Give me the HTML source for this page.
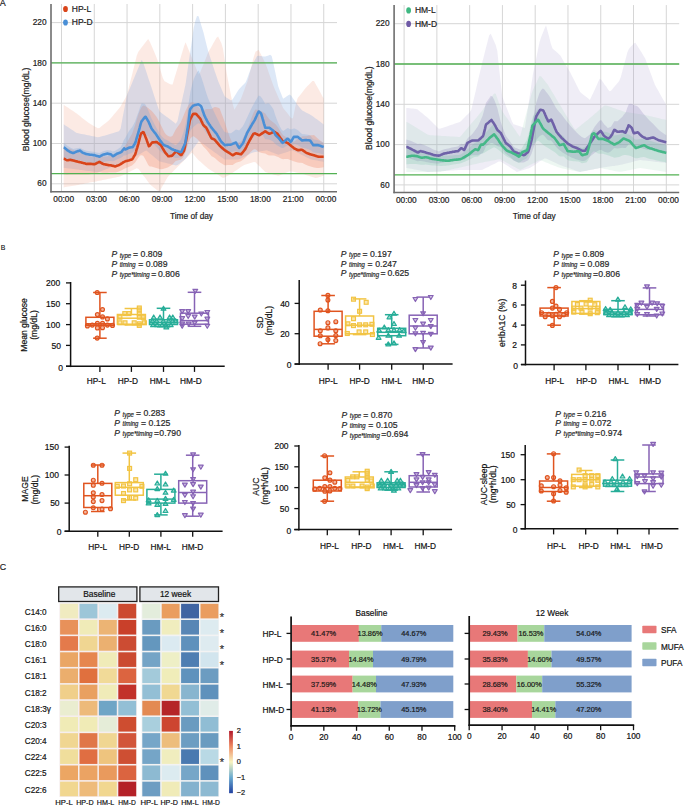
<!DOCTYPE html>
<html><head><meta charset="utf-8"><style>
html,body{margin:0;padding:0;background:#fff;width:685px;height:805px;overflow:hidden}
svg{display:block}
text{font-family:"Liberation Sans", sans-serif; stroke:currentColor; stroke-width:0.18px; paint-order:stroke}
</style></head><body>
<svg width="685" height="805" viewBox="0 0 685 805">
<g>
<line x1="61.50" y1="3.98" x2="61.50" y2="191.80" stroke="#d6d6d6" stroke-width="1" />
<line x1="94.28" y1="3.98" x2="94.28" y2="191.80" stroke="#d6d6d6" stroke-width="1" />
<line x1="127.06" y1="3.98" x2="127.06" y2="191.80" stroke="#d6d6d6" stroke-width="1" />
<line x1="159.84" y1="3.98" x2="159.84" y2="191.80" stroke="#d6d6d6" stroke-width="1" />
<line x1="192.62" y1="3.98" x2="192.62" y2="191.80" stroke="#d6d6d6" stroke-width="1" />
<line x1="225.40" y1="3.98" x2="225.40" y2="191.80" stroke="#d6d6d6" stroke-width="1" />
<line x1="258.18" y1="3.98" x2="258.18" y2="191.80" stroke="#d6d6d6" stroke-width="1" />
<line x1="290.96" y1="3.98" x2="290.96" y2="191.80" stroke="#d6d6d6" stroke-width="1" />
<line x1="323.74" y1="3.98" x2="323.74" y2="191.80" stroke="#d6d6d6" stroke-width="1" />
<line x1="51.00" y1="183.80" x2="337.00" y2="183.80" stroke="#d6d6d6" stroke-width="1" />
<line x1="51.00" y1="143.50" x2="337.00" y2="143.50" stroke="#d6d6d6" stroke-width="1" />
<line x1="51.00" y1="103.20" x2="337.00" y2="103.20" stroke="#d6d6d6" stroke-width="1" />
<line x1="51.00" y1="62.90" x2="337.00" y2="62.90" stroke="#d6d6d6" stroke-width="1" />
<line x1="51.00" y1="22.60" x2="337.00" y2="22.60" stroke="#d6d6d6" stroke-width="1" />
<path d="M63.7,104.8 L65.3,105.9 L67.0,107.0 L68.6,108.1 L70.2,109.2 L71.8,110.2 L73.5,111.3 L75.1,112.4 L76.7,113.5 L78.3,114.8 L80.0,116.1 L81.6,117.4 L83.2,118.7 L84.8,120.0 L86.5,121.3 L88.1,122.5 L89.7,123.5 L91.3,124.4 L93.0,125.4 L94.6,126.4 L96.2,127.3 L97.8,128.3 L99.5,127.9 L101.1,126.6 L102.7,125.3 L104.3,124.0 L106.0,122.7 L107.6,121.4 L109.2,120.1 L110.8,118.2 L112.5,116.2 L114.1,114.3 L115.7,112.4 L117.3,110.4 L119.0,108.5 L120.6,106.4 L122.2,103.6 L123.8,100.8 L125.5,98.1 L127.1,94.5 L128.7,88.0 L130.3,81.5 L132.0,75.1 L133.6,68.6 L135.2,62.1 L136.8,55.6 L138.5,51.5 L140.1,49.4 L141.7,47.3 L143.3,45.2 L145.0,43.1 L146.6,41.0 L148.2,38.9 L149.8,41.7 L151.5,45.5 L153.1,49.3 L154.7,53.1 L156.3,57.0 L158.0,61.6 L159.6,67.1 L161.2,72.5 L162.8,78.0 L164.5,81.3 L166.1,82.1 L167.7,82.9 L169.3,83.7 L171.0,84.5 L172.6,84.6 L174.2,79.1 L175.8,73.7 L177.5,68.2 L179.1,62.8 L180.7,57.4 L182.3,51.9 L184.0,46.5 L185.6,42.2 L187.2,46.2 L188.8,50.2 L190.5,54.3 L192.1,58.3 L193.7,62.3 L195.3,66.3 L197.0,70.4 L198.6,74.4 L200.2,72.4 L201.8,68.3 L203.5,64.3 L205.1,60.2 L206.7,56.2 L208.3,52.1 L210.0,49.2 L211.6,46.4 L213.2,43.5 L214.8,40.7 L216.5,37.8 L218.1,36.5 L219.7,39.7 L221.3,42.9 L223.0,48.8 L224.6,59.5 L226.2,70.3 L227.9,79.7 L229.5,87.8 L231.1,95.9 L232.7,104.0 L234.4,109.8 L236.0,107.1 L237.6,104.4 L239.2,101.7 L240.9,99.0 L242.5,94.8 L244.1,90.5 L245.7,86.1 L247.4,81.7 L249.0,76.1 L250.6,69.6 L252.2,63.1 L253.9,56.6 L255.5,51.7 L257.1,50.7 L258.7,50.0 L260.4,53.2 L262.0,56.5 L263.6,59.7 L265.2,63.0 L266.9,67.3 L268.5,71.9 L270.1,76.5 L271.7,81.1 L273.4,85.7 L275.0,89.7 L276.6,93.3 L278.2,97.0 L279.9,100.7 L281.5,104.3 L283.1,108.0 L284.7,110.1 L286.4,112.1 L288.0,114.1 L289.6,116.2 L291.2,118.2 L292.9,118.2 L294.5,110.7 L296.1,103.3 L297.7,98.0 L299.4,96.0 L301.0,93.9 L302.6,91.9 L304.2,89.8 L305.9,87.8 L307.5,86.0 L309.1,84.4 L310.7,82.8 L312.4,81.1 L314.0,80.9 L315.6,83.9 L317.2,86.8 L318.9,89.8 L320.5,92.8 L322.1,95.7 L323.7,98.7 L323.7,175.8 L322.1,176.3 L320.5,176.8 L318.9,177.3 L317.2,177.8 L315.6,178.1 L314.0,177.6 L312.4,177.0 L310.7,176.5 L309.1,176.0 L307.5,175.4 L305.9,174.9 L304.2,174.3 L302.6,173.8 L301.0,173.3 L299.4,173.0 L297.7,172.7 L296.1,172.4 L294.5,172.1 L292.9,171.8 L291.2,171.4 L289.6,171.4 L288.0,172.0 L286.4,172.6 L284.7,173.3 L283.1,173.9 L281.5,174.6 L279.9,175.2 L278.2,175.8 L276.6,175.3 L275.0,174.9 L273.4,174.4 L271.7,174.0 L270.1,173.5 L268.5,173.1 L266.9,172.6 L265.2,171.9 L263.6,170.3 L262.0,168.7 L260.4,167.1 L258.7,165.5 L257.1,163.9 L255.5,162.3 L253.9,162.1 L252.2,162.6 L250.6,163.1 L249.0,163.6 L247.4,164.1 L245.7,164.6 L244.1,165.1 L242.5,165.9 L240.9,167.1 L239.2,168.2 L237.6,169.4 L236.0,170.5 L234.4,171.6 L232.7,172.8 L231.1,173.8 L229.5,174.8 L227.9,175.7 L226.2,176.6 L224.6,177.6 L223.0,177.9 L221.3,176.9 L219.7,175.8 L218.1,174.8 L216.5,173.8 L214.8,172.8 L213.2,171.8 L211.6,170.8 L210.0,169.8 L208.3,168.8 L206.7,167.3 L205.1,165.9 L203.5,164.5 L201.8,163.1 L200.2,161.6 L198.6,160.2 L197.0,158.5 L195.3,156.5 L193.7,154.6 L192.1,152.6 L190.5,154.0 L188.8,155.7 L187.2,157.3 L185.6,158.9 L184.0,160.5 L182.3,162.2 L180.7,163.8 L179.1,165.4 L177.5,167.0 L175.8,168.7 L174.2,170.3 L172.6,171.9 L171.0,173.5 L169.3,175.2 L167.7,177.0 L166.1,179.8 L164.5,182.7 L162.8,185.5 L161.2,188.4 L159.6,191.2 L158.0,190.7 L156.3,189.5 L154.7,188.2 L153.1,187.0 L151.5,185.8 L149.8,184.1 L148.2,181.9 L146.6,179.7 L145.0,177.6 L143.3,175.4 L141.7,173.3 L140.1,171.1 L138.5,168.9 L136.8,168.2 L135.2,169.0 L133.6,169.8 L132.0,170.6 L130.3,171.4 L128.7,172.2 L127.1,173.1 L125.5,173.9 L123.8,174.7 L122.2,175.5 L120.6,176.3 L119.0,176.8 L117.3,177.1 L115.7,177.4 L114.1,177.7 L112.5,178.1 L110.8,178.4 L109.2,178.7 L107.6,179.1 L106.0,179.4 L104.3,179.7 L102.7,180.0 L101.1,180.4 L99.5,180.7 L97.8,181.0 L96.2,181.4 L94.6,181.7 L93.0,182.0 L91.3,182.3 L89.7,182.6 L88.1,183.0 L86.5,183.3 L84.8,183.6 L83.2,183.9 L81.6,184.2 L80.0,184.6 L78.3,184.9 L76.7,185.2 L75.1,185.5 L73.5,185.7 L71.8,186.0 L70.2,186.3 L68.6,186.6 L67.0,186.8 L65.3,187.1 L63.7,187.4 Z" fill="#f39a80" fill-opacity="0.21"/>
<path d="M63.7,124.3 L65.3,125.4 L67.0,126.5 L68.6,127.6 L70.2,128.7 L71.8,129.7 L73.5,130.8 L75.1,131.9 L76.7,133.0 L78.3,133.3 L80.0,133.7 L81.6,134.0 L83.2,134.3 L84.8,134.6 L86.5,135.0 L88.1,135.3 L89.7,135.6 L91.3,136.0 L93.0,136.3 L94.6,136.6 L96.2,136.9 L97.8,137.3 L99.5,137.1 L101.1,136.6 L102.7,136.1 L104.3,135.7 L106.0,135.2 L107.6,134.7 L109.2,134.2 L110.8,133.7 L112.5,133.2 L114.1,132.7 L115.7,132.2 L117.3,131.8 L119.0,131.3 L120.6,128.8 L122.2,120.1 L123.8,111.4 L125.5,102.7 L127.1,95.1 L128.7,91.1 L130.3,87.2 L132.0,83.3 L133.6,79.3 L135.2,75.4 L136.8,71.5 L138.5,67.6 L140.1,63.6 L141.7,59.7 L143.3,63.0 L145.0,67.9 L146.6,72.8 L148.2,77.7 L149.8,82.6 L151.5,87.5 L153.1,92.4 L154.7,97.4 L156.3,102.3 L158.0,107.2 L159.6,111.5 L161.2,112.7 L162.8,113.9 L164.5,115.2 L166.1,116.4 L167.7,117.6 L169.3,118.8 L171.0,120.0 L172.6,121.2 L174.2,122.4 L175.8,123.7 L177.5,120.9 L179.1,113.5 L180.7,106.2 L182.3,98.9 L184.0,91.6 L185.6,83.9 L187.2,72.7 L188.8,61.5 L190.5,50.3 L192.1,39.2 L193.7,28.0 L195.3,20.9 L197.0,16.0 L198.6,16.2 L200.2,21.7 L201.8,27.1 L203.5,32.6 L205.1,38.9 L206.7,45.4 L208.3,51.8 L210.0,56.7 L211.6,61.6 L213.2,66.5 L214.8,71.4 L216.5,76.3 L218.1,80.9 L219.7,84.7 L221.3,88.5 L223.0,92.4 L224.6,96.2 L226.2,97.4 L227.9,98.5 L229.5,99.5 L231.1,100.6 L232.7,99.3 L234.4,96.6 L236.0,93.9 L237.6,91.2 L239.2,88.9 L240.9,87.2 L242.5,85.6 L244.1,84.0 L245.7,82.3 L247.4,78.0 L249.0,73.6 L250.6,69.3 L252.2,65.0 L253.9,61.7 L255.5,58.9 L257.1,56.0 L258.7,55.7 L260.4,56.0 L262.0,56.3 L263.6,56.6 L265.2,56.4 L266.9,55.9 L268.5,55.4 L270.1,54.8 L271.7,56.0 L273.4,63.5 L275.0,71.1 L276.6,78.7 L278.2,86.3 L279.9,90.7 L281.5,94.8 L283.1,98.8 L284.7,97.7 L286.4,96.6 L288.0,95.5 L289.6,94.4 L291.2,95.8 L292.9,98.2 L294.5,100.6 L296.1,102.8 L297.7,105.0 L299.4,107.2 L301.0,109.3 L302.6,110.8 L304.2,111.6 L305.9,112.5 L307.5,113.3 L309.1,114.1 L310.7,114.9 L312.4,116.0 L314.0,117.2 L315.6,118.4 L317.2,119.6 L318.9,120.8 L320.5,122.0 L322.1,123.3 L323.7,124.5 L323.7,161.8 L322.1,161.5 L320.5,161.2 L318.9,160.9 L317.2,160.6 L315.6,160.3 L314.0,160.0 L312.4,159.7 L310.7,159.3 L309.1,158.5 L307.5,157.7 L305.9,156.9 L304.2,156.1 L302.6,155.3 L301.0,154.4 L299.4,153.6 L297.7,152.8 L296.1,152.0 L294.5,151.2 L292.9,150.4 L291.2,150.6 L289.6,151.1 L288.0,151.7 L286.4,152.2 L284.7,152.7 L283.1,153.3 L281.5,153.8 L279.9,154.3 L278.2,154.7 L276.6,154.1 L275.0,153.4 L273.4,152.8 L271.7,152.2 L270.1,151.5 L268.5,150.9 L266.9,150.2 L265.2,150.5 L263.6,150.7 L262.0,151.0 L260.4,151.3 L258.7,151.5 L257.1,151.8 L255.5,152.0 L253.9,152.3 L252.2,152.7 L250.6,153.5 L249.0,154.4 L247.4,155.2 L245.7,156.0 L244.1,156.8 L242.5,157.6 L240.9,158.4 L239.2,159.2 L237.6,159.5 L236.0,159.5 L234.4,159.5 L232.7,159.5 L231.1,159.5 L229.5,159.5 L227.9,159.5 L226.2,159.5 L224.6,159.4 L223.0,158.3 L221.3,157.1 L219.7,155.9 L218.1,154.8 L216.5,153.6 L214.8,152.4 L213.2,151.3 L211.6,150.1 L210.0,148.9 L208.3,147.8 L206.7,146.6 L205.1,145.3 L203.5,144.1 L201.8,142.9 L200.2,141.7 L198.6,141.3 L197.0,143.5 L195.3,145.7 L193.7,147.9 L192.1,150.1 L190.5,152.3 L188.8,154.5 L187.2,156.7 L185.6,158.8 L184.0,160.2 L182.3,161.4 L180.7,162.7 L179.1,163.9 L177.5,165.1 L175.8,165.5 L174.2,165.1 L172.6,164.7 L171.0,164.3 L169.3,163.8 L167.7,163.4 L166.1,163.0 L164.5,162.6 L162.8,162.2 L161.2,161.8 L159.6,161.4 L158.0,160.2 L156.3,158.8 L154.7,157.5 L153.1,156.1 L151.5,154.7 L149.8,153.4 L148.2,152.0 L146.6,150.6 L145.0,151.1 L143.3,152.0 L141.7,153.0 L140.1,153.9 L138.5,154.8 L136.8,155.7 L135.2,156.6 L133.6,157.5 L132.0,158.4 L130.3,159.3 L128.7,160.2 L127.1,161.1 L125.5,161.8 L123.8,162.4 L122.2,163.0 L120.6,163.7 L119.0,164.3 L117.3,164.9 L115.7,165.5 L114.1,166.2 L112.5,166.8 L110.8,167.4 L109.2,168.1 L107.6,168.7 L106.0,169.3 L104.3,169.9 L102.7,170.6 L101.1,171.2 L99.5,171.8 L97.8,172.1 L96.2,171.9 L94.6,171.7 L93.0,171.5 L91.3,171.3 L89.7,171.1 L88.1,170.9 L86.5,170.7 L84.8,170.5 L83.2,170.3 L81.6,170.1 L80.0,169.9 L78.3,169.6 L76.7,169.4 L75.1,169.2 L73.5,169.0 L71.8,168.8 L70.2,168.6 L68.6,168.4 L67.0,168.2 L65.3,168.0 L63.7,167.8 Z" fill="#7aa8e0" fill-opacity="0.26"/>
<path d="M63.7,146.7 L65.3,147.4 L67.0,148.2 L68.6,148.6 L70.2,148.8 L71.8,149.4 L73.5,150.0 L75.1,150.7 L76.7,151.3 L78.3,152.0 L80.0,152.6 L81.6,153.3 L83.2,154.0 L84.8,154.7 L86.5,155.4 L88.1,155.8 L89.7,156.1 L91.3,156.4 L93.0,156.8 L94.6,157.1 L96.2,156.7 L97.8,156.2 L99.5,155.9 L101.1,156.2 L102.7,156.5 L104.3,156.5 L106.0,156.4 L107.6,156.2 L109.2,155.8 L110.8,155.4 L112.5,155.1 L114.1,154.7 L115.7,154.0 L117.3,153.0 L119.0,151.9 L120.6,150.4 L122.2,148.8 L123.8,147.1 L125.5,145.2 L127.1,142.4 L128.7,139.6 L130.3,136.8 L132.0,134.1 L133.6,129.6 L135.2,124.9 L136.8,119.5 L138.5,114.1 L140.1,109.9 L141.7,107.1 L143.3,105.4 L145.0,106.0 L146.6,106.9 L148.2,108.1 L149.8,109.4 L151.5,110.8 L153.1,112.5 L154.7,114.4 L156.3,116.4 L158.0,119.3 L159.6,122.4 L161.2,125.7 L162.8,129.1 L164.5,132.4 L166.1,134.4 L167.7,135.8 L169.3,136.5 L171.0,136.8 L172.6,135.7 L174.2,132.5 L175.8,129.4 L177.5,127.0 L179.1,124.7 L180.7,122.5 L182.3,118.8 L184.0,114.5 L185.6,110.7 L187.2,107.2 L188.8,104.4 L190.5,102.4 L192.1,102.2 L193.7,102.5 L195.3,103.9 L197.0,105.4 L198.6,107.2 L200.2,109.0 L201.8,109.8 L203.5,110.4 L205.1,109.6 L206.7,109.0 L208.3,109.1 L210.0,109.1 L211.6,109.1 L213.2,107.8 L214.8,106.9 L216.5,107.3 L218.1,107.8 L219.7,108.5 L221.3,112.9 L223.0,117.3 L224.6,121.7 L226.2,126.8 L227.9,131.9 L229.5,136.4 L231.1,140.2 L232.7,143.9 L234.4,144.0 L236.0,143.7 L237.6,143.0 L239.2,142.3 L240.9,141.6 L242.5,139.0 L244.1,136.1 L245.7,132.8 L247.4,128.8 L249.0,124.9 L250.6,120.5 L252.2,116.0 L253.9,111.9 L255.5,109.6 L257.1,109.8 L258.7,109.9 L260.4,110.7 L262.0,111.6 L263.6,112.5 L265.2,113.5 L266.9,115.9 L268.5,118.3 L270.1,120.1 L271.7,121.2 L273.4,122.4 L275.0,123.7 L276.6,125.6 L278.2,127.8 L279.9,130.4 L281.5,133.1 L283.1,135.2 L284.7,136.3 L286.4,137.3 L288.0,138.3 L289.6,139.3 L291.2,140.4 L292.9,141.4 L294.5,141.4 L296.1,140.1 L297.7,138.7 L299.4,137.8 L301.0,136.9 L302.6,136.3 L304.2,136.3 L305.9,136.2 L307.5,135.9 L309.1,135.6 L310.7,135.3 L312.4,135.2 L314.0,135.1 L315.6,136.4 L317.2,138.0 L318.9,139.5 L320.5,140.7 L322.1,141.9 L323.7,143.1 L323.7,167.3 L322.1,167.5 L320.5,167.8 L318.9,168.1 L317.2,168.0 L315.6,167.8 L314.0,167.5 L312.4,167.0 L310.7,166.6 L309.1,166.0 L307.5,165.4 L305.9,164.8 L304.2,164.0 L302.6,163.1 L301.0,162.8 L299.4,162.7 L297.7,162.5 L296.1,162.0 L294.5,161.4 L292.9,160.9 L291.2,160.3 L289.6,159.7 L288.0,159.1 L286.4,159.1 L284.7,159.1 L283.1,159.2 L281.5,158.7 L279.9,157.9 L278.2,157.1 L276.6,156.4 L275.0,155.7 L273.4,155.4 L271.7,155.5 L270.1,155.5 L268.5,155.2 L266.9,154.4 L265.2,153.6 L263.6,153.2 L262.0,152.9 L260.4,152.5 L258.7,151.9 L257.1,150.6 L255.5,149.3 L253.9,149.3 L252.2,150.6 L250.6,152.1 L249.0,153.7 L247.4,155.5 L245.7,157.2 L244.1,158.7 L242.5,160.1 L240.9,161.3 L239.2,161.8 L237.6,162.2 L236.0,162.7 L234.4,163.8 L232.7,164.9 L231.1,164.9 L229.5,165.0 L227.9,165.1 L226.2,165.2 L224.6,165.2 L223.0,164.2 L221.3,163.2 L219.7,162.3 L218.1,160.9 L216.5,159.4 L214.8,158.0 L213.2,157.1 L211.6,156.2 L210.0,154.2 L208.3,152.0 L206.7,149.9 L205.1,148.2 L203.5,146.8 L201.8,144.6 L200.2,142.2 L198.6,140.5 L197.0,138.8 L195.3,137.4 L193.7,136.3 L192.1,136.8 L190.5,138.3 L188.8,142.1 L187.2,146.9 L185.6,151.8 L184.0,156.1 L182.3,158.2 L180.7,159.8 L179.1,160.1 L177.5,160.4 L175.8,160.9 L174.2,162.6 L172.6,164.4 L171.0,165.6 L169.3,166.6 L167.7,167.5 L166.1,168.1 L164.5,168.6 L162.8,168.9 L161.2,169.2 L159.6,169.0 L158.0,168.6 L156.3,168.1 L154.7,167.5 L153.1,166.9 L151.5,166.6 L149.8,166.6 L148.2,165.0 L146.6,161.8 L145.0,158.7 L143.3,155.8 L141.7,155.2 L140.1,155.6 L138.5,157.4 L136.8,159.9 L135.2,162.4 L133.6,164.1 L132.0,165.6 L130.3,166.3 L128.7,166.9 L127.1,167.6 L125.5,168.2 L123.8,169.0 L122.2,169.9 L120.6,170.7 L119.0,171.5 L117.3,171.9 L115.7,172.4 L114.1,172.5 L112.5,172.5 L110.8,172.5 L109.2,172.6 L107.6,172.7 L106.0,172.8 L104.3,172.8 L102.7,172.7 L101.1,172.5 L99.5,172.2 L97.8,172.7 L96.2,173.3 L94.6,173.8 L93.0,173.9 L91.3,174.0 L89.7,174.2 L88.1,174.4 L86.5,174.5 L84.8,174.5 L83.2,174.5 L81.6,174.5 L80.0,174.5 L78.3,174.5 L76.7,174.5 L75.1,174.5 L73.5,174.4 L71.8,174.4 L70.2,174.4 L68.6,174.6 L67.0,174.8 L65.3,174.6 L63.7,174.5 Z" fill="#f08464" fill-opacity="0.3"/>
<path d="M63.7,143.2 L65.3,144.1 L67.0,145.4 L68.6,146.6 L70.2,147.6 L71.8,148.3 L73.5,148.9 L75.1,148.6 L76.7,148.2 L78.3,148.0 L80.0,147.7 L81.6,148.8 L83.2,149.6 L84.8,150.2 L86.5,150.7 L88.1,151.0 L89.7,151.2 L91.3,151.5 L93.0,151.7 L94.6,151.9 L96.2,152.4 L97.8,152.8 L99.5,153.1 L101.1,152.3 L102.7,151.5 L104.3,151.0 L106.0,150.6 L107.6,150.3 L109.2,150.4 L110.8,150.6 L112.5,151.5 L114.1,151.3 L115.7,150.4 L117.3,149.5 L119.0,148.3 L120.6,147.2 L122.2,144.3 L123.8,140.0 L125.5,137.5 L127.1,134.5 L128.7,131.5 L130.3,129.3 L132.0,127.2 L133.6,124.5 L135.2,121.2 L136.8,116.6 L138.5,111.9 L140.1,106.9 L141.7,103.3 L143.3,103.6 L145.0,104.0 L146.6,106.7 L148.2,110.3 L149.8,114.3 L151.5,118.5 L153.1,121.6 L154.7,124.6 L156.3,127.7 L158.0,130.8 L159.6,134.0 L161.2,135.8 L162.8,137.6 L164.5,139.0 L166.1,139.8 L167.7,140.5 L169.3,141.6 L171.0,142.7 L172.6,143.6 L174.2,144.4 L175.8,145.2 L177.5,143.8 L179.1,141.9 L180.7,140.0 L182.3,135.8 L184.0,130.5 L185.6,124.3 L187.2,113.4 L188.8,102.1 L190.5,91.4 L192.1,84.8 L193.7,79.3 L195.3,75.8 L197.0,72.2 L198.6,70.5 L200.2,74.3 L201.8,78.8 L203.5,84.1 L205.1,89.3 L206.7,94.4 L208.3,98.8 L210.0,102.8 L211.6,106.7 L213.2,110.1 L214.8,113.5 L216.5,116.9 L218.1,120.3 L219.7,123.7 L221.3,126.8 L223.0,129.4 L224.6,132.0 L226.2,132.5 L227.9,132.8 L229.5,133.2 L231.1,133.3 L232.7,132.1 L234.4,130.8 L236.0,129.6 L237.6,130.1 L239.2,130.4 L240.9,128.5 L242.5,126.7 L244.1,123.9 L245.7,120.5 L247.4,117.1 L249.0,113.5 L250.6,110.0 L252.2,106.8 L253.9,103.7 L255.5,100.8 L257.1,98.0 L258.7,95.5 L260.4,96.3 L262.0,98.2 L263.6,101.1 L265.2,103.9 L266.9,103.6 L268.5,103.3 L270.1,104.4 L271.7,106.8 L273.4,109.2 L275.0,114.6 L276.6,118.9 L278.2,122.8 L279.9,126.5 L281.5,129.4 L283.1,131.0 L284.7,129.9 L286.4,128.7 L288.0,128.0 L289.6,129.0 L291.2,129.6 L292.9,128.7 L294.5,128.6 L296.1,129.3 L297.7,130.0 L299.4,131.6 L301.0,133.2 L302.6,134.2 L304.2,134.3 L305.9,134.4 L307.5,134.8 L309.1,135.1 L310.7,136.1 L312.4,138.2 L314.0,139.4 L315.6,139.8 L317.2,140.1 L318.9,140.6 L320.5,141.3 L322.1,142.1 L323.7,142.8 L323.7,154.4 L322.1,154.0 L320.5,153.5 L318.9,153.1 L317.2,152.9 L315.6,152.7 L314.0,152.6 L312.4,151.7 L310.7,150.3 L309.1,149.4 L307.5,148.9 L305.9,148.5 L304.2,148.1 L302.6,147.8 L301.0,147.0 L299.4,145.9 L297.7,144.9 L296.1,144.5 L294.5,144.0 L292.9,144.7 L291.2,146.0 L289.6,145.9 L288.0,145.2 L286.4,145.9 L284.7,146.9 L283.1,147.9 L281.5,147.7 L279.9,146.9 L278.2,146.0 L276.6,145.0 L275.0,143.7 L273.4,141.8 L271.7,140.8 L270.1,139.9 L268.5,139.4 L266.9,139.2 L265.2,139.1 L263.6,136.4 L262.0,133.7 L260.4,132.0 L258.7,131.5 L257.1,133.3 L255.5,135.2 L253.9,136.9 L252.2,138.5 L250.6,140.2 L249.0,142.0 L247.4,143.9 L245.7,146.2 L244.1,148.7 L242.5,150.7 L240.9,152.1 L239.2,153.6 L237.6,152.4 L236.0,151.0 L234.4,151.3 L232.7,151.7 L231.1,152.0 L229.5,152.1 L227.9,152.2 L226.2,152.2 L224.6,152.2 L223.0,150.8 L221.3,149.4 L219.7,147.6 L218.1,145.6 L216.5,143.6 L214.8,142.1 L213.2,140.5 L211.6,139.0 L210.0,137.2 L208.3,135.4 L206.7,133.4 L205.1,131.2 L203.5,128.5 L201.8,125.5 L200.2,123.9 L198.6,123.2 L197.0,124.0 L195.3,125.4 L193.7,126.7 L192.1,128.5 L190.5,130.5 L188.8,136.7 L187.2,143.5 L185.6,149.9 L184.0,153.1 L182.3,155.5 L180.7,157.3 L179.1,157.6 L177.5,157.9 L175.8,158.0 L174.2,157.5 L172.6,157.0 L171.0,156.4 L169.3,155.7 L167.7,155.0 L166.1,154.5 L164.5,154.0 L162.8,153.1 L161.2,151.8 L159.6,150.6 L158.0,148.7 L156.3,146.8 L154.7,145.0 L153.1,143.3 L151.5,141.6 L149.8,139.0 L148.2,136.6 L146.6,134.9 L145.0,134.1 L143.3,135.6 L141.7,137.0 L140.1,140.0 L138.5,143.5 L136.8,146.6 L135.2,149.8 L133.6,151.6 L132.0,152.8 L130.3,153.4 L128.7,154.0 L127.1,154.8 L125.5,155.6 L123.8,155.6 L122.2,157.0 L120.6,158.0 L119.0,158.6 L117.3,159.2 L115.7,160.0 L114.1,160.9 L112.5,161.2 L110.8,160.9 L109.2,161.0 L107.6,161.2 L106.0,161.6 L104.3,162.1 L102.7,162.7 L101.1,163.5 L99.5,164.2 L97.8,164.0 L96.2,163.7 L94.6,163.4 L93.0,163.2 L91.3,163.0 L89.7,162.8 L88.1,162.6 L86.5,162.4 L84.8,162.0 L83.2,161.6 L81.6,161.0 L80.0,160.2 L78.3,160.3 L76.7,160.5 L75.1,160.7 L73.5,161.0 L71.8,160.7 L70.2,160.4 L68.6,159.7 L67.0,159.1 L65.3,158.3 L63.7,157.7 Z" fill="#7ea8dc" fill-opacity="0.3"/>
<path d="M63.7,158.8 L64.4,158.9 L65.0,159.2 L65.7,159.6 L66.3,159.9 L67.0,160.2 L67.6,160.2 L68.3,160.1 L68.9,160.0 L69.6,159.9 L70.2,159.8 L70.9,160.0 L71.5,160.1 L72.2,160.3 L72.8,160.4 L73.5,160.6 L74.1,160.8 L74.8,160.9 L75.4,161.1 L76.1,161.2 L76.7,161.4 L77.4,161.5 L78.0,161.7 L78.7,161.9 L79.3,162.0 L80.0,162.2 L80.6,162.3 L81.3,162.5 L81.9,162.7 L82.6,162.8 L83.2,163.0 L83.9,163.2 L84.5,163.3 L85.2,163.5 L85.8,163.7 L86.5,163.9 L87.1,163.9 L87.8,163.9 L88.4,163.9 L89.1,163.9 L89.7,163.9 L90.4,163.9 L91.0,163.9 L91.7,164.0 L92.3,164.0 L93.0,164.1 L93.6,164.1 L94.3,164.2 L94.9,164.1 L95.6,163.8 L96.2,163.4 L96.9,163.1 L97.5,162.7 L98.2,162.4 L98.8,162.1 L99.5,161.9 L100.1,162.3 L100.8,162.6 L101.4,163.0 L102.1,163.4 L102.7,163.8 L103.4,164.0 L104.0,164.2 L104.7,164.3 L105.3,164.5 L106.0,164.6 L106.6,164.8 L107.3,164.9 L107.9,165.0 L108.6,165.1 L109.2,165.2 L109.9,165.2 L110.5,165.3 L111.2,165.4 L111.8,165.6 L112.5,165.7 L113.1,165.9 L113.8,166.0 L114.4,166.2 L115.1,166.4 L115.7,166.2 L116.4,166.0 L117.0,165.7 L117.7,165.5 L118.3,165.3 L119.0,165.0 L119.6,164.7 L120.3,164.3 L120.9,163.9 L121.6,163.5 L122.2,163.1 L122.9,162.6 L123.5,162.2 L124.2,161.9 L124.8,161.5 L125.5,161.3 L126.1,161.1 L126.8,160.9 L127.4,160.7 L128.1,160.6 L128.7,160.4 L129.4,160.2 L130.0,160.0 L130.7,159.8 L131.3,159.6 L132.0,159.5 L132.6,158.7 L133.3,157.6 L133.9,156.5 L134.6,155.4 L135.2,154.3 L135.9,152.1 L136.5,149.9 L137.2,147.8 L137.8,145.6 L138.5,143.3 L139.1,140.7 L139.8,138.0 L140.4,135.4 L141.1,133.6 L141.7,133.1 L142.4,132.6 L143.0,132.1 L143.7,132.4 L144.3,134.0 L145.0,135.6 L145.6,137.2 L146.3,138.9 L146.9,140.7 L147.6,142.6 L148.2,144.4 L148.9,146.2 L149.5,145.9 L150.2,145.1 L150.8,144.2 L151.5,143.3 L152.1,142.5 L152.8,142.4 L153.4,142.4 L154.1,142.3 L154.7,142.2 L155.4,142.1 L156.0,142.1 L156.7,142.0 L157.3,142.5 L158.0,143.0 L158.6,143.4 L159.3,143.9 L159.9,144.4 L160.6,144.9 L161.2,145.8 L161.9,146.9 L162.5,148.1 L163.2,149.2 L163.8,150.3 L164.5,151.4 L165.1,152.5 L165.8,153.2 L166.4,154.0 L167.1,154.7 L167.7,155.5 L168.4,156.3 L169.0,156.2 L169.7,156.1 L170.3,156.0 L171.0,155.9 L171.6,155.9 L172.3,155.5 L172.9,154.8 L173.6,154.0 L174.2,153.3 L174.9,152.6 L175.5,151.9 L176.2,151.3 L176.8,151.8 L177.5,152.3 L178.1,152.8 L178.8,153.3 L179.4,153.9 L180.1,154.4 L180.7,154.9 L181.4,155.0 L182.0,154.0 L182.7,152.9 L183.3,151.8 L184.0,150.7 L184.6,148.5 L185.3,144.9 L185.9,141.4 L186.6,137.8 L187.2,134.2 L187.9,130.8 L188.5,127.3 L189.2,123.9 L189.8,120.5 L190.5,118.7 L191.1,117.5 L191.8,116.3 L192.4,115.1 L193.1,114.0 L193.7,113.9 L194.4,113.9 L195.0,113.9 L195.7,113.9 L196.3,114.1 L197.0,114.9 L197.6,115.6 L198.3,116.3 L198.9,117.1 L199.6,117.8 L200.2,118.5 L200.9,119.9 L201.5,121.3 L202.2,122.7 L202.8,124.1 L203.5,125.2 L204.1,125.8 L204.8,126.4 L205.4,126.9 L206.1,127.5 L206.7,128.6 L207.4,129.9 L208.0,131.2 L208.7,132.6 L209.3,133.9 L210.0,135.3 L210.6,136.6 L211.3,137.9 L211.9,138.6 L212.6,138.8 L213.2,139.0 L213.9,139.3 L214.5,139.5 L215.2,140.3 L215.8,141.1 L216.5,141.9 L217.1,142.6 L217.8,143.4 L218.4,144.2 L219.1,145.0 L219.7,145.7 L220.4,146.3 L221.0,146.9 L221.7,147.5 L222.3,148.1 L223.0,148.6 L223.6,149.2 L224.3,149.8 L224.9,150.3 L225.6,150.7 L226.2,151.1 L226.9,151.5 L227.5,151.9 L228.2,152.3 L228.8,152.7 L229.5,153.1 L230.1,153.5 L230.8,154.0 L231.4,154.4 L232.1,154.8 L232.7,155.2 L233.4,155.0 L234.0,154.5 L234.7,154.1 L235.3,153.7 L236.0,153.2 L236.6,153.3 L237.3,153.5 L237.9,153.6 L238.6,153.8 L239.2,153.9 L239.9,154.0 L240.5,154.2 L241.2,154.2 L241.8,153.4 L242.5,152.6 L243.1,151.8 L243.8,151.0 L244.4,150.2 L245.1,149.4 L245.7,148.1 L246.4,146.8 L247.0,145.5 L247.7,144.2 L248.3,142.9 L249.0,141.6 L249.6,140.4 L250.3,139.3 L250.9,138.1 L251.6,137.0 L252.2,135.9 L252.9,134.7 L253.5,133.8 L254.2,133.6 L254.8,133.4 L255.5,133.5 L256.1,133.9 L256.8,134.2 L257.4,134.5 L258.1,134.9 L258.7,135.2 L259.4,135.2 L260.0,134.8 L260.7,134.3 L261.3,133.9 L262.0,133.5 L262.6,133.0 L263.3,132.6 L263.9,132.2 L264.6,131.7 L265.2,131.3 L265.9,131.7 L266.5,132.1 L267.2,132.5 L267.8,132.9 L268.5,133.3 L269.1,133.7 L269.8,133.6 L270.4,133.4 L271.1,133.1 L271.7,132.8 L272.4,132.6 L273.0,132.3 L273.7,132.1 L274.3,131.8 L275.0,132.2 L275.6,132.6 L276.3,133.0 L276.9,133.4 L277.6,133.9 L278.2,134.8 L278.9,135.8 L279.5,136.7 L280.2,137.6 L280.8,138.5 L281.5,139.4 L282.1,140.3 L282.8,141.1 L283.4,141.3 L284.1,141.6 L284.7,141.8 L285.4,142.1 L286.0,142.3 L286.7,142.6 L287.3,142.9 L288.0,143.2 L288.6,143.8 L289.3,144.3 L289.9,144.9 L290.6,145.4 L291.2,146.0 L291.9,146.5 L292.5,147.0 L293.2,147.6 L293.8,148.1 L294.5,148.5 L295.1,148.8 L295.8,149.1 L296.4,149.5 L297.1,149.8 L297.7,150.1 L298.4,150.1 L299.0,150.1 L299.7,150.0 L300.3,149.9 L301.0,149.8 L301.6,149.7 L302.3,149.9 L302.9,150.4 L303.6,150.9 L304.2,151.3 L304.9,151.8 L305.5,152.3 L306.2,152.7 L306.8,153.0 L307.5,153.2 L308.1,153.5 L308.8,153.7 L309.4,154.0 L310.1,154.3 L310.7,154.4 L311.4,154.6 L312.0,154.7 L312.7,154.9 L313.3,155.1 L314.0,155.2 L314.6,155.4 L315.3,155.7 L315.9,155.9 L316.6,156.1 L317.2,156.4 L317.9,156.6 L318.5,156.8 L319.2,156.8 L319.8,156.8 L320.5,156.8 L321.1,156.8 L321.8,156.8 L322.4,156.8 L323.1,156.8 L323.7,156.8" fill="none" stroke="#d9441a" stroke-width="2.6" stroke-linejoin="round"/>
<path d="M63.7,147.5 L64.4,147.7 L65.0,148.3 L65.7,148.8 L66.3,149.3 L67.0,149.9 L67.6,150.4 L68.3,150.8 L68.9,151.2 L69.6,151.7 L70.2,152.1 L70.9,152.3 L71.5,152.5 L72.2,152.7 L72.8,152.9 L73.5,153.0 L74.1,152.7 L74.8,152.4 L75.4,152.1 L76.1,151.8 L76.7,151.5 L77.4,151.3 L78.0,151.1 L78.7,151.0 L79.3,150.8 L80.0,150.6 L80.6,151.1 L81.3,151.6 L81.9,152.1 L82.6,152.6 L83.2,152.9 L83.9,153.1 L84.5,153.4 L85.2,153.6 L85.8,153.9 L86.5,154.1 L87.1,154.3 L87.8,154.3 L88.4,154.4 L89.1,154.5 L89.7,154.6 L90.4,154.7 L91.0,154.7 L91.7,154.8 L92.3,154.9 L93.0,155.0 L93.6,155.1 L94.3,155.1 L94.9,155.3 L95.6,155.5 L96.2,155.7 L96.9,155.9 L97.5,156.1 L98.2,156.3 L98.8,156.5 L99.5,156.6 L100.1,156.3 L100.8,155.9 L101.4,155.5 L102.1,155.2 L102.7,154.8 L103.4,154.6 L104.0,154.4 L104.7,154.2 L105.3,154.1 L106.0,153.9 L106.6,153.7 L107.3,153.6 L107.9,153.8 L108.6,153.9 L109.2,154.0 L109.9,154.1 L110.5,154.2 L111.2,154.6 L111.8,155.2 L112.5,155.7 L113.1,156.2 L113.8,155.8 L114.4,155.4 L115.1,155.0 L115.7,154.5 L116.4,154.1 L117.0,153.7 L117.7,153.4 L118.3,153.2 L119.0,153.0 L119.6,152.7 L120.3,152.5 L120.9,152.2 L121.6,151.8 L122.2,150.9 L122.9,150.0 L123.5,149.2 L124.2,148.3 L124.8,149.2 L125.5,149.5 L126.1,149.1 L126.8,148.8 L127.4,148.5 L128.1,148.1 L128.7,147.8 L129.4,147.6 L130.0,147.5 L130.7,147.4 L131.3,147.3 L132.0,147.2 L132.6,147.1 L133.3,146.2 L133.9,145.1 L134.6,144.0 L135.2,143.0 L135.9,140.8 L136.5,138.7 L137.2,136.5 L137.8,134.4 L138.5,132.2 L139.1,129.8 L139.8,127.3 L140.4,124.9 L141.1,122.5 L141.7,121.1 L142.4,120.3 L143.0,119.5 L143.7,118.7 L144.3,117.9 L145.0,117.0 L145.6,116.8 L146.3,117.9 L146.9,119.0 L147.6,120.1 L148.2,121.1 L148.9,122.4 L149.5,123.9 L150.2,125.4 L150.8,126.9 L151.5,128.4 L152.1,129.3 L152.8,130.1 L153.4,131.0 L154.1,131.8 L154.7,132.6 L155.4,133.4 L156.0,134.3 L156.7,135.3 L157.3,136.3 L158.0,137.3 L158.6,138.3 L159.3,139.3 L159.9,140.3 L160.6,141.1 L161.2,141.9 L161.9,142.7 L162.5,143.5 L163.2,144.3 L163.8,145.1 L164.5,145.3 L165.1,145.6 L165.8,145.8 L166.4,146.1 L167.1,146.3 L167.7,146.5 L168.4,146.9 L169.0,147.3 L169.7,147.7 L170.3,148.1 L171.0,148.5 L171.6,149.0 L172.3,149.3 L172.9,149.5 L173.6,149.8 L174.2,150.0 L174.9,150.2 L175.5,150.5 L176.2,150.7 L176.8,150.9 L177.5,151.1 L178.1,151.3 L178.8,151.5 L179.4,151.7 L180.1,151.9 L180.7,152.1 L181.4,151.8 L182.0,150.4 L182.7,148.9 L183.3,147.4 L184.0,146.0 L184.6,144.5 L185.3,143.1 L185.9,138.9 L186.6,134.6 L187.2,130.4 L187.9,126.1 L188.5,121.6 L189.2,116.2 L189.8,110.8 L190.5,108.8 L191.1,108.0 L191.8,107.2 L192.4,106.5 L193.1,105.7 L193.7,105.5 L194.4,105.3 L195.0,105.1 L195.7,104.9 L196.3,104.8 L197.0,104.6 L197.6,104.4 L198.3,104.2 L198.9,104.7 L199.6,105.1 L200.2,105.5 L200.9,106.0 L201.5,107.2 L202.2,109.1 L202.8,111.0 L203.5,112.9 L204.1,114.9 L204.8,116.3 L205.4,117.6 L206.1,118.9 L206.7,120.2 L207.4,121.5 L208.0,122.5 L208.7,123.5 L209.3,124.5 L210.0,125.4 L210.6,126.4 L211.3,127.4 L211.9,128.2 L212.6,129.0 L213.2,129.8 L213.9,130.5 L214.5,131.3 L215.2,132.1 L215.8,132.9 L216.5,133.6 L217.1,134.7 L217.8,135.9 L218.4,137.0 L219.1,138.1 L219.7,139.3 L220.4,140.4 L221.0,141.3 L221.7,142.0 L222.3,142.7 L223.0,143.3 L223.6,144.0 L224.3,144.7 L224.9,145.1 L225.6,145.0 L226.2,145.0 L226.9,144.9 L227.5,144.9 L228.2,144.8 L228.8,144.8 L229.5,144.7 L230.1,144.7 L230.8,144.6 L231.4,144.4 L232.1,144.1 L232.7,143.8 L233.4,143.6 L234.0,143.3 L234.7,143.0 L235.3,142.8 L236.0,142.5 L236.6,143.6 L237.3,144.8 L237.9,146.0 L238.6,147.2 L239.2,147.9 L239.9,147.1 L240.5,146.3 L241.2,145.5 L241.8,144.6 L242.5,143.8 L243.1,142.9 L243.8,141.3 L244.4,139.7 L245.1,138.1 L245.7,136.5 L246.4,134.8 L247.0,133.2 L247.7,132.0 L248.3,130.8 L249.0,129.7 L249.6,128.6 L250.3,127.5 L250.9,126.3 L251.6,125.2 L252.2,124.1 L252.9,123.1 L253.5,122.0 L254.2,120.9 L254.8,119.8 L255.5,118.4 L256.1,117.0 L256.8,115.5 L257.4,114.0 L258.1,112.6 L258.7,111.5 L259.4,112.0 L260.0,112.5 L260.7,113.1 L261.3,114.2 L262.0,116.5 L262.6,118.7 L263.3,121.0 L263.9,123.3 L264.6,125.5 L265.2,127.7 L265.9,127.7 L266.5,127.7 L267.2,127.7 L267.8,127.7 L268.5,127.7 L269.1,127.7 L269.8,128.1 L270.4,128.6 L271.1,129.0 L271.7,129.5 L272.4,130.0 L273.0,130.5 L273.7,131.4 L274.3,132.7 L275.0,134.0 L275.6,135.1 L276.3,135.8 L276.9,136.4 L277.6,137.1 L278.2,137.7 L278.9,138.4 L279.5,139.0 L280.2,139.9 L280.8,140.7 L281.5,141.6 L282.1,142.4 L282.8,142.8 L283.4,142.2 L284.1,141.7 L284.7,141.1 L285.4,140.5 L286.0,139.9 L286.7,139.3 L287.3,138.7 L288.0,138.7 L288.6,139.5 L289.3,140.2 L289.9,141.0 L290.6,141.8 L291.2,141.3 L291.9,140.2 L292.5,139.1 L293.2,137.9 L293.8,136.9 L294.5,136.9 L295.1,136.9 L295.8,136.9 L296.4,136.9 L297.1,136.9 L297.7,136.9 L298.4,137.3 L299.0,137.9 L299.7,138.5 L300.3,139.0 L301.0,139.6 L301.6,140.2 L302.3,140.5 L302.9,140.4 L303.6,140.3 L304.2,140.2 L304.9,140.1 L305.5,140.1 L306.2,140.0 L306.8,140.1 L307.5,140.2 L308.1,140.2 L308.8,140.3 L309.4,140.4 L310.1,140.5 L310.7,141.3 L311.4,142.3 L312.0,143.3 L312.7,144.3 L313.3,145.1 L314.0,145.1 L314.6,145.1 L315.3,145.1 L315.9,145.1 L316.6,145.1 L317.2,145.1 L317.9,145.1 L318.5,145.2 L319.2,145.4 L319.8,145.6 L320.5,145.9 L321.1,146.1 L321.8,146.4 L322.4,146.6 L323.1,146.8 L323.7,147.0" fill="none" stroke="#4a8fd6" stroke-width="2.6" stroke-linejoin="round"/>
<line x1="51.00" y1="62.90" x2="337.00" y2="62.90" stroke="#52b152" stroke-width="1.3" />
<line x1="51.00" y1="173.72" x2="337.00" y2="173.72" stroke="#52b152" stroke-width="1.3" />
<line x1="51.00" y1="3.98" x2="51.00" y2="192.50" stroke="#6e6e6e" stroke-width="1.6" />
<line x1="50.30" y1="191.80" x2="337.00" y2="191.80" stroke="#6e6e6e" stroke-width="1.6" />
<text x="46.50" y="186.40" font-size="8.3" text-anchor="end" fill="#222" >60</text>
<text x="46.50" y="146.10" font-size="8.3" text-anchor="end" fill="#222" >100</text>
<text x="46.50" y="105.80" font-size="8.3" text-anchor="end" fill="#222" >140</text>
<text x="46.50" y="65.50" font-size="8.3" text-anchor="end" fill="#222" >180</text>
<text x="46.50" y="25.20" font-size="8.3" text-anchor="end" fill="#222" >220</text>
<text x="63.70" y="202.20" font-size="8.3" text-anchor="middle" fill="#222" >00:00</text>
<text x="96.48" y="202.20" font-size="8.3" text-anchor="middle" fill="#222" >03:00</text>
<text x="129.26" y="202.20" font-size="8.3" text-anchor="middle" fill="#222" >06:00</text>
<text x="162.04" y="202.20" font-size="8.3" text-anchor="middle" fill="#222" >09:00</text>
<text x="194.82" y="202.20" font-size="8.3" text-anchor="middle" fill="#222" >12:00</text>
<text x="227.60" y="202.20" font-size="8.3" text-anchor="middle" fill="#222" >15:00</text>
<text x="260.38" y="202.20" font-size="8.3" text-anchor="middle" fill="#222" >18:00</text>
<text x="293.16" y="202.20" font-size="8.3" text-anchor="middle" fill="#222" >21:00</text>
<text x="325.94" y="202.20" font-size="8.3" text-anchor="middle" fill="#222" >00:00</text>
<text x="191.50" y="218.60" font-size="8.3" text-anchor="middle" fill="#222" >Time of day</text>
<text x="29.00" y="109.50" font-size="8.6" text-anchor="middle" fill="#222" transform="rotate(-90 29.00 109.50)">Blood glucose(mg/dL)</text>
<ellipse cx="65.50" cy="8.98" rx="2.4" ry="3.1" fill="#d9441a"/>
<text x="71.80" y="11.98" font-size="8.5" text-anchor="start" fill="#222" >HP-L</text>
<ellipse cx="65.50" cy="22.48" rx="2.4" ry="3.1" fill="#4a8fd6"/>
<text x="71.80" y="25.48" font-size="8.5" text-anchor="start" fill="#222" >HP-D</text>
</g>
<g>
<line x1="404.10" y1="5.08" x2="404.10" y2="192.50" stroke="#d6d6d6" stroke-width="1" />
<line x1="436.88" y1="5.08" x2="436.88" y2="192.50" stroke="#d6d6d6" stroke-width="1" />
<line x1="469.65" y1="5.08" x2="469.65" y2="192.50" stroke="#d6d6d6" stroke-width="1" />
<line x1="502.43" y1="5.08" x2="502.43" y2="192.50" stroke="#d6d6d6" stroke-width="1" />
<line x1="535.20" y1="5.08" x2="535.20" y2="192.50" stroke="#d6d6d6" stroke-width="1" />
<line x1="567.98" y1="5.08" x2="567.98" y2="192.50" stroke="#d6d6d6" stroke-width="1" />
<line x1="600.75" y1="5.08" x2="600.75" y2="192.50" stroke="#d6d6d6" stroke-width="1" />
<line x1="633.52" y1="5.08" x2="633.52" y2="192.50" stroke="#d6d6d6" stroke-width="1" />
<line x1="666.30" y1="5.08" x2="666.30" y2="192.50" stroke="#d6d6d6" stroke-width="1" />
<line x1="394.10" y1="184.90" x2="679.20" y2="184.90" stroke="#d6d6d6" stroke-width="1" />
<line x1="394.10" y1="144.60" x2="679.20" y2="144.60" stroke="#d6d6d6" stroke-width="1" />
<line x1="394.10" y1="104.30" x2="679.20" y2="104.30" stroke="#d6d6d6" stroke-width="1" />
<line x1="394.10" y1="64.00" x2="679.20" y2="64.00" stroke="#d6d6d6" stroke-width="1" />
<line x1="394.10" y1="23.70" x2="679.20" y2="23.70" stroke="#d6d6d6" stroke-width="1" />
<path d="M406.3,108.0 L407.9,108.1 L409.6,108.3 L411.2,108.4 L412.8,108.6 L414.4,108.7 L416.1,108.9 L417.7,109.6 L419.3,110.9 L420.9,112.2 L422.6,113.5 L424.2,114.9 L425.8,116.2 L427.4,117.5 L429.1,119.1 L430.7,120.7 L432.3,122.3 L433.9,123.9 L435.6,125.6 L437.2,127.2 L438.8,128.8 L440.4,128.5 L442.1,128.0 L443.7,127.4 L445.3,126.9 L446.9,126.4 L448.6,125.8 L450.2,125.3 L451.8,124.7 L453.4,124.2 L455.1,123.6 L456.7,123.1 L458.3,122.6 L459.9,122.0 L461.6,120.4 L463.2,118.8 L464.8,117.2 L466.4,115.6 L468.1,113.9 L469.7,112.3 L471.3,109.7 L472.9,102.7 L474.6,95.7 L476.2,88.7 L477.8,81.6 L479.4,74.6 L481.1,67.6 L482.7,60.8 L484.3,54.4 L485.9,48.0 L487.6,41.6 L489.2,35.2 L490.8,33.8 L492.4,37.5 L494.1,41.3 L495.7,45.0 L497.3,50.9 L498.9,66.5 L500.6,82.1 L502.2,96.4 L503.8,100.6 L505.4,104.7 L507.1,108.9 L508.7,113.0 L510.3,117.1 L511.9,121.3 L513.5,124.2 L515.2,124.7 L516.8,125.3 L518.4,125.8 L520.0,126.3 L521.7,126.9 L523.3,127.4 L524.9,128.0 L526.5,117.5 L528.2,106.6 L529.8,95.6 L531.4,84.6 L533.0,73.8 L534.7,65.9 L536.3,58.0 L537.9,50.1 L539.5,42.2 L541.2,37.1 L542.8,33.0 L544.4,28.9 L546.0,25.2 L547.7,31.4 L549.3,37.6 L550.9,43.9 L552.5,48.5 L554.2,49.9 L555.8,51.3 L557.4,52.7 L559.0,54.2 L560.7,56.1 L562.3,58.9 L563.9,61.7 L565.5,64.4 L567.2,67.2 L568.8,70.0 L570.4,72.8 L572.0,76.1 L573.7,79.3 L575.3,82.6 L576.9,85.8 L578.5,89.1 L580.2,92.1 L581.8,93.4 L583.4,94.7 L585.0,96.0 L586.7,97.3 L588.3,98.6 L589.9,99.9 L591.5,96.6 L593.2,93.0 L594.8,89.4 L596.4,85.9 L598.0,82.3 L599.7,78.7 L601.3,79.8 L602.9,82.1 L604.5,84.4 L606.2,86.6 L607.8,88.9 L609.4,91.2 L611.0,90.7 L612.7,88.8 L614.3,86.8 L615.9,84.9 L617.5,82.9 L619.2,81.0 L620.8,77.0 L622.4,70.9 L624.0,64.8 L625.7,58.7 L627.3,52.6 L628.9,48.9 L630.5,47.1 L632.2,45.2 L633.8,43.4 L635.4,42.7 L637.0,45.3 L638.7,47.9 L640.3,50.5 L641.9,53.1 L643.5,55.7 L645.2,58.5 L646.8,62.9 L648.4,67.2 L650.0,71.6 L651.7,76.0 L653.3,80.4 L654.9,84.8 L656.5,87.7 L658.2,90.6 L659.8,93.5 L661.4,96.4 L663.0,99.2 L664.7,102.1 L666.3,105.0 L666.3,163.0 L664.7,162.8 L663.0,162.6 L661.4,162.4 L659.8,162.3 L658.2,162.1 L656.5,161.9 L654.9,161.7 L653.3,161.5 L651.7,161.3 L650.0,161.1 L648.4,161.0 L646.8,160.8 L645.2,160.6 L643.5,160.4 L641.9,160.2 L640.3,160.0 L638.7,160.3 L637.0,160.7 L635.4,161.1 L633.8,161.6 L632.2,162.0 L630.5,162.4 L628.9,162.8 L627.3,163.2 L625.7,163.6 L624.0,164.0 L622.4,164.4 L620.8,164.8 L619.2,165.1 L617.5,165.4 L615.9,165.6 L614.3,165.9 L612.7,166.1 L611.0,166.3 L609.4,166.6 L607.8,166.8 L606.2,167.1 L604.5,167.3 L602.9,167.6 L601.3,167.8 L599.7,168.1 L598.0,168.4 L596.4,168.7 L594.8,169.0 L593.2,169.4 L591.5,169.7 L589.9,170.0 L588.3,170.3 L586.7,170.7 L585.0,171.0 L583.4,171.3 L581.8,171.6 L580.2,172.0 L578.5,171.5 L576.9,170.9 L575.3,170.4 L573.7,169.8 L572.0,169.2 L570.4,168.6 L568.8,168.1 L567.2,167.5 L565.5,166.9 L563.9,166.4 L562.3,165.8 L560.7,165.2 L559.0,164.6 L557.4,163.8 L555.8,163.0 L554.2,162.3 L552.5,161.5 L550.9,160.8 L549.3,160.0 L547.7,159.2 L546.0,158.5 L544.4,158.4 L542.8,159.5 L541.2,160.6 L539.5,161.6 L537.9,162.7 L536.3,163.8 L534.7,164.9 L533.0,166.0 L531.4,167.1 L529.8,168.1 L528.2,168.6 L526.5,169.1 L524.9,169.6 L523.3,170.1 L521.7,170.6 L520.0,171.1 L518.4,171.6 L516.8,171.9 L515.2,170.8 L513.5,169.8 L511.9,168.7 L510.3,167.7 L508.7,166.6 L507.1,165.6 L505.4,164.5 L503.8,163.5 L502.2,162.4 L500.6,161.4 L498.9,161.5 L497.3,162.3 L495.7,163.2 L494.1,164.0 L492.4,164.8 L490.8,165.6 L489.2,166.4 L487.6,167.2 L485.9,168.0 L484.3,168.8 L482.7,169.7 L481.1,170.0 L479.4,170.0 L477.8,170.0 L476.2,170.0 L474.6,170.0 L472.9,170.0 L471.3,170.0 L469.7,170.0 L468.1,170.0 L466.4,170.0 L464.8,170.0 L463.2,170.0 L461.6,170.0 L459.9,170.0 L458.3,170.1 L456.7,170.2 L455.1,170.3 L453.4,170.4 L451.8,170.5 L450.2,170.6 L448.6,170.7 L446.9,170.8 L445.3,170.9 L443.7,171.0 L442.1,171.1 L440.4,171.2 L438.8,171.3 L437.2,171.4 L435.6,171.5 L433.9,171.6 L432.3,171.7 L430.7,171.8 L429.1,171.9 L427.4,171.9 L425.8,171.6 L424.2,171.3 L422.6,171.0 L420.9,170.7 L419.3,170.3 L417.7,170.0 L416.1,169.7 L414.4,169.4 L412.8,169.1 L411.2,168.8 L409.6,168.5 L407.9,168.2 L406.3,168.0 Z" fill="#a89cce" fill-opacity="0.18"/>
<path d="M406.3,122.0 L407.9,122.6 L409.6,123.6 L411.2,124.6 L412.8,125.6 L414.4,126.6 L416.1,127.6 L417.7,128.6 L419.3,129.6 L420.9,130.6 L422.6,131.6 L424.2,132.6 L425.8,133.6 L427.4,134.6 L429.1,135.1 L430.7,135.2 L432.3,135.3 L433.9,135.4 L435.6,135.5 L437.2,135.6 L438.8,135.7 L440.4,135.8 L442.1,135.9 L443.7,136.0 L445.3,136.1 L446.9,136.2 L448.6,136.3 L450.2,136.4 L451.8,136.5 L453.4,136.6 L455.1,136.7 L456.7,136.8 L458.3,136.9 L459.9,137.0 L461.6,135.2 L463.2,133.2 L464.8,131.3 L466.4,129.4 L468.1,127.5 L469.7,125.6 L471.3,123.6 L472.9,121.7 L474.6,119.8 L476.2,117.9 L477.8,116.0 L479.4,114.0 L481.1,112.1 L482.7,110.0 L484.3,107.6 L485.9,105.3 L487.6,102.9 L489.2,100.5 L490.8,98.1 L492.4,95.8 L494.1,93.4 L495.7,93.8 L497.3,98.2 L498.9,102.7 L500.6,107.1 L502.2,111.3 L503.8,113.6 L505.4,115.9 L507.1,118.3 L508.7,120.6 L510.3,123.0 L511.9,125.3 L513.5,127.7 L515.2,130.0 L516.8,132.4 L518.4,134.7 L520.0,136.8 L521.7,130.7 L523.3,124.6 L524.9,118.5 L526.5,112.4 L528.2,106.3 L529.8,100.3 L531.4,94.2 L533.0,89.8 L534.7,86.3 L536.3,82.9 L537.9,79.4 L539.5,76.0 L541.2,76.5 L542.8,78.5 L544.4,80.5 L546.0,82.6 L547.7,84.6 L549.3,87.2 L550.9,89.9 L552.5,92.6 L554.2,95.3 L555.8,98.0 L557.4,100.7 L559.0,103.4 L560.7,106.1 L562.3,108.8 L563.9,111.5 L565.5,114.2 L567.2,117.0 L568.8,119.7 L570.4,122.4 L572.0,125.1 L573.7,127.8 L575.3,129.8 L576.9,128.5 L578.5,127.2 L580.2,125.9 L581.8,124.6 L583.4,123.3 L585.0,122.0 L586.7,120.7 L588.3,119.4 L589.9,118.1 L591.5,116.7 L593.2,115.2 L594.8,113.8 L596.4,112.4 L598.0,111.0 L599.7,109.6 L601.3,108.2 L602.9,106.8 L604.5,105.4 L606.2,105.4 L607.8,106.0 L609.4,106.5 L611.0,107.1 L612.7,107.7 L614.3,108.3 L615.9,108.8 L617.5,109.4 L619.2,110.0 L620.8,110.5 L622.4,111.1 L624.0,111.7 L625.7,112.1 L627.3,112.3 L628.9,112.6 L630.5,112.8 L632.2,113.1 L633.8,113.3 L635.4,113.6 L637.0,113.8 L638.7,114.1 L640.3,114.3 L641.9,114.5 L643.5,114.8 L645.2,115.0 L646.8,115.4 L648.4,115.8 L650.0,116.2 L651.7,116.6 L653.3,116.9 L654.9,117.3 L656.5,117.7 L658.2,118.1 L659.8,118.5 L661.4,118.9 L663.0,119.2 L664.7,119.6 L666.3,120.0 L666.3,172.0 L664.7,171.8 L663.0,171.5 L661.4,171.3 L659.8,171.0 L658.2,170.8 L656.5,170.5 L654.9,170.3 L653.3,170.0 L651.7,169.8 L650.0,169.5 L648.4,169.3 L646.8,169.0 L645.2,168.8 L643.5,168.5 L641.9,168.3 L640.3,168.0 L638.7,168.3 L637.0,168.6 L635.4,168.9 L633.8,169.2 L632.2,169.6 L630.5,169.9 L628.9,170.2 L627.3,170.5 L625.7,170.9 L624.0,171.2 L622.4,171.5 L620.8,171.8 L619.2,171.8 L617.5,171.5 L615.9,171.2 L614.3,170.9 L612.7,170.5 L611.0,170.2 L609.4,169.9 L607.8,169.6 L606.2,169.2 L604.5,168.9 L602.9,168.6 L601.3,168.3 L599.7,168.1 L598.0,168.4 L596.4,168.7 L594.8,169.0 L593.2,169.4 L591.5,169.7 L589.9,170.0 L588.3,170.3 L586.7,170.7 L585.0,171.0 L583.4,171.3 L581.8,171.6 L580.2,172.0 L578.5,171.7 L576.9,171.4 L575.3,171.1 L573.7,170.7 L572.0,170.4 L570.4,170.1 L568.8,169.8 L567.2,169.4 L565.5,169.1 L563.9,168.8 L562.3,168.5 L560.7,168.1 L559.0,167.6 L557.4,167.0 L555.8,166.3 L554.2,165.7 L552.5,165.0 L550.9,164.4 L549.3,163.7 L547.7,163.1 L546.0,162.4 L544.4,161.8 L542.8,161.1 L541.2,160.5 L539.5,160.2 L537.9,161.0 L536.3,161.9 L534.7,162.7 L533.0,163.5 L531.4,164.3 L529.8,165.1 L528.2,165.9 L526.5,166.7 L524.9,167.5 L523.3,168.4 L521.7,169.2 L520.0,170.0 L518.4,169.1 L516.8,168.2 L515.2,167.3 L513.5,166.5 L511.9,165.6 L510.3,164.7 L508.7,163.8 L507.1,162.9 L505.4,162.0 L503.8,161.1 L502.2,160.2 L500.6,159.3 L498.9,159.2 L497.3,159.5 L495.7,159.9 L494.1,160.2 L492.4,160.5 L490.8,160.8 L489.2,161.2 L487.6,161.5 L485.9,161.8 L484.3,162.1 L482.7,162.5 L481.1,162.8 L479.4,163.1 L477.8,163.5 L476.2,163.9 L474.6,164.2 L472.9,164.6 L471.3,165.0 L469.7,165.3 L468.1,165.7 L466.4,166.1 L464.8,166.4 L463.2,166.8 L461.6,167.2 L459.9,167.5 L458.3,167.9 L456.7,168.2 L455.1,168.6 L453.4,169.0 L451.8,169.3 L450.2,169.7 L448.6,170.1 L446.9,170.4 L445.3,170.8 L443.7,171.2 L442.1,171.5 L440.4,171.9 L438.8,172.0 L437.2,172.0 L435.6,172.0 L433.9,172.0 L432.3,172.0 L430.7,172.0 L429.1,172.0 L427.4,172.0 L425.8,172.0 L424.2,172.0 L422.6,172.0 L420.9,172.0 L419.3,172.0 L417.7,172.0 L416.1,172.0 L414.4,172.0 L412.8,172.0 L411.2,172.0 L409.6,172.0 L407.9,172.0 L406.3,172.0 Z" fill="#8fd0b0" fill-opacity="0.16"/>
<path d="M406.3,139.6 L407.9,139.9 L409.6,140.5 L411.2,141.1 L412.8,141.8 L414.4,142.5 L416.1,143.2 L417.7,144.0 L419.3,143.8 L420.9,143.8 L422.6,144.5 L424.2,145.1 L425.8,145.8 L427.4,146.6 L429.1,147.3 L430.7,148.1 L432.3,148.9 L433.9,149.7 L435.6,150.3 L437.2,150.8 L438.8,151.4 L440.4,150.8 L442.1,150.1 L443.7,149.5 L445.3,149.1 L446.9,148.7 L448.6,148.4 L450.2,148.0 L451.8,147.6 L453.4,147.3 L455.1,147.0 L456.7,146.7 L458.3,146.3 L459.9,144.8 L461.6,143.7 L463.2,144.2 L464.8,143.5 L466.4,140.2 L468.1,137.7 L469.7,136.4 L471.3,135.0 L472.9,133.2 L474.6,131.0 L476.2,128.7 L477.8,126.4 L479.4,123.0 L481.1,119.2 L482.7,115.4 L484.3,109.8 L485.9,103.1 L487.6,100.6 L489.2,98.2 L490.8,95.7 L492.4,96.4 L494.1,99.4 L495.7,103.4 L497.3,108.0 L498.9,114.5 L500.6,121.6 L502.2,126.2 L503.8,130.6 L505.4,135.0 L507.1,137.6 L508.7,139.6 L510.3,141.7 L511.9,144.1 L513.5,146.6 L515.2,147.7 L516.8,148.3 L518.4,148.9 L520.0,149.4 L521.7,150.0 L523.3,150.5 L524.9,149.3 L526.5,145.9 L528.2,142.5 L529.8,135.3 L531.4,127.9 L533.0,119.2 L534.7,110.6 L536.3,102.4 L537.9,97.7 L539.5,93.0 L541.2,90.1 L542.8,88.4 L544.4,89.6 L546.0,91.7 L547.7,93.8 L549.3,96.1 L550.9,98.6 L552.5,101.4 L554.2,104.4 L555.8,107.4 L557.4,109.8 L559.0,111.7 L560.7,113.6 L562.3,115.6 L563.9,117.7 L565.5,119.8 L567.2,121.9 L568.8,123.8 L570.4,125.7 L572.0,127.6 L573.7,129.4 L575.3,131.1 L576.9,132.8 L578.5,134.2 L580.2,135.7 L581.8,137.1 L583.4,137.8 L585.0,138.2 L586.7,137.0 L588.3,135.8 L589.9,134.5 L591.5,132.0 L593.2,129.2 L594.8,126.6 L596.4,124.6 L598.0,122.5 L599.7,120.5 L601.3,120.3 L602.9,122.6 L604.5,124.8 L606.2,126.3 L607.8,127.9 L609.4,127.6 L611.0,126.7 L612.7,124.1 L614.3,121.3 L615.9,121.3 L617.5,121.3 L619.2,119.7 L620.8,118.2 L622.4,116.7 L624.0,114.6 L625.7,112.4 L627.3,107.8 L628.9,103.9 L630.5,103.7 L632.2,104.0 L633.8,105.1 L635.4,105.6 L637.0,106.1 L638.7,107.4 L640.3,109.5 L641.9,111.7 L643.5,113.7 L645.2,115.7 L646.8,117.6 L648.4,119.3 L650.0,120.9 L651.7,122.5 L653.3,124.1 L654.9,125.8 L656.5,127.5 L658.2,129.2 L659.8,130.7 L661.4,131.9 L663.0,133.0 L664.7,134.2 L666.3,135.3 L666.3,152.6 L664.7,152.3 L663.0,152.0 L661.4,151.7 L659.8,151.4 L658.2,151.0 L656.5,150.5 L654.9,150.0 L653.3,149.5 L651.7,149.6 L650.0,149.7 L648.4,149.8 L646.8,149.8 L645.2,149.3 L643.5,148.8 L641.9,148.3 L640.3,147.6 L638.7,146.8 L637.0,146.6 L635.4,147.0 L633.8,147.4 L632.2,145.5 L630.5,144.5 L628.9,144.0 L627.3,145.9 L625.7,148.1 L624.0,148.0 L622.4,147.8 L620.8,148.1 L619.2,148.3 L617.5,148.6 L615.9,148.2 L614.3,147.9 L612.7,149.6 L611.0,151.2 L609.4,152.2 L607.8,152.7 L606.2,152.2 L604.5,151.8 L602.9,150.9 L601.3,149.8 L599.7,149.9 L598.0,150.8 L596.4,151.8 L594.8,152.7 L593.2,154.0 L591.5,155.3 L589.9,156.7 L588.3,158.1 L586.7,159.5 L585.0,160.8 L583.4,161.0 L581.8,161.0 L580.2,160.5 L578.5,160.0 L576.9,159.5 L575.3,158.9 L573.7,158.3 L572.0,157.7 L570.4,156.9 L568.8,156.1 L567.2,155.3 L565.5,154.2 L563.9,153.2 L562.3,152.2 L560.7,151.0 L559.0,149.7 L557.4,148.3 L555.8,146.6 L554.2,144.2 L552.5,141.9 L550.9,140.3 L549.3,140.5 L547.7,139.9 L546.0,138.0 L544.4,136.1 L542.8,134.8 L541.2,135.3 L539.5,136.2 L537.9,138.1 L536.3,140.0 L534.7,144.4 L533.0,149.2 L531.4,154.0 L529.8,157.2 L528.2,160.2 L526.5,161.1 L524.9,162.1 L523.3,162.5 L521.7,162.5 L520.0,162.5 L518.4,162.4 L516.8,161.9 L515.2,161.3 L513.5,160.4 L511.9,158.8 L510.3,157.2 L508.7,155.9 L507.1,154.8 L505.4,153.4 L503.8,151.2 L502.2,149.1 L500.6,147.1 L498.9,146.6 L497.3,146.0 L495.7,144.9 L494.1,143.9 L492.4,143.1 L490.8,143.1 L489.2,144.2 L487.6,145.2 L485.9,146.3 L484.3,150.2 L482.7,152.9 L481.1,153.8 L479.4,154.6 L477.8,155.2 L476.2,155.2 L474.6,155.2 L472.9,155.2 L471.3,155.5 L469.7,155.9 L468.1,156.3 L466.4,157.6 L464.8,159.5 L463.2,159.7 L461.6,159.1 L459.9,159.7 L458.3,160.6 L456.7,160.7 L455.1,160.9 L453.4,161.1 L451.8,161.3 L450.2,161.5 L448.6,161.7 L446.9,161.9 L445.3,162.1 L443.7,162.4 L442.1,162.7 L440.4,163.1 L438.8,163.5 L437.2,163.5 L435.6,163.4 L433.9,163.3 L432.3,163.1 L430.7,162.9 L429.1,162.6 L427.4,162.3 L425.8,162.0 L424.2,161.6 L422.6,161.3 L420.9,160.9 L419.3,161.0 L417.7,161.3 L416.1,160.7 L414.4,160.1 L412.8,159.5 L411.2,158.9 L409.6,158.3 L407.9,157.8 L406.3,157.5 Z" fill="#8070b0" fill-opacity="0.22"/>
<path d="M406.3,148.3 L407.9,148.4 L409.6,148.6 L411.2,148.7 L412.8,149.0 L414.4,149.4 L416.1,149.8 L417.7,150.3 L419.3,151.0 L420.9,151.8 L422.6,152.1 L424.2,152.3 L425.8,152.5 L427.4,152.8 L429.1,153.3 L430.7,153.8 L432.3,154.1 L433.9,154.3 L435.6,154.4 L437.2,154.7 L438.8,154.9 L440.4,155.1 L442.1,155.3 L443.7,155.4 L445.3,155.5 L446.9,155.7 L448.6,155.7 L450.2,155.5 L451.8,155.4 L453.4,155.2 L455.1,155.1 L456.7,155.0 L458.3,154.9 L459.9,154.8 L461.6,153.9 L463.2,152.7 L464.8,151.5 L466.4,150.3 L468.1,149.0 L469.7,147.5 L471.3,146.0 L472.9,144.5 L474.6,143.0 L476.2,142.2 L477.8,141.9 L479.4,139.6 L481.1,137.0 L482.7,136.2 L484.3,134.7 L485.9,132.7 L487.6,130.7 L489.2,128.7 L490.8,127.0 L492.4,125.3 L494.1,123.6 L495.7,125.8 L497.3,128.1 L498.9,131.2 L500.6,134.4 L502.2,137.2 L503.8,139.3 L505.4,141.3 L507.1,143.2 L508.7,144.4 L510.3,145.6 L511.9,146.8 L513.5,148.1 L515.2,149.4 L516.8,150.7 L518.4,152.1 L520.0,151.1 L521.7,148.4 L523.3,145.8 L524.9,143.2 L526.5,140.7 L528.2,135.8 L529.8,128.7 L531.4,121.6 L533.0,116.4 L534.7,114.0 L536.3,111.6 L537.9,109.2 L539.5,110.4 L541.2,112.0 L542.8,113.7 L544.4,115.4 L546.0,117.1 L547.7,118.9 L549.3,120.6 L550.9,122.5 L552.5,124.4 L554.2,126.3 L555.8,128.6 L557.4,131.1 L559.0,133.6 L560.7,134.9 L562.3,135.6 L563.9,136.7 L565.5,139.5 L567.2,142.4 L568.8,143.9 L570.4,144.9 L572.0,145.9 L573.7,146.8 L575.3,146.7 L576.9,146.5 L578.5,146.3 L580.2,147.0 L581.8,148.0 L583.4,147.6 L585.0,146.8 L586.7,146.1 L588.3,142.5 L589.9,137.7 L591.5,132.8 L593.2,130.2 L594.8,130.1 L596.4,131.3 L598.0,132.5 L599.7,132.4 L601.3,131.9 L602.9,131.4 L604.5,131.7 L606.2,132.1 L607.8,132.5 L609.4,133.2 L611.0,134.0 L612.7,134.8 L614.3,135.6 L615.9,135.3 L617.5,135.0 L619.2,134.7 L620.8,134.0 L622.4,133.2 L624.0,132.8 L625.7,133.4 L627.3,134.0 L628.9,134.5 L630.5,135.5 L632.2,136.8 L633.8,138.2 L635.4,139.5 L637.0,139.6 L638.7,139.3 L640.3,139.0 L641.9,138.7 L643.5,138.4 L645.2,138.8 L646.8,139.6 L648.4,140.3 L650.0,140.8 L651.7,141.2 L653.3,141.7 L654.9,142.2 L656.5,142.7 L658.2,143.2 L659.8,143.6 L661.4,144.0 L663.0,144.4 L664.7,144.8 L666.3,145.2 L666.3,162.4 L664.7,162.1 L663.0,161.8 L661.4,161.5 L659.8,161.2 L658.2,160.8 L656.5,160.4 L654.9,160.0 L653.3,159.6 L651.7,159.2 L650.0,158.9 L648.4,158.5 L646.8,157.9 L645.2,157.3 L643.5,156.9 L641.9,157.3 L640.3,157.6 L638.7,157.9 L637.0,158.2 L635.4,158.3 L633.8,157.5 L632.2,156.7 L630.5,155.9 L628.9,155.4 L627.3,155.3 L625.7,155.1 L624.0,154.9 L622.4,155.4 L620.8,156.3 L619.2,157.0 L617.5,157.3 L615.9,157.5 L614.3,157.7 L612.7,157.1 L611.0,156.4 L609.4,155.8 L607.8,155.2 L606.2,154.7 L604.5,154.2 L602.9,153.8 L601.3,153.7 L599.7,153.7 L598.0,153.4 L596.4,152.5 L594.8,151.5 L593.2,151.5 L591.5,153.2 L589.9,156.6 L588.3,159.9 L586.7,162.3 L585.0,162.7 L583.4,163.1 L581.8,163.3 L580.2,162.2 L578.5,161.5 L576.9,161.4 L575.3,161.3 L573.7,161.2 L572.0,161.0 L570.4,160.8 L568.8,160.5 L567.2,159.8 L565.5,158.2 L563.9,156.6 L562.3,156.4 L560.7,156.4 L559.0,156.0 L557.4,154.5 L555.8,153.0 L554.2,151.7 L552.5,150.7 L550.9,149.7 L549.3,148.8 L547.7,147.8 L546.0,146.8 L544.4,145.7 L542.8,144.6 L541.2,143.1 L539.5,141.6 L537.9,140.4 L536.3,141.7 L534.7,142.9 L533.0,144.2 L531.4,147.3 L529.8,151.6 L528.2,156.0 L526.5,158.6 L524.9,159.3 L523.3,160.1 L521.7,161.0 L520.0,162.4 L518.4,162.7 L516.8,161.8 L515.2,160.9 L513.5,160.0 L511.9,159.1 L510.3,158.3 L508.7,157.6 L507.1,156.8 L505.4,155.6 L503.8,154.2 L502.2,152.9 L500.6,151.6 L498.9,150.3 L497.3,149.0 L495.7,148.1 L494.1,147.3 L492.4,148.1 L490.8,148.9 L489.2,149.7 L487.6,150.7 L485.9,151.8 L484.3,152.8 L482.7,153.5 L481.1,153.7 L479.4,155.4 L477.8,156.8 L476.2,156.7 L474.6,157.0 L472.9,157.8 L471.3,158.7 L469.7,159.5 L468.1,160.3 L466.4,161.0 L464.8,161.7 L463.2,162.3 L461.6,162.9 L459.9,163.4 L458.3,163.7 L456.7,163.9 L455.1,164.2 L453.4,164.4 L451.8,164.8 L450.2,165.1 L448.6,165.4 L446.9,165.6 L445.3,165.7 L443.7,165.8 L442.1,165.9 L440.4,165.9 L438.8,165.8 L437.2,165.7 L435.6,165.6 L433.9,165.5 L432.3,165.4 L430.7,165.3 L429.1,165.0 L427.4,164.7 L425.8,164.6 L424.2,164.7 L422.6,164.8 L420.9,164.8 L419.3,164.5 L417.7,164.2 L416.1,164.0 L414.4,164.0 L412.8,163.9 L411.2,164.0 L409.6,164.1 L407.9,164.3 L406.3,164.3 Z" fill="#5fbf95" fill-opacity="0.2"/>
<path d="M406.3,147.0 L406.9,147.0 L407.6,147.2 L408.2,147.6 L408.9,147.9 L409.6,148.2 L410.2,148.5 L410.9,148.8 L411.5,149.2 L412.2,149.5 L412.8,149.9 L413.4,150.2 L414.1,150.5 L414.8,150.9 L415.4,151.3 L416.1,151.6 L416.7,152.0 L417.4,152.3 L418.0,152.5 L418.7,152.1 L419.3,151.7 L419.9,151.4 L420.6,151.1 L421.2,151.3 L421.9,151.5 L422.6,151.6 L423.2,151.8 L423.9,151.9 L424.5,152.1 L425.2,152.3 L425.8,152.5 L426.4,152.7 L427.1,152.9 L427.8,153.1 L428.4,153.2 L429.1,153.4 L429.7,153.6 L430.4,153.8 L431.0,154.0 L431.7,154.2 L432.3,154.4 L432.9,154.7 L433.6,154.9 L434.2,155.1 L434.9,155.2 L435.6,155.3 L436.2,155.4 L436.9,155.5 L437.5,155.5 L438.2,155.6 L438.8,155.7 L439.4,155.4 L440.1,155.2 L440.8,154.9 L441.4,154.6 L442.1,154.4 L442.7,154.1 L443.4,153.8 L444.0,153.6 L444.7,153.5 L445.3,153.3 L445.9,153.2 L446.6,153.1 L447.2,152.9 L447.9,152.8 L448.6,152.7 L449.2,152.6 L449.9,152.4 L450.5,152.3 L451.2,152.2 L451.8,152.1 L452.4,151.9 L453.1,151.8 L453.8,151.7 L454.4,151.6 L455.1,151.5 L455.7,151.4 L456.4,151.3 L457.0,151.2 L457.7,151.2 L458.3,151.0 L458.9,150.3 L459.6,149.7 L460.2,149.0 L460.9,148.3 L461.6,148.2 L462.2,148.7 L462.9,149.1 L463.5,149.6 L464.2,150.0 L464.8,148.9 L465.4,147.4 L466.1,145.9 L466.8,144.4 L467.4,142.9 L468.1,142.6 L468.7,142.2 L469.4,141.9 L470.0,141.6 L470.6,141.2 L471.3,140.9 L472.0,140.6 L472.6,140.5 L473.2,140.5 L473.9,140.5 L474.6,140.5 L475.2,140.5 L475.9,140.5 L476.5,140.5 L477.1,140.5 L477.8,140.5 L478.5,140.3 L479.1,139.7 L479.8,139.1 L480.4,138.5 L481.1,137.9 L481.7,137.3 L482.4,136.8 L483.0,136.2 L483.6,134.4 L484.3,131.6 L485.0,128.7 L485.6,125.9 L486.2,124.3 L486.9,123.8 L487.6,123.2 L488.2,122.7 L488.9,122.2 L489.5,121.6 L490.1,121.1 L490.8,120.6 L491.5,120.0 L492.1,120.9 L492.8,121.9 L493.4,122.8 L494.1,123.8 L494.7,124.8 L495.4,126.0 L496.0,127.3 L496.6,128.5 L497.3,129.7 L498.0,130.6 L498.6,131.1 L499.2,131.6 L499.9,132.2 L500.6,132.7 L501.2,133.8 L501.9,135.1 L502.5,136.4 L503.1,137.7 L503.8,139.0 L504.5,140.3 L505.1,141.6 L505.8,142.9 L506.4,143.5 L507.1,143.9 L507.7,144.4 L508.4,144.9 L509.0,145.4 L509.6,145.9 L510.3,146.6 L511.0,147.5 L511.6,148.4 L512.2,149.3 L512.9,150.2 L513.5,151.1 L514.2,151.8 L514.9,152.0 L515.5,152.2 L516.1,152.5 L516.8,152.7 L517.5,153.0 L518.1,153.2 L518.8,153.4 L519.4,153.6 L520.0,153.9 L520.7,154.1 L521.4,154.3 L522.0,154.5 L522.6,154.8 L523.3,155.0 L524.0,155.2 L524.6,154.9 L525.2,154.4 L525.9,153.8 L526.5,153.2 L527.2,152.7 L527.9,152.1 L528.5,151.0 L529.1,148.8 L529.8,146.5 L530.5,144.3 L531.1,142.0 L531.8,139.2 L532.4,135.8 L533.0,132.4 L533.7,129.0 L534.4,125.6 L535.0,122.2 L535.6,118.8 L536.3,116.2 L537.0,115.1 L537.6,114.0 L538.2,113.0 L538.9,111.9 L539.5,110.9 L540.2,109.8 L540.9,109.9 L541.5,110.0 L542.1,110.1 L542.8,110.2 L543.5,110.9 L544.1,112.3 L544.8,113.7 L545.4,115.2 L546.0,116.6 L546.7,118.1 L547.4,119.5 L548.0,120.9 L548.6,121.4 L549.3,120.9 L550.0,120.5 L550.6,120.0 L551.2,119.6 L551.9,120.7 L552.5,122.3 L553.2,123.8 L553.9,125.4 L554.5,127.0 L555.1,128.5 L555.8,130.1 L556.5,131.7 L557.1,132.5 L557.8,133.3 L558.4,134.1 L559.0,134.8 L559.7,135.6 L560.4,136.4 L561.0,137.2 L561.6,137.9 L562.3,138.5 L563.0,139.1 L563.6,139.7 L564.2,140.3 L564.9,140.9 L565.5,141.5 L566.2,142.1 L566.9,142.7 L567.5,143.3 L568.1,143.8 L568.8,144.2 L569.5,144.5 L570.1,144.9 L570.8,145.3 L571.4,145.7 L572.0,146.1 L572.7,146.5 L573.4,146.8 L574.0,147.0 L574.6,147.3 L575.3,147.5 L576.0,147.7 L576.6,148.0 L577.2,148.3 L577.9,148.6 L578.5,148.9 L579.2,149.2 L579.9,149.6 L580.5,149.9 L581.1,150.2 L581.8,150.5 L582.5,150.7 L583.1,150.7 L583.8,150.7 L584.4,150.7 L585.0,150.7 L585.7,149.8 L586.4,148.8 L587.0,147.8 L587.6,146.9 L588.3,145.9 L589.0,144.9 L589.6,143.9 L590.2,142.9 L590.9,142.0 L591.5,141.0 L592.2,140.0 L592.9,139.1 L593.5,138.1 L594.1,137.1 L594.8,136.4 L595.5,135.8 L596.1,135.2 L596.8,134.5 L597.4,133.9 L598.0,133.3 L598.7,132.6 L599.4,132.0 L600.0,131.4 L600.6,130.9 L601.3,131.8 L602.0,132.8 L602.6,133.7 L603.2,134.7 L603.9,135.6 L604.5,136.2 L605.2,136.7 L605.9,137.2 L606.5,137.7 L607.1,138.1 L607.8,138.6 L608.5,138.7 L609.1,138.0 L609.8,137.4 L610.4,136.8 L611.0,136.1 L611.7,135.1 L612.4,133.8 L613.0,132.5 L613.6,131.2 L614.3,129.9 L615.0,130.1 L615.6,130.5 L616.2,131.0 L616.9,131.4 L617.5,131.8 L618.2,131.7 L618.9,131.7 L619.5,131.6 L620.1,131.5 L620.8,131.5 L621.5,131.4 L622.1,131.3 L622.8,131.4 L623.4,131.7 L624.0,132.0 L624.7,132.4 L625.4,132.7 L626.0,131.8 L626.6,130.2 L627.3,128.6 L628.0,127.0 L628.6,125.3 L629.2,125.6 L629.9,126.1 L630.5,126.7 L631.2,127.3 L631.9,128.1 L632.5,129.8 L633.1,131.6 L633.8,133.3 L634.5,133.1 L635.1,133.0 L635.8,132.8 L636.4,132.7 L637.0,132.5 L637.7,132.3 L638.4,132.8 L639.0,133.4 L639.6,134.1 L640.3,134.8 L641.0,135.4 L641.6,136.1 L642.2,136.6 L642.9,136.9 L643.5,137.2 L644.2,137.5 L644.9,137.8 L645.5,138.2 L646.1,138.5 L646.8,138.8 L647.5,138.8 L648.1,138.6 L648.8,138.5 L649.4,138.3 L650.0,138.2 L650.7,138.0 L651.4,137.8 L652.0,137.7 L652.6,137.5 L653.3,137.5 L654.0,137.8 L654.6,138.1 L655.2,138.4 L655.9,138.8 L656.5,139.1 L657.2,139.4 L657.9,139.8 L658.5,140.1 L659.1,140.4 L659.8,140.6 L660.5,140.8 L661.1,140.9 L661.8,141.1 L662.4,141.3 L663.0,141.4 L663.7,141.6 L664.4,141.7 L665.0,141.9 L665.7,142.1 L666.3,142.2" fill="none" stroke="#6f62a8" stroke-width="2.6" stroke-linejoin="round"/>
<path d="M406.3,156.7 L406.9,156.7 L407.6,156.6 L408.2,156.5 L408.9,156.3 L409.6,156.2 L410.2,156.1 L410.9,156.0 L411.5,155.8 L412.2,155.7 L412.8,155.8 L413.4,155.8 L414.1,155.9 L414.8,155.9 L415.4,156.0 L416.1,156.1 L416.7,156.1 L417.4,156.2 L418.0,156.5 L418.7,156.7 L419.3,156.9 L419.9,157.2 L420.6,157.4 L421.2,157.6 L421.9,157.7 L422.6,157.6 L423.2,157.5 L423.9,157.5 L424.5,157.4 L425.2,157.3 L425.8,157.3 L426.4,157.2 L427.1,157.4 L427.8,157.6 L428.4,157.8 L429.1,158.0 L429.7,158.2 L430.4,158.4 L431.0,158.6 L431.7,158.8 L432.3,158.9 L432.9,159.0 L433.6,159.0 L434.2,159.1 L434.9,159.2 L435.6,159.3 L436.2,159.4 L436.9,159.5 L437.5,159.6 L438.2,159.7 L438.8,159.8 L439.4,159.9 L440.1,160.0 L440.8,160.1 L441.4,160.2 L442.1,160.3 L442.7,160.4 L443.4,160.4 L444.0,160.5 L444.7,160.5 L445.3,160.6 L445.9,160.6 L446.6,160.7 L447.2,160.7 L447.9,160.8 L448.6,160.7 L449.2,160.6 L449.9,160.5 L450.5,160.4 L451.2,160.3 L451.8,160.2 L452.4,160.1 L453.1,160.0 L453.8,159.9 L454.4,159.8 L455.1,159.7 L455.7,159.7 L456.4,159.6 L457.0,159.6 L457.7,159.5 L458.3,159.5 L458.9,159.4 L459.6,159.3 L460.2,159.3 L460.9,158.9 L461.6,158.6 L462.2,158.3 L462.9,157.9 L463.5,157.6 L464.2,157.3 L464.8,156.9 L465.4,156.5 L466.1,156.1 L466.8,155.7 L467.4,155.3 L468.1,154.9 L468.7,154.5 L469.4,153.9 L470.0,153.4 L470.6,152.9 L471.3,152.4 L472.0,151.8 L472.6,151.3 L473.2,150.8 L473.9,150.3 L474.6,149.7 L475.2,149.2 L475.9,149.4 L476.5,149.6 L477.1,149.8 L477.8,150.1 L478.5,149.7 L479.1,148.3 L479.8,146.9 L480.4,145.5 L481.1,144.6 L481.7,144.6 L482.4,144.6 L483.0,144.6 L483.6,144.2 L484.3,143.5 L485.0,142.8 L485.6,142.1 L486.2,141.4 L486.9,140.7 L487.6,140.0 L488.2,139.3 L488.9,138.6 L489.5,137.9 L490.1,137.4 L490.8,136.9 L491.5,136.4 L492.1,135.9 L492.8,135.4 L493.4,134.8 L494.1,134.3 L494.7,135.1 L495.4,135.9 L496.0,136.8 L496.6,137.7 L497.3,138.5 L498.0,139.4 L498.6,140.4 L499.2,141.4 L499.9,142.4 L500.6,143.4 L501.2,144.3 L501.9,145.3 L502.5,146.0 L503.1,146.7 L503.8,147.4 L504.5,148.1 L505.1,148.8 L505.8,149.5 L506.4,150.3 L507.1,150.8 L507.7,151.0 L508.4,151.3 L509.0,151.5 L509.6,151.7 L510.3,152.0 L511.0,152.2 L511.6,152.6 L512.2,152.9 L512.9,153.2 L513.5,153.6 L514.2,153.9 L514.9,154.2 L515.5,154.5 L516.1,154.9 L516.8,155.3 L517.5,155.7 L518.1,156.2 L518.8,156.6 L519.4,156.4 L520.0,155.4 L520.7,154.4 L521.4,153.5 L522.0,152.5 L522.6,152.0 L523.3,151.8 L524.0,151.5 L524.6,151.3 L525.2,151.0 L525.9,150.7 L526.5,150.5 L527.2,150.2 L527.9,147.6 L528.5,144.4 L529.1,141.3 L529.8,138.2 L530.5,135.1 L531.1,131.9 L531.8,128.8 L532.4,125.7 L533.0,125.0 L533.7,124.3 L534.4,123.6 L535.0,122.9 L535.6,122.2 L536.3,121.5 L537.0,120.8 L537.6,120.0 L538.2,119.8 L538.9,120.9 L539.5,122.1 L540.2,123.3 L540.9,124.5 L541.5,125.6 L542.1,126.8 L542.8,128.0 L543.5,128.9 L544.1,129.5 L544.8,130.0 L545.4,130.5 L546.0,131.1 L546.7,131.6 L547.4,132.2 L548.0,132.7 L548.6,133.3 L549.3,133.8 L550.0,134.3 L550.6,134.8 L551.2,135.3 L551.9,135.9 L552.5,136.4 L553.2,136.9 L553.9,137.4 L554.5,137.9 L555.1,138.8 L555.8,139.7 L556.5,140.7 L557.1,141.6 L557.8,142.5 L558.4,143.4 L559.0,144.3 L559.7,145.1 L560.4,144.9 L561.0,144.7 L561.6,144.6 L562.3,144.4 L563.0,144.2 L563.6,144.0 L564.2,145.0 L564.9,146.2 L565.5,147.3 L566.2,148.5 L566.9,149.7 L567.5,150.8 L568.1,151.2 L568.8,151.3 L569.5,151.3 L570.1,151.4 L570.8,151.4 L571.4,151.5 L572.0,151.6 L572.7,151.6 L573.4,151.7 L574.0,151.7 L574.6,151.6 L575.3,151.6 L576.0,151.5 L576.6,151.4 L577.2,151.4 L577.9,151.3 L578.5,151.2 L579.2,151.5 L579.9,152.3 L580.5,153.2 L581.1,154.0 L581.8,154.9 L582.5,155.2 L583.1,155.0 L583.8,154.8 L584.4,154.6 L585.0,154.4 L585.7,154.2 L586.4,154.1 L587.0,153.9 L587.6,152.0 L588.3,149.5 L589.0,146.9 L589.6,144.4 L590.2,141.8 L590.9,139.3 L591.5,136.7 L592.2,134.2 L592.9,133.7 L593.5,133.5 L594.1,133.3 L594.8,134.0 L595.5,134.9 L596.1,135.8 L596.8,136.6 L597.4,137.5 L598.0,138.4 L598.7,138.9 L599.4,138.9 L600.0,138.9 L600.6,138.9 L601.3,138.9 L602.0,138.9 L602.6,138.9 L603.2,139.0 L603.9,139.2 L604.5,139.5 L605.2,139.8 L605.9,140.0 L606.5,140.3 L607.1,140.6 L607.8,140.8 L608.5,141.1 L609.1,141.5 L609.8,141.9 L610.4,142.3 L611.0,142.7 L611.7,143.0 L612.4,143.4 L613.0,143.8 L613.6,144.2 L614.3,144.5 L615.0,144.3 L615.6,144.0 L616.2,143.7 L616.9,143.3 L617.5,143.0 L618.2,142.7 L618.9,142.3 L619.5,142.0 L620.1,141.4 L620.8,140.8 L621.5,140.2 L622.1,139.7 L622.8,139.1 L623.4,138.5 L624.0,138.6 L624.7,138.9 L625.4,139.2 L626.0,139.4 L626.6,139.7 L627.3,140.0 L628.0,140.3 L628.6,140.5 L629.2,140.8 L629.9,141.2 L630.5,142.0 L631.2,142.7 L631.9,143.5 L632.5,144.3 L633.1,145.0 L633.8,145.8 L634.5,146.5 L635.1,147.3 L635.8,148.0 L636.4,147.9 L637.0,147.6 L637.7,147.4 L638.4,147.2 L639.0,146.9 L639.6,146.7 L640.3,146.5 L641.0,146.2 L641.6,146.0 L642.2,145.7 L642.9,145.5 L643.5,145.3 L644.2,145.2 L644.9,145.6 L645.5,146.0 L646.1,146.4 L646.8,146.8 L647.5,147.2 L648.1,147.6 L648.8,147.8 L649.4,148.0 L650.0,148.2 L650.7,148.4 L651.4,148.6 L652.0,148.8 L652.6,149.0 L653.3,149.2 L654.0,149.4 L654.6,149.7 L655.2,149.9 L655.9,150.1 L656.5,150.3 L657.2,150.5 L657.9,150.7 L658.5,150.9 L659.1,151.2 L659.8,151.3 L660.5,151.5 L661.1,151.6 L661.8,151.8 L662.4,152.0 L663.0,152.1 L663.7,152.3 L664.4,152.4 L665.0,152.6 L665.7,152.8 L666.3,152.9" fill="none" stroke="#45b888" stroke-width="2.6" stroke-linejoin="round"/>
<line x1="394.10" y1="64.00" x2="679.20" y2="64.00" stroke="#52b152" stroke-width="1.3" />
<line x1="394.10" y1="174.82" x2="679.20" y2="174.82" stroke="#52b152" stroke-width="1.3" />
<line x1="394.10" y1="5.08" x2="394.10" y2="193.20" stroke="#6e6e6e" stroke-width="1.6" />
<line x1="393.40" y1="192.50" x2="679.20" y2="192.50" stroke="#6e6e6e" stroke-width="1.6" />
<text x="389.60" y="187.50" font-size="8.3" text-anchor="end" fill="#222" >60</text>
<text x="389.60" y="147.20" font-size="8.3" text-anchor="end" fill="#222" >100</text>
<text x="389.60" y="106.90" font-size="8.3" text-anchor="end" fill="#222" >140</text>
<text x="389.60" y="66.60" font-size="8.3" text-anchor="end" fill="#222" >180</text>
<text x="389.60" y="26.30" font-size="8.3" text-anchor="end" fill="#222" >220</text>
<text x="406.30" y="202.90" font-size="8.3" text-anchor="middle" fill="#222" >00:00</text>
<text x="439.07" y="202.90" font-size="8.3" text-anchor="middle" fill="#222" >03:00</text>
<text x="471.85" y="202.90" font-size="8.3" text-anchor="middle" fill="#222" >06:00</text>
<text x="504.62" y="202.90" font-size="8.3" text-anchor="middle" fill="#222" >09:00</text>
<text x="537.40" y="202.90" font-size="8.3" text-anchor="middle" fill="#222" >12:00</text>
<text x="570.18" y="202.90" font-size="8.3" text-anchor="middle" fill="#222" >15:00</text>
<text x="602.95" y="202.90" font-size="8.3" text-anchor="middle" fill="#222" >18:00</text>
<text x="635.73" y="202.90" font-size="8.3" text-anchor="middle" fill="#222" >21:00</text>
<text x="668.50" y="202.90" font-size="8.3" text-anchor="middle" fill="#222" >00:00</text>
<text x="534.15" y="219.30" font-size="8.3" text-anchor="middle" fill="#222" >Time of day</text>
<text x="372.10" y="108.10" font-size="8.6" text-anchor="middle" fill="#222" transform="rotate(-90 372.10 108.10)">Blood glucose(mg/dL)</text>
<ellipse cx="408.60" cy="10.38" rx="2.4" ry="3.1" fill="#3fb882"/>
<text x="414.90" y="13.38" font-size="8.5" text-anchor="start" fill="#222" >HM-L</text>
<ellipse cx="408.60" cy="23.88" rx="2.4" ry="3.1" fill="#6f5aa6"/>
<text x="414.90" y="26.88" font-size="8.5" text-anchor="start" fill="#222" >HM-D</text>
</g>
<text x="-0.30" y="5.90" font-size="9.0" text-anchor="start" fill="#222" >A</text>
<text x="0.70" y="249.90" font-size="7.9" text-anchor="start" fill="#222" textLength="4.6" lengthAdjust="spacingAndGlyphs">B</text>
<text x="-0.20" y="570.20" font-size="8.9" text-anchor="start" fill="#222" >C</text>
<line x1="70.60" y1="282.00" x2="70.60" y2="367.10" stroke="#111" stroke-width="1.5" />
<line x1="66.00" y1="366.30" x2="224.70" y2="366.30" stroke="#111" stroke-width="1.5" />
<line x1="66.00" y1="366.30" x2="70.60" y2="366.30" stroke="#111" stroke-width="1.3" />
<text x="63.00" y="370.50" font-size="8.5" text-anchor="end" fill="#111" >0</text>
<line x1="66.00" y1="345.40" x2="70.60" y2="345.40" stroke="#111" stroke-width="1.3" />
<text x="61.00" y="348.70" font-size="8.5" text-anchor="end" fill="#111" >50</text>
<line x1="66.00" y1="324.60" x2="70.60" y2="324.60" stroke="#111" stroke-width="1.3" />
<text x="60.30" y="327.90" font-size="8.5" text-anchor="end" fill="#111" >100</text>
<line x1="66.00" y1="303.70" x2="70.60" y2="303.70" stroke="#111" stroke-width="1.3" />
<text x="60.30" y="307.00" font-size="8.5" text-anchor="end" fill="#111" >150</text>
<line x1="66.00" y1="282.90" x2="70.60" y2="282.90" stroke="#111" stroke-width="1.3" />
<text x="60.30" y="286.20" font-size="8.5" text-anchor="end" fill="#111" >200</text>
<line x1="99.90" y1="366.30" x2="99.90" y2="371.90" stroke="#111" stroke-width="1.3" />
<text x="96.30" y="383.50" font-size="8.3" text-anchor="middle" fill="#111" >HP-L</text>
<line x1="131.40" y1="366.30" x2="131.40" y2="371.90" stroke="#111" stroke-width="1.3" />
<text x="127.80" y="383.50" font-size="8.3" text-anchor="middle" fill="#111" >HP-D</text>
<line x1="163.50" y1="366.30" x2="163.50" y2="371.90" stroke="#111" stroke-width="1.3" />
<text x="159.90" y="383.50" font-size="8.3" text-anchor="middle" fill="#111" >HM-L</text>
<line x1="194.50" y1="366.30" x2="194.50" y2="371.90" stroke="#111" stroke-width="1.3" />
<text x="190.90" y="383.50" font-size="8.3" text-anchor="middle" fill="#111" >HM-D</text>
<text x="27.30" y="325.00" font-size="8.6" text-anchor="middle" fill="#111" transform="rotate(-90 27.30 325.00)">Mean glucose</text>
<text x="36.60" y="325.00" font-size="8.6" text-anchor="middle" fill="#111" transform="rotate(-90 36.60 325.00)">(mg/dL)</text>
<text x="111.40" y="257.30" font-size="8.5" fill="#2a2a2a" font-style="italic">P</text>
<text x="119.70" y="257.60" font-size="6.3" fill="#2a2a2a" font-style="italic" textLength="11.4" lengthAdjust="spacingAndGlyphs">type</text>
<text x="133.10" y="257.30" font-size="8.6" fill="#2a2a2a">=</text>
<text x="140.60" y="257.30" font-size="8.7" fill="#2a2a2a">0.809</text>
<text x="111.40" y="266.90" font-size="8.5" fill="#2a2a2a" font-style="italic">P</text>
<text x="119.70" y="267.20" font-size="6.3" fill="#2a2a2a" font-style="italic" textLength="15.8" lengthAdjust="spacingAndGlyphs">timing</text>
<text x="138.20" y="266.90" font-size="8.6" fill="#2a2a2a">=</text>
<text x="145.80" y="266.90" font-size="8.7" fill="#2a2a2a">0.089</text>
<text x="111.40" y="276.50" font-size="8.5" fill="#2a2a2a" font-style="italic">P</text>
<text x="119.70" y="276.80" font-size="6.3" fill="#2a2a2a" font-style="italic" textLength="30.0" lengthAdjust="spacingAndGlyphs">type*timing</text>
<text x="151.20" y="276.50" font-size="8.6" fill="#2a2a2a">=</text>
<text x="158.00" y="276.50" font-size="8.7" fill="#2a2a2a">0.806</text>
<circle cx="97.20" cy="292.50" r="1.95" fill="#e0541f" fill-opacity="0.42" stroke="#e0541f" stroke-width="1.2"/>
<circle cx="102.50" cy="309.50" r="1.95" fill="#e0541f" fill-opacity="0.42" stroke="#e0541f" stroke-width="1.2"/>
<circle cx="97.40" cy="314.60" r="1.95" fill="#e0541f" fill-opacity="0.42" stroke="#e0541f" stroke-width="1.2"/>
<circle cx="102.50" cy="316.90" r="1.95" fill="#e0541f" fill-opacity="0.42" stroke="#e0541f" stroke-width="1.2"/>
<circle cx="107.40" cy="318.90" r="1.95" fill="#e0541f" fill-opacity="0.42" stroke="#e0541f" stroke-width="1.2"/>
<circle cx="87.40" cy="325.90" r="1.95" fill="#e0541f" fill-opacity="0.42" stroke="#e0541f" stroke-width="1.2"/>
<circle cx="92.30" cy="325.10" r="1.95" fill="#e0541f" fill-opacity="0.42" stroke="#e0541f" stroke-width="1.2"/>
<circle cx="97.40" cy="323.30" r="1.95" fill="#e0541f" fill-opacity="0.42" stroke="#e0541f" stroke-width="1.2"/>
<circle cx="102.50" cy="323.30" r="1.95" fill="#e0541f" fill-opacity="0.42" stroke="#e0541f" stroke-width="1.2"/>
<circle cx="97.40" cy="327.90" r="1.95" fill="#e0541f" fill-opacity="0.42" stroke="#e0541f" stroke-width="1.2"/>
<circle cx="102.50" cy="327.70" r="1.95" fill="#e0541f" fill-opacity="0.42" stroke="#e0541f" stroke-width="1.2"/>
<circle cx="107.40" cy="325.10" r="1.95" fill="#e0541f" fill-opacity="0.42" stroke="#e0541f" stroke-width="1.2"/>
<circle cx="112.50" cy="325.40" r="1.95" fill="#e0541f" fill-opacity="0.42" stroke="#e0541f" stroke-width="1.2"/>
<circle cx="97.20" cy="338.10" r="1.95" fill="#e0541f" fill-opacity="0.42" stroke="#e0541f" stroke-width="1.2"/>
<rect x="85.90" y="317.30" width="28.00" height="8.10" fill="none" stroke="#e0541f" stroke-width="1.5"/>
<line x1="85.90" y1="323.80" x2="113.90" y2="323.80" stroke="#e0541f" stroke-width="1.5" />
<line x1="99.90" y1="292.50" x2="99.90" y2="317.30" stroke="#e0541f" stroke-width="1.5" />
<line x1="99.90" y1="325.40" x2="99.90" y2="338.20" stroke="#e0541f" stroke-width="1.5" />
<line x1="93.10" y1="292.50" x2="106.70" y2="292.50" stroke="#e0541f" stroke-width="1.5" />
<line x1="93.10" y1="338.20" x2="106.70" y2="338.20" stroke="#e0541f" stroke-width="1.5" />
<rect x="137.35" y="306.05" width="3.9" height="3.9" fill="#f2c443" fill-opacity="0.42" stroke="#f2c443" stroke-width="1.2"/>
<rect x="137.35" y="308.05" width="3.9" height="3.9" fill="#f2c443" fill-opacity="0.42" stroke="#f2c443" stroke-width="1.2"/>
<rect x="122.85" y="311.65" width="3.9" height="3.9" fill="#f2c443" fill-opacity="0.42" stroke="#f2c443" stroke-width="1.2"/>
<rect x="127.05" y="311.65" width="3.9" height="3.9" fill="#f2c443" fill-opacity="0.42" stroke="#f2c443" stroke-width="1.2"/>
<rect x="137.35" y="311.85" width="3.9" height="3.9" fill="#f2c443" fill-opacity="0.42" stroke="#f2c443" stroke-width="1.2"/>
<rect x="117.95" y="315.25" width="3.9" height="3.9" fill="#f2c443" fill-opacity="0.42" stroke="#f2c443" stroke-width="1.2"/>
<rect x="137.35" y="315.25" width="3.9" height="3.9" fill="#f2c443" fill-opacity="0.42" stroke="#f2c443" stroke-width="1.2"/>
<rect x="141.45" y="315.75" width="3.9" height="3.9" fill="#f2c443" fill-opacity="0.42" stroke="#f2c443" stroke-width="1.2"/>
<rect x="117.95" y="320.85" width="3.9" height="3.9" fill="#f2c443" fill-opacity="0.42" stroke="#f2c443" stroke-width="1.2"/>
<rect x="123.05" y="320.85" width="3.9" height="3.9" fill="#f2c443" fill-opacity="0.42" stroke="#f2c443" stroke-width="1.2"/>
<rect x="132.25" y="320.85" width="3.9" height="3.9" fill="#f2c443" fill-opacity="0.42" stroke="#f2c443" stroke-width="1.2"/>
<rect x="137.35" y="321.85" width="3.9" height="3.9" fill="#f2c443" fill-opacity="0.42" stroke="#f2c443" stroke-width="1.2"/>
<rect x="142.45" y="320.85" width="3.9" height="3.9" fill="#f2c443" fill-opacity="0.42" stroke="#f2c443" stroke-width="1.2"/>
<rect x="137.35" y="323.45" width="3.9" height="3.9" fill="#f2c443" fill-opacity="0.42" stroke="#f2c443" stroke-width="1.2"/>
<rect x="117.40" y="314.50" width="28.00" height="9.70" fill="none" stroke="#f2c443" stroke-width="1.5"/>
<line x1="117.40" y1="318.20" x2="145.40" y2="318.20" stroke="#f2c443" stroke-width="1.5" />
<line x1="131.40" y1="308.50" x2="131.40" y2="314.50" stroke="#f2c443" stroke-width="1.5" />
<line x1="131.40" y1="324.20" x2="131.40" y2="325.00" stroke="#f2c443" stroke-width="1.5" />
<line x1="124.60" y1="308.50" x2="138.20" y2="308.50" stroke="#f2c443" stroke-width="1.5" />
<line x1="124.60" y1="325.00" x2="138.20" y2="325.00" stroke="#f2c443" stroke-width="1.5" />
<path d="M161.10,310.20 L165.90,310.20 L163.50,306.20 Z" fill="#27ad98" fill-opacity="0.42" stroke="#27ad98" stroke-width="1.2" stroke-linejoin="round"/>
<path d="M151.30,319.00 L156.10,319.00 L153.70,315.00 Z" fill="#27ad98" fill-opacity="0.42" stroke="#27ad98" stroke-width="1.2" stroke-linejoin="round"/>
<path d="M157.60,319.00 L162.40,319.00 L160.00,315.00 Z" fill="#27ad98" fill-opacity="0.42" stroke="#27ad98" stroke-width="1.2" stroke-linejoin="round"/>
<path d="M167.20,319.00 L172.00,319.00 L169.60,315.00 Z" fill="#27ad98" fill-opacity="0.42" stroke="#27ad98" stroke-width="1.2" stroke-linejoin="round"/>
<path d="M170.40,319.00 L175.20,319.00 L172.80,315.00 Z" fill="#27ad98" fill-opacity="0.42" stroke="#27ad98" stroke-width="1.2" stroke-linejoin="round"/>
<path d="M150.20,322.80 L155.00,322.80 L152.60,318.80 Z" fill="#27ad98" fill-opacity="0.42" stroke="#27ad98" stroke-width="1.2" stroke-linejoin="round"/>
<path d="M154.20,322.80 L159.00,322.80 L156.60,318.80 Z" fill="#27ad98" fill-opacity="0.42" stroke="#27ad98" stroke-width="1.2" stroke-linejoin="round"/>
<path d="M160.90,322.80 L165.70,322.80 L163.30,318.80 Z" fill="#27ad98" fill-opacity="0.42" stroke="#27ad98" stroke-width="1.2" stroke-linejoin="round"/>
<path d="M166.30,322.80 L171.10,322.80 L168.70,318.80 Z" fill="#27ad98" fill-opacity="0.42" stroke="#27ad98" stroke-width="1.2" stroke-linejoin="round"/>
<path d="M170.10,322.80 L174.90,322.80 L172.50,318.80 Z" fill="#27ad98" fill-opacity="0.42" stroke="#27ad98" stroke-width="1.2" stroke-linejoin="round"/>
<path d="M173.30,322.80 L178.10,322.80 L175.70,318.80 Z" fill="#27ad98" fill-opacity="0.42" stroke="#27ad98" stroke-width="1.2" stroke-linejoin="round"/>
<path d="M150.60,326.70 L155.40,326.70 L153.00,322.70 Z" fill="#27ad98" fill-opacity="0.42" stroke="#27ad98" stroke-width="1.2" stroke-linejoin="round"/>
<path d="M154.90,326.70 L159.70,326.70 L157.30,322.70 Z" fill="#27ad98" fill-opacity="0.42" stroke="#27ad98" stroke-width="1.2" stroke-linejoin="round"/>
<path d="M159.80,326.70 L164.60,326.70 L162.20,322.70 Z" fill="#27ad98" fill-opacity="0.42" stroke="#27ad98" stroke-width="1.2" stroke-linejoin="round"/>
<path d="M163.50,326.70 L168.30,326.70 L165.90,322.70 Z" fill="#27ad98" fill-opacity="0.42" stroke="#27ad98" stroke-width="1.2" stroke-linejoin="round"/>
<path d="M168.40,326.70 L173.20,326.70 L170.80,322.70 Z" fill="#27ad98" fill-opacity="0.42" stroke="#27ad98" stroke-width="1.2" stroke-linejoin="round"/>
<path d="M163.90,328.90 L168.70,328.90 L166.30,324.90 Z" fill="#27ad98" fill-opacity="0.42" stroke="#27ad98" stroke-width="1.2" stroke-linejoin="round"/>
<rect x="149.50" y="319.80" width="28.00" height="4.70" fill="none" stroke="#27ad98" stroke-width="1.5"/>
<line x1="149.50" y1="322.30" x2="177.50" y2="322.30" stroke="#27ad98" stroke-width="1.5" />
<line x1="163.50" y1="308.30" x2="163.50" y2="319.80" stroke="#27ad98" stroke-width="1.5" />
<line x1="163.50" y1="324.50" x2="163.50" y2="326.80" stroke="#27ad98" stroke-width="1.5" />
<line x1="156.70" y1="308.30" x2="170.30" y2="308.30" stroke="#27ad98" stroke-width="1.5" />
<line x1="156.70" y1="326.80" x2="170.30" y2="326.80" stroke="#27ad98" stroke-width="1.5" />
<path d="M192.90,289.30 L197.70,289.30 L195.30,293.30 Z" fill="#8763b5" fill-opacity="0.42" stroke="#8763b5" stroke-width="1.2" stroke-linejoin="round"/>
<path d="M179.80,309.60 L184.60,309.60 L182.20,313.60 Z" fill="#8763b5" fill-opacity="0.42" stroke="#8763b5" stroke-width="1.2" stroke-linejoin="round"/>
<path d="M185.80,309.60 L190.60,309.60 L188.20,313.60 Z" fill="#8763b5" fill-opacity="0.42" stroke="#8763b5" stroke-width="1.2" stroke-linejoin="round"/>
<path d="M198.90,312.00 L203.70,312.00 L201.30,316.00 Z" fill="#8763b5" fill-opacity="0.42" stroke="#8763b5" stroke-width="1.2" stroke-linejoin="round"/>
<path d="M204.90,310.50 L209.70,310.50 L207.30,314.50 Z" fill="#8763b5" fill-opacity="0.42" stroke="#8763b5" stroke-width="1.2" stroke-linejoin="round"/>
<path d="M185.80,314.50 L190.60,314.50 L188.20,318.50 Z" fill="#8763b5" fill-opacity="0.42" stroke="#8763b5" stroke-width="1.2" stroke-linejoin="round"/>
<path d="M179.80,316.70 L184.60,316.70 L182.20,320.70 Z" fill="#8763b5" fill-opacity="0.42" stroke="#8763b5" stroke-width="1.2" stroke-linejoin="round"/>
<path d="M192.30,315.10 L197.10,315.10 L194.70,319.10 Z" fill="#8763b5" fill-opacity="0.42" stroke="#8763b5" stroke-width="1.2" stroke-linejoin="round"/>
<path d="M204.90,317.20 L209.70,317.20 L207.30,321.20 Z" fill="#8763b5" fill-opacity="0.42" stroke="#8763b5" stroke-width="1.2" stroke-linejoin="round"/>
<path d="M179.80,322.20 L184.60,322.20 L182.20,326.20 Z" fill="#8763b5" fill-opacity="0.42" stroke="#8763b5" stroke-width="1.2" stroke-linejoin="round"/>
<path d="M186.30,322.20 L191.10,322.20 L188.70,326.20 Z" fill="#8763b5" fill-opacity="0.42" stroke="#8763b5" stroke-width="1.2" stroke-linejoin="round"/>
<path d="M192.30,321.10 L197.10,321.10 L194.70,325.10 Z" fill="#8763b5" fill-opacity="0.42" stroke="#8763b5" stroke-width="1.2" stroke-linejoin="round"/>
<path d="M204.90,324.30 L209.70,324.30 L207.30,328.30 Z" fill="#8763b5" fill-opacity="0.42" stroke="#8763b5" stroke-width="1.2" stroke-linejoin="round"/>
<path d="M179.80,324.30 L184.60,324.30 L182.20,328.30 Z" fill="#8763b5" fill-opacity="0.42" stroke="#8763b5" stroke-width="1.2" stroke-linejoin="round"/>
<rect x="180.50" y="313.20" width="28.00" height="11.00" fill="none" stroke="#8763b5" stroke-width="1.5"/>
<line x1="180.50" y1="320.60" x2="208.50" y2="320.60" stroke="#8763b5" stroke-width="1.5" />
<line x1="194.50" y1="292.30" x2="194.50" y2="313.20" stroke="#8763b5" stroke-width="1.5" />
<line x1="194.50" y1="324.20" x2="194.50" y2="326.30" stroke="#8763b5" stroke-width="1.5" />
<line x1="187.70" y1="292.30" x2="201.30" y2="292.30" stroke="#8763b5" stroke-width="1.5" />
<line x1="187.70" y1="326.30" x2="201.30" y2="326.30" stroke="#8763b5" stroke-width="1.5" />
<line x1="299.20" y1="280.00" x2="299.20" y2="364.90" stroke="#111" stroke-width="1.5" />
<line x1="294.60" y1="364.10" x2="452.60" y2="364.10" stroke="#111" stroke-width="1.5" />
<line x1="294.60" y1="364.10" x2="299.20" y2="364.10" stroke="#111" stroke-width="1.3" />
<text x="291.60" y="368.30" font-size="8.5" text-anchor="end" fill="#111" >0</text>
<line x1="294.60" y1="333.70" x2="299.20" y2="333.70" stroke="#111" stroke-width="1.3" />
<text x="289.60" y="337.00" font-size="8.5" text-anchor="end" fill="#111" >20</text>
<line x1="294.60" y1="303.40" x2="299.20" y2="303.40" stroke="#111" stroke-width="1.3" />
<text x="289.60" y="306.70" font-size="8.5" text-anchor="end" fill="#111" >40</text>
<line x1="328.10" y1="364.10" x2="328.10" y2="369.70" stroke="#111" stroke-width="1.3" />
<text x="328.10" y="383.80" font-size="8.3" text-anchor="middle" fill="#111" >HP-L</text>
<line x1="359.60" y1="364.10" x2="359.60" y2="369.70" stroke="#111" stroke-width="1.3" />
<text x="359.60" y="383.80" font-size="8.3" text-anchor="middle" fill="#111" >HP-D</text>
<line x1="391.70" y1="364.10" x2="391.70" y2="369.70" stroke="#111" stroke-width="1.3" />
<text x="391.70" y="383.80" font-size="8.3" text-anchor="middle" fill="#111" >HM-L</text>
<line x1="423.20" y1="364.10" x2="423.20" y2="369.70" stroke="#111" stroke-width="1.3" />
<text x="423.20" y="383.80" font-size="8.3" text-anchor="middle" fill="#111" >HM-D</text>
<text x="263.00" y="322.40" font-size="8.6" text-anchor="middle" fill="#111" transform="rotate(-90 263.00 322.40)">SD</text>
<text x="272.30" y="320.70" font-size="8.6" text-anchor="middle" fill="#111" transform="rotate(-90 272.30 320.70)">(mg/dL)</text>
<text x="340.80" y="257.10" font-size="8.5" fill="#2a2a2a" font-style="italic">P</text>
<text x="349.10" y="257.40" font-size="6.3" fill="#2a2a2a" font-style="italic" textLength="11.4" lengthAdjust="spacingAndGlyphs">type</text>
<text x="362.50" y="257.10" font-size="8.6" fill="#2a2a2a">=</text>
<text x="370.00" y="257.10" font-size="8.7" fill="#2a2a2a">0.197</text>
<text x="340.80" y="266.70" font-size="8.5" fill="#2a2a2a" font-style="italic">P</text>
<text x="349.10" y="267.00" font-size="6.3" fill="#2a2a2a" font-style="italic" textLength="15.8" lengthAdjust="spacingAndGlyphs">timing</text>
<text x="367.60" y="266.70" font-size="8.6" fill="#2a2a2a">=</text>
<text x="375.20" y="266.70" font-size="8.7" fill="#2a2a2a">0.247</text>
<text x="340.80" y="276.30" font-size="8.5" fill="#2a2a2a" font-style="italic">P</text>
<text x="349.10" y="276.60" font-size="6.3" fill="#2a2a2a" font-style="italic" textLength="30.0" lengthAdjust="spacingAndGlyphs">type*timing</text>
<text x="380.60" y="276.30" font-size="8.6" fill="#2a2a2a">=</text>
<text x="387.40" y="276.30" font-size="8.7" fill="#2a2a2a">0.625</text>
<circle cx="327.90" cy="295.40" r="1.95" fill="#e0541f" fill-opacity="0.42" stroke="#e0541f" stroke-width="1.2"/>
<circle cx="327.90" cy="300.10" r="1.95" fill="#e0541f" fill-opacity="0.42" stroke="#e0541f" stroke-width="1.2"/>
<circle cx="320.30" cy="310.00" r="1.95" fill="#e0541f" fill-opacity="0.42" stroke="#e0541f" stroke-width="1.2"/>
<circle cx="327.90" cy="310.70" r="1.95" fill="#e0541f" fill-opacity="0.42" stroke="#e0541f" stroke-width="1.2"/>
<circle cx="327.90" cy="322.70" r="1.95" fill="#e0541f" fill-opacity="0.42" stroke="#e0541f" stroke-width="1.2"/>
<circle cx="335.80" cy="321.70" r="1.95" fill="#e0541f" fill-opacity="0.42" stroke="#e0541f" stroke-width="1.2"/>
<circle cx="327.90" cy="327.90" r="1.95" fill="#e0541f" fill-opacity="0.42" stroke="#e0541f" stroke-width="1.2"/>
<circle cx="320.30" cy="330.70" r="1.95" fill="#e0541f" fill-opacity="0.42" stroke="#e0541f" stroke-width="1.2"/>
<circle cx="335.80" cy="330.70" r="1.95" fill="#e0541f" fill-opacity="0.42" stroke="#e0541f" stroke-width="1.2"/>
<circle cx="320.30" cy="335.80" r="1.95" fill="#e0541f" fill-opacity="0.42" stroke="#e0541f" stroke-width="1.2"/>
<circle cx="335.80" cy="335.50" r="1.95" fill="#e0541f" fill-opacity="0.42" stroke="#e0541f" stroke-width="1.2"/>
<circle cx="327.90" cy="339.60" r="1.95" fill="#e0541f" fill-opacity="0.42" stroke="#e0541f" stroke-width="1.2"/>
<circle cx="335.80" cy="340.60" r="1.95" fill="#e0541f" fill-opacity="0.42" stroke="#e0541f" stroke-width="1.2"/>
<circle cx="320.10" cy="343.70" r="1.95" fill="#e0541f" fill-opacity="0.42" stroke="#e0541f" stroke-width="1.2"/>
<rect x="314.10" y="311.30" width="28.00" height="24.90" fill="none" stroke="#e0541f" stroke-width="1.5"/>
<line x1="314.10" y1="329.40" x2="342.10" y2="329.40" stroke="#e0541f" stroke-width="1.5" />
<line x1="328.10" y1="295.50" x2="328.10" y2="311.30" stroke="#e0541f" stroke-width="1.5" />
<line x1="328.10" y1="336.20" x2="328.10" y2="343.80" stroke="#e0541f" stroke-width="1.5" />
<line x1="321.30" y1="295.50" x2="334.90" y2="295.50" stroke="#e0541f" stroke-width="1.5" />
<line x1="321.30" y1="343.80" x2="334.90" y2="343.80" stroke="#e0541f" stroke-width="1.5" />
<rect x="351.55" y="297.25" width="3.9" height="3.9" fill="#f2c443" fill-opacity="0.42" stroke="#f2c443" stroke-width="1.2"/>
<rect x="364.25" y="300.35" width="3.9" height="3.9" fill="#f2c443" fill-opacity="0.42" stroke="#f2c443" stroke-width="1.2"/>
<rect x="357.65" y="309.35" width="3.9" height="3.9" fill="#f2c443" fill-opacity="0.42" stroke="#f2c443" stroke-width="1.2"/>
<rect x="351.55" y="316.75" width="3.9" height="3.9" fill="#f2c443" fill-opacity="0.42" stroke="#f2c443" stroke-width="1.2"/>
<rect x="345.95" y="321.85" width="3.9" height="3.9" fill="#f2c443" fill-opacity="0.42" stroke="#f2c443" stroke-width="1.2"/>
<rect x="351.55" y="323.65" width="3.9" height="3.9" fill="#f2c443" fill-opacity="0.42" stroke="#f2c443" stroke-width="1.2"/>
<rect x="357.65" y="322.85" width="3.9" height="3.9" fill="#f2c443" fill-opacity="0.42" stroke="#f2c443" stroke-width="1.2"/>
<rect x="363.75" y="322.85" width="3.9" height="3.9" fill="#f2c443" fill-opacity="0.42" stroke="#f2c443" stroke-width="1.2"/>
<rect x="369.95" y="322.35" width="3.9" height="3.9" fill="#f2c443" fill-opacity="0.42" stroke="#f2c443" stroke-width="1.2"/>
<rect x="345.35" y="331.55" width="3.9" height="3.9" fill="#f2c443" fill-opacity="0.42" stroke="#f2c443" stroke-width="1.2"/>
<rect x="357.15" y="329.95" width="3.9" height="3.9" fill="#f2c443" fill-opacity="0.42" stroke="#f2c443" stroke-width="1.2"/>
<rect x="363.75" y="329.95" width="3.9" height="3.9" fill="#f2c443" fill-opacity="0.42" stroke="#f2c443" stroke-width="1.2"/>
<rect x="370.45" y="332.55" width="3.9" height="3.9" fill="#f2c443" fill-opacity="0.42" stroke="#f2c443" stroke-width="1.2"/>
<rect x="345.60" y="316.00" width="28.00" height="17.80" fill="none" stroke="#f2c443" stroke-width="1.5"/>
<line x1="345.60" y1="325.20" x2="373.60" y2="325.20" stroke="#f2c443" stroke-width="1.5" />
<line x1="359.60" y1="298.90" x2="359.60" y2="316.00" stroke="#f2c443" stroke-width="1.5" />
<line x1="359.60" y1="333.80" x2="359.60" y2="334.60" stroke="#f2c443" stroke-width="1.5" />
<line x1="352.80" y1="298.90" x2="366.40" y2="298.90" stroke="#f2c443" stroke-width="1.5" />
<line x1="352.80" y1="334.60" x2="366.40" y2="334.60" stroke="#f2c443" stroke-width="1.5" />
<path d="M387.00,318.80 L391.80,318.80 L389.40,314.80 Z" fill="#27ad98" fill-opacity="0.42" stroke="#27ad98" stroke-width="1.2" stroke-linejoin="round"/>
<path d="M391.60,315.20 L396.40,315.20 L394.00,311.20 Z" fill="#27ad98" fill-opacity="0.42" stroke="#27ad98" stroke-width="1.2" stroke-linejoin="round"/>
<path d="M391.60,325.50 L396.40,325.50 L394.00,321.50 Z" fill="#27ad98" fill-opacity="0.42" stroke="#27ad98" stroke-width="1.2" stroke-linejoin="round"/>
<path d="M381.90,329.00 L386.70,329.00 L384.30,325.00 Z" fill="#27ad98" fill-opacity="0.42" stroke="#27ad98" stroke-width="1.2" stroke-linejoin="round"/>
<path d="M376.80,332.10 L381.60,332.10 L379.20,328.10 Z" fill="#27ad98" fill-opacity="0.42" stroke="#27ad98" stroke-width="1.2" stroke-linejoin="round"/>
<path d="M385.90,331.60 L390.70,331.60 L388.30,327.60 Z" fill="#27ad98" fill-opacity="0.42" stroke="#27ad98" stroke-width="1.2" stroke-linejoin="round"/>
<path d="M391.60,331.60 L396.40,331.60 L394.00,327.60 Z" fill="#27ad98" fill-opacity="0.42" stroke="#27ad98" stroke-width="1.2" stroke-linejoin="round"/>
<path d="M397.20,331.60 L402.00,331.60 L399.60,327.60 Z" fill="#27ad98" fill-opacity="0.42" stroke="#27ad98" stroke-width="1.2" stroke-linejoin="round"/>
<path d="M401.30,332.60 L406.10,332.60 L403.70,328.60 Z" fill="#27ad98" fill-opacity="0.42" stroke="#27ad98" stroke-width="1.2" stroke-linejoin="round"/>
<path d="M376.20,339.30 L381.00,339.30 L378.60,335.30 Z" fill="#27ad98" fill-opacity="0.42" stroke="#27ad98" stroke-width="1.2" stroke-linejoin="round"/>
<path d="M385.90,337.20 L390.70,337.20 L388.30,333.20 Z" fill="#27ad98" fill-opacity="0.42" stroke="#27ad98" stroke-width="1.2" stroke-linejoin="round"/>
<path d="M396.70,337.20 L401.50,337.20 L399.10,333.20 Z" fill="#27ad98" fill-opacity="0.42" stroke="#27ad98" stroke-width="1.2" stroke-linejoin="round"/>
<path d="M385.90,345.90 L390.70,345.90 L388.30,341.90 Z" fill="#27ad98" fill-opacity="0.42" stroke="#27ad98" stroke-width="1.2" stroke-linejoin="round"/>
<path d="M391.60,344.90 L396.40,344.90 L394.00,340.90 Z" fill="#27ad98" fill-opacity="0.42" stroke="#27ad98" stroke-width="1.2" stroke-linejoin="round"/>
<rect x="377.70" y="328.30" width="28.00" height="7.40" fill="none" stroke="#27ad98" stroke-width="1.5"/>
<line x1="377.70" y1="332.30" x2="405.70" y2="332.30" stroke="#27ad98" stroke-width="1.5" />
<line x1="391.70" y1="314.70" x2="391.70" y2="328.30" stroke="#27ad98" stroke-width="1.5" />
<line x1="391.70" y1="335.70" x2="391.70" y2="344.40" stroke="#27ad98" stroke-width="1.5" />
<line x1="384.90" y1="314.70" x2="398.50" y2="314.70" stroke="#27ad98" stroke-width="1.5" />
<line x1="384.90" y1="344.40" x2="398.50" y2="344.40" stroke="#27ad98" stroke-width="1.5" />
<path d="M413.00,297.50 L417.80,297.50 L415.40,301.50 Z" fill="#8763b5" fill-opacity="0.42" stroke="#8763b5" stroke-width="1.2" stroke-linejoin="round"/>
<path d="M428.40,295.50 L433.20,295.50 L430.80,299.50 Z" fill="#8763b5" fill-opacity="0.42" stroke="#8763b5" stroke-width="1.2" stroke-linejoin="round"/>
<path d="M420.70,311.80 L425.50,311.80 L423.10,315.80 Z" fill="#8763b5" fill-opacity="0.42" stroke="#8763b5" stroke-width="1.2" stroke-linejoin="round"/>
<path d="M413.00,318.50 L417.80,318.50 L415.40,322.50 Z" fill="#8763b5" fill-opacity="0.42" stroke="#8763b5" stroke-width="1.2" stroke-linejoin="round"/>
<path d="M428.40,318.50 L433.20,318.50 L430.80,322.50 Z" fill="#8763b5" fill-opacity="0.42" stroke="#8763b5" stroke-width="1.2" stroke-linejoin="round"/>
<path d="M420.70,322.10 L425.50,322.10 L423.10,326.10 Z" fill="#8763b5" fill-opacity="0.42" stroke="#8763b5" stroke-width="1.2" stroke-linejoin="round"/>
<path d="M413.00,326.20 L417.80,326.20 L415.40,330.20 Z" fill="#8763b5" fill-opacity="0.42" stroke="#8763b5" stroke-width="1.2" stroke-linejoin="round"/>
<path d="M428.40,324.60 L433.20,324.60 L430.80,328.60 Z" fill="#8763b5" fill-opacity="0.42" stroke="#8763b5" stroke-width="1.2" stroke-linejoin="round"/>
<path d="M413.00,331.80 L417.80,331.80 L415.40,335.80 Z" fill="#8763b5" fill-opacity="0.42" stroke="#8763b5" stroke-width="1.2" stroke-linejoin="round"/>
<path d="M420.70,331.30 L425.50,331.30 L423.10,335.30 Z" fill="#8763b5" fill-opacity="0.42" stroke="#8763b5" stroke-width="1.2" stroke-linejoin="round"/>
<path d="M428.40,332.30 L433.20,332.30 L430.80,336.30 Z" fill="#8763b5" fill-opacity="0.42" stroke="#8763b5" stroke-width="1.2" stroke-linejoin="round"/>
<path d="M420.70,340.50 L425.50,340.50 L423.10,344.50 Z" fill="#8763b5" fill-opacity="0.42" stroke="#8763b5" stroke-width="1.2" stroke-linejoin="round"/>
<path d="M413.00,347.60 L417.80,347.60 L415.40,351.60 Z" fill="#8763b5" fill-opacity="0.42" stroke="#8763b5" stroke-width="1.2" stroke-linejoin="round"/>
<path d="M428.40,346.10 L433.20,346.10 L430.80,350.10 Z" fill="#8763b5" fill-opacity="0.42" stroke="#8763b5" stroke-width="1.2" stroke-linejoin="round"/>
<rect x="409.20" y="315.20" width="28.00" height="18.60" fill="none" stroke="#8763b5" stroke-width="1.5"/>
<line x1="409.20" y1="326.00" x2="437.20" y2="326.00" stroke="#8763b5" stroke-width="1.5" />
<line x1="423.20" y1="297.10" x2="423.20" y2="315.20" stroke="#8763b5" stroke-width="1.5" />
<line x1="423.20" y1="333.80" x2="423.20" y2="348.00" stroke="#8763b5" stroke-width="1.5" />
<line x1="416.40" y1="297.10" x2="430.00" y2="297.10" stroke="#8763b5" stroke-width="1.5" />
<line x1="416.40" y1="348.00" x2="430.00" y2="348.00" stroke="#8763b5" stroke-width="1.5" />
<line x1="525.50" y1="280.50" x2="525.50" y2="365.40" stroke="#111" stroke-width="1.5" />
<line x1="520.90" y1="364.60" x2="678.40" y2="364.60" stroke="#111" stroke-width="1.5" />
<line x1="520.90" y1="364.60" x2="525.50" y2="364.60" stroke="#111" stroke-width="1.3" />
<text x="517.90" y="368.80" font-size="8.5" text-anchor="end" fill="#111" >0</text>
<line x1="520.90" y1="344.90" x2="525.50" y2="344.90" stroke="#111" stroke-width="1.3" />
<text x="517.10" y="348.20" font-size="8.5" text-anchor="end" fill="#111" >2</text>
<line x1="520.90" y1="325.10" x2="525.50" y2="325.10" stroke="#111" stroke-width="1.3" />
<text x="517.10" y="328.40" font-size="8.5" text-anchor="end" fill="#111" >4</text>
<line x1="520.90" y1="305.00" x2="525.50" y2="305.00" stroke="#111" stroke-width="1.3" />
<text x="517.10" y="308.30" font-size="8.5" text-anchor="end" fill="#111" >6</text>
<line x1="520.90" y1="285.20" x2="525.50" y2="285.20" stroke="#111" stroke-width="1.3" />
<text x="517.10" y="288.50" font-size="8.5" text-anchor="end" fill="#111" >8</text>
<line x1="554.10" y1="364.60" x2="554.10" y2="370.20" stroke="#111" stroke-width="1.3" />
<text x="554.70" y="383.80" font-size="8.3" text-anchor="middle" fill="#111" >HP-L</text>
<line x1="585.90" y1="364.60" x2="585.90" y2="370.20" stroke="#111" stroke-width="1.3" />
<text x="586.50" y="383.80" font-size="8.3" text-anchor="middle" fill="#111" >HP-D</text>
<line x1="618.00" y1="364.60" x2="618.00" y2="370.20" stroke="#111" stroke-width="1.3" />
<text x="618.60" y="383.80" font-size="8.3" text-anchor="middle" fill="#111" >HM-L</text>
<line x1="649.50" y1="364.60" x2="649.50" y2="370.20" stroke="#111" stroke-width="1.3" />
<text x="650.10" y="383.80" font-size="8.3" text-anchor="middle" fill="#111" >HM-D</text>
<text x="504.60" y="322.80" font-size="8.6" text-anchor="middle" fill="#111" transform="rotate(-90 504.60 322.80)">eHbA1C (%)</text>
<text x="553.20" y="257.40" font-size="8.5" fill="#2a2a2a" font-style="italic">P</text>
<text x="561.50" y="257.70" font-size="6.3" fill="#2a2a2a" font-style="italic" textLength="11.4" lengthAdjust="spacingAndGlyphs">type</text>
<text x="574.90" y="257.40" font-size="8.6" fill="#2a2a2a">=</text>
<text x="582.40" y="257.40" font-size="8.7" fill="#2a2a2a">0.809</text>
<text x="553.20" y="267.00" font-size="8.5" fill="#2a2a2a" font-style="italic">P</text>
<text x="561.50" y="267.30" font-size="6.3" fill="#2a2a2a" font-style="italic" textLength="15.8" lengthAdjust="spacingAndGlyphs">timing</text>
<text x="580.00" y="267.00" font-size="8.6" fill="#2a2a2a">=</text>
<text x="587.60" y="267.00" font-size="8.7" fill="#2a2a2a">0.089</text>
<text x="553.20" y="276.60" font-size="8.5" fill="#2a2a2a" font-style="italic">P</text>
<text x="561.50" y="276.90" font-size="6.3" fill="#2a2a2a" font-style="italic" textLength="30.0" lengthAdjust="spacingAndGlyphs">type*timing</text>
<text x="593.00" y="276.60" font-size="8.6" fill="#2a2a2a">=</text>
<text x="598.30" y="276.60" font-size="8.7" fill="#2a2a2a">0.806</text>
<circle cx="556.00" cy="287.60" r="1.95" fill="#e0541f" fill-opacity="0.42" stroke="#e0541f" stroke-width="1.2"/>
<circle cx="552.40" cy="301.40" r="1.95" fill="#e0541f" fill-opacity="0.42" stroke="#e0541f" stroke-width="1.2"/>
<circle cx="556.00" cy="306.00" r="1.95" fill="#e0541f" fill-opacity="0.42" stroke="#e0541f" stroke-width="1.2"/>
<circle cx="552.40" cy="308.10" r="1.95" fill="#e0541f" fill-opacity="0.42" stroke="#e0541f" stroke-width="1.2"/>
<circle cx="559.50" cy="309.40" r="1.95" fill="#e0541f" fill-opacity="0.42" stroke="#e0541f" stroke-width="1.2"/>
<circle cx="541.60" cy="312.70" r="1.95" fill="#e0541f" fill-opacity="0.42" stroke="#e0541f" stroke-width="1.2"/>
<circle cx="548.80" cy="314.20" r="1.95" fill="#e0541f" fill-opacity="0.42" stroke="#e0541f" stroke-width="1.2"/>
<circle cx="556.00" cy="314.20" r="1.95" fill="#e0541f" fill-opacity="0.42" stroke="#e0541f" stroke-width="1.2"/>
<circle cx="566.70" cy="312.70" r="1.95" fill="#e0541f" fill-opacity="0.42" stroke="#e0541f" stroke-width="1.2"/>
<circle cx="545.20" cy="316.70" r="1.95" fill="#e0541f" fill-opacity="0.42" stroke="#e0541f" stroke-width="1.2"/>
<circle cx="552.40" cy="315.70" r="1.95" fill="#e0541f" fill-opacity="0.42" stroke="#e0541f" stroke-width="1.2"/>
<circle cx="559.50" cy="316.70" r="1.95" fill="#e0541f" fill-opacity="0.42" stroke="#e0541f" stroke-width="1.2"/>
<circle cx="563.60" cy="314.70" r="1.95" fill="#e0541f" fill-opacity="0.42" stroke="#e0541f" stroke-width="1.2"/>
<circle cx="552.40" cy="325.40" r="1.95" fill="#e0541f" fill-opacity="0.42" stroke="#e0541f" stroke-width="1.2"/>
<rect x="540.10" y="308.10" width="28.00" height="7.90" fill="none" stroke="#e0541f" stroke-width="1.5"/>
<line x1="540.10" y1="312.80" x2="568.10" y2="312.80" stroke="#e0541f" stroke-width="1.5" />
<line x1="554.10" y1="287.60" x2="554.10" y2="308.10" stroke="#e0541f" stroke-width="1.5" />
<line x1="554.10" y1="316.00" x2="554.10" y2="325.20" stroke="#e0541f" stroke-width="1.5" />
<line x1="547.30" y1="287.60" x2="560.90" y2="287.60" stroke="#e0541f" stroke-width="1.5" />
<line x1="547.30" y1="325.20" x2="560.90" y2="325.20" stroke="#e0541f" stroke-width="1.5" />
<rect x="588.25" y="298.25" width="3.9" height="3.9" fill="#f2c443" fill-opacity="0.42" stroke="#f2c443" stroke-width="1.2"/>
<rect x="575.45" y="302.55" width="3.9" height="3.9" fill="#f2c443" fill-opacity="0.42" stroke="#f2c443" stroke-width="1.2"/>
<rect x="584.15" y="302.05" width="3.9" height="3.9" fill="#f2c443" fill-opacity="0.42" stroke="#f2c443" stroke-width="1.2"/>
<rect x="592.85" y="302.75" width="3.9" height="3.9" fill="#f2c443" fill-opacity="0.42" stroke="#f2c443" stroke-width="1.2"/>
<rect x="571.85" y="306.15" width="3.9" height="3.9" fill="#f2c443" fill-opacity="0.42" stroke="#f2c443" stroke-width="1.2"/>
<rect x="579.05" y="306.15" width="3.9" height="3.9" fill="#f2c443" fill-opacity="0.42" stroke="#f2c443" stroke-width="1.2"/>
<rect x="588.25" y="306.15" width="3.9" height="3.9" fill="#f2c443" fill-opacity="0.42" stroke="#f2c443" stroke-width="1.2"/>
<rect x="595.85" y="306.15" width="3.9" height="3.9" fill="#f2c443" fill-opacity="0.42" stroke="#f2c443" stroke-width="1.2"/>
<rect x="571.85" y="310.15" width="3.9" height="3.9" fill="#f2c443" fill-opacity="0.42" stroke="#f2c443" stroke-width="1.2"/>
<rect x="580.05" y="310.15" width="3.9" height="3.9" fill="#f2c443" fill-opacity="0.42" stroke="#f2c443" stroke-width="1.2"/>
<rect x="588.25" y="311.75" width="3.9" height="3.9" fill="#f2c443" fill-opacity="0.42" stroke="#f2c443" stroke-width="1.2"/>
<rect x="595.35" y="310.75" width="3.9" height="3.9" fill="#f2c443" fill-opacity="0.42" stroke="#f2c443" stroke-width="1.2"/>
<rect x="571.90" y="301.50" width="28.00" height="11.90" fill="none" stroke="#f2c443" stroke-width="1.5"/>
<line x1="571.90" y1="308.60" x2="599.90" y2="308.60" stroke="#f2c443" stroke-width="1.5" />
<line x1="585.90" y1="300.70" x2="585.90" y2="301.50" stroke="#f2c443" stroke-width="1.5" />
<line x1="585.90" y1="313.40" x2="585.90" y2="314.10" stroke="#f2c443" stroke-width="1.5" />
<line x1="579.10" y1="300.70" x2="592.70" y2="300.70" stroke="#f2c443" stroke-width="1.5" />
<line x1="579.10" y1="314.10" x2="592.70" y2="314.10" stroke="#f2c443" stroke-width="1.5" />
<path d="M615.50,301.10 L620.30,301.10 L617.90,297.10 Z" fill="#27ad98" fill-opacity="0.42" stroke="#27ad98" stroke-width="1.2" stroke-linejoin="round"/>
<path d="M603.20,310.50 L608.00,310.50 L605.60,306.50 Z" fill="#27ad98" fill-opacity="0.42" stroke="#27ad98" stroke-width="1.2" stroke-linejoin="round"/>
<path d="M607.80,311.30 L612.60,311.30 L610.20,307.30 Z" fill="#27ad98" fill-opacity="0.42" stroke="#27ad98" stroke-width="1.2" stroke-linejoin="round"/>
<path d="M622.60,308.70 L627.40,308.70 L625.00,304.70 Z" fill="#27ad98" fill-opacity="0.42" stroke="#27ad98" stroke-width="1.2" stroke-linejoin="round"/>
<path d="M628.30,310.80 L633.10,310.80 L630.70,306.80 Z" fill="#27ad98" fill-opacity="0.42" stroke="#27ad98" stroke-width="1.2" stroke-linejoin="round"/>
<path d="M603.60,314.20 L608.40,314.20 L606.00,310.20 Z" fill="#27ad98" fill-opacity="0.42" stroke="#27ad98" stroke-width="1.2" stroke-linejoin="round"/>
<path d="M609.60,314.20 L614.40,314.20 L612.00,310.20 Z" fill="#27ad98" fill-opacity="0.42" stroke="#27ad98" stroke-width="1.2" stroke-linejoin="round"/>
<path d="M615.60,314.20 L620.40,314.20 L618.00,310.20 Z" fill="#27ad98" fill-opacity="0.42" stroke="#27ad98" stroke-width="1.2" stroke-linejoin="round"/>
<path d="M621.60,314.20 L626.40,314.20 L624.00,310.20 Z" fill="#27ad98" fill-opacity="0.42" stroke="#27ad98" stroke-width="1.2" stroke-linejoin="round"/>
<path d="M627.60,314.20 L632.40,314.20 L630.00,310.20 Z" fill="#27ad98" fill-opacity="0.42" stroke="#27ad98" stroke-width="1.2" stroke-linejoin="round"/>
<path d="M606.60,316.70 L611.40,316.70 L609.00,312.70 Z" fill="#27ad98" fill-opacity="0.42" stroke="#27ad98" stroke-width="1.2" stroke-linejoin="round"/>
<path d="M612.60,316.70 L617.40,316.70 L615.00,312.70 Z" fill="#27ad98" fill-opacity="0.42" stroke="#27ad98" stroke-width="1.2" stroke-linejoin="round"/>
<path d="M618.60,316.70 L623.40,316.70 L621.00,312.70 Z" fill="#27ad98" fill-opacity="0.42" stroke="#27ad98" stroke-width="1.2" stroke-linejoin="round"/>
<path d="M624.60,316.70 L629.40,316.70 L627.00,312.70 Z" fill="#27ad98" fill-opacity="0.42" stroke="#27ad98" stroke-width="1.2" stroke-linejoin="round"/>
<rect x="604.00" y="309.40" width="28.00" height="5.30" fill="none" stroke="#27ad98" stroke-width="1.5"/>
<line x1="604.00" y1="312.00" x2="632.00" y2="312.00" stroke="#27ad98" stroke-width="1.5" />
<line x1="618.00" y1="300.70" x2="618.00" y2="309.40" stroke="#27ad98" stroke-width="1.5" />
<line x1="618.00" y1="314.70" x2="618.00" y2="316.80" stroke="#27ad98" stroke-width="1.5" />
<line x1="611.20" y1="300.70" x2="624.80" y2="300.70" stroke="#27ad98" stroke-width="1.5" />
<line x1="611.20" y1="316.80" x2="624.80" y2="316.80" stroke="#27ad98" stroke-width="1.5" />
<path d="M644.60,284.90 L649.40,284.90 L647.00,288.90 Z" fill="#8763b5" fill-opacity="0.42" stroke="#8763b5" stroke-width="1.2" stroke-linejoin="round"/>
<path d="M639.00,301.20 L643.80,301.20 L641.40,305.20 Z" fill="#8763b5" fill-opacity="0.42" stroke="#8763b5" stroke-width="1.2" stroke-linejoin="round"/>
<path d="M649.70,301.20 L654.50,301.20 L652.10,305.20 Z" fill="#8763b5" fill-opacity="0.42" stroke="#8763b5" stroke-width="1.2" stroke-linejoin="round"/>
<path d="M654.80,301.80 L659.60,301.80 L657.20,305.80 Z" fill="#8763b5" fill-opacity="0.42" stroke="#8763b5" stroke-width="1.2" stroke-linejoin="round"/>
<path d="M634.90,303.30 L639.70,303.30 L637.30,307.30 Z" fill="#8763b5" fill-opacity="0.42" stroke="#8763b5" stroke-width="1.2" stroke-linejoin="round"/>
<path d="M659.90,304.30 L664.70,304.30 L662.30,308.30 Z" fill="#8763b5" fill-opacity="0.42" stroke="#8763b5" stroke-width="1.2" stroke-linejoin="round"/>
<path d="M644.60,305.30 L649.40,305.30 L647.00,309.30 Z" fill="#8763b5" fill-opacity="0.42" stroke="#8763b5" stroke-width="1.2" stroke-linejoin="round"/>
<path d="M654.30,307.40 L659.10,307.40 L656.70,311.40 Z" fill="#8763b5" fill-opacity="0.42" stroke="#8763b5" stroke-width="1.2" stroke-linejoin="round"/>
<path d="M634.90,307.40 L639.70,307.40 L637.30,311.40 Z" fill="#8763b5" fill-opacity="0.42" stroke="#8763b5" stroke-width="1.2" stroke-linejoin="round"/>
<path d="M634.90,312.50 L639.70,312.50 L637.30,316.50 Z" fill="#8763b5" fill-opacity="0.42" stroke="#8763b5" stroke-width="1.2" stroke-linejoin="round"/>
<path d="M644.60,312.50 L649.40,312.50 L647.00,316.50 Z" fill="#8763b5" fill-opacity="0.42" stroke="#8763b5" stroke-width="1.2" stroke-linejoin="round"/>
<path d="M654.30,314.00 L659.10,314.00 L656.70,318.00 Z" fill="#8763b5" fill-opacity="0.42" stroke="#8763b5" stroke-width="1.2" stroke-linejoin="round"/>
<path d="M659.90,312.00 L664.70,312.00 L662.30,316.00 Z" fill="#8763b5" fill-opacity="0.42" stroke="#8763b5" stroke-width="1.2" stroke-linejoin="round"/>
<rect x="635.50" y="304.20" width="28.00" height="10.50" fill="none" stroke="#8763b5" stroke-width="1.5"/>
<line x1="635.50" y1="309.40" x2="663.50" y2="309.40" stroke="#8763b5" stroke-width="1.5" />
<line x1="649.50" y1="287.90" x2="649.50" y2="304.20" stroke="#8763b5" stroke-width="1.5" />
<line x1="649.50" y1="314.70" x2="649.50" y2="316.00" stroke="#8763b5" stroke-width="1.5" />
<line x1="642.70" y1="287.90" x2="656.30" y2="287.90" stroke="#8763b5" stroke-width="1.5" />
<line x1="642.70" y1="316.00" x2="656.30" y2="316.00" stroke="#8763b5" stroke-width="1.5" />
<line x1="69.20" y1="445.80" x2="69.20" y2="532.00" stroke="#111" stroke-width="1.5" />
<line x1="64.60" y1="531.20" x2="222.60" y2="531.20" stroke="#111" stroke-width="1.5" />
<line x1="64.60" y1="531.20" x2="69.20" y2="531.20" stroke="#111" stroke-width="1.3" />
<text x="61.60" y="535.40" font-size="8.5" text-anchor="end" fill="#111" >0</text>
<line x1="64.60" y1="503.10" x2="69.20" y2="503.10" stroke="#111" stroke-width="1.3" />
<text x="59.60" y="506.40" font-size="8.5" text-anchor="end" fill="#111" >50</text>
<line x1="64.60" y1="475.00" x2="69.20" y2="475.00" stroke="#111" stroke-width="1.3" />
<text x="58.90" y="478.30" font-size="8.5" text-anchor="end" fill="#111" >100</text>
<line x1="64.60" y1="447.10" x2="69.20" y2="447.10" stroke="#111" stroke-width="1.3" />
<text x="58.90" y="450.40" font-size="8.5" text-anchor="end" fill="#111" >150</text>
<line x1="97.80" y1="531.20" x2="97.80" y2="536.80" stroke="#111" stroke-width="1.3" />
<text x="97.60" y="549.80" font-size="8.3" text-anchor="middle" fill="#111" >HP-L</text>
<line x1="129.30" y1="531.20" x2="129.30" y2="536.80" stroke="#111" stroke-width="1.3" />
<text x="129.10" y="549.80" font-size="8.3" text-anchor="middle" fill="#111" >HP-D</text>
<line x1="160.90" y1="531.20" x2="160.90" y2="536.80" stroke="#111" stroke-width="1.3" />
<text x="160.70" y="549.80" font-size="8.3" text-anchor="middle" fill="#111" >HM-L</text>
<line x1="192.70" y1="531.20" x2="192.70" y2="536.80" stroke="#111" stroke-width="1.3" />
<text x="192.50" y="549.80" font-size="8.3" text-anchor="middle" fill="#111" >HM-D</text>
<text x="27.50" y="489.00" font-size="8.6" text-anchor="middle" fill="#111" transform="rotate(-90 27.50 489.00)">MAGE</text>
<text x="37.60" y="489.70" font-size="8.6" text-anchor="middle" fill="#111" transform="rotate(-90 37.60 489.70)">(mg/dL)</text>
<text x="114.20" y="416.30" font-size="8.5" fill="#2a2a2a" font-style="italic">P</text>
<text x="122.50" y="416.60" font-size="6.3" fill="#2a2a2a" font-style="italic" textLength="11.4" lengthAdjust="spacingAndGlyphs">type</text>
<text x="135.90" y="416.30" font-size="8.6" fill="#2a2a2a">=</text>
<text x="143.40" y="416.30" font-size="8.7" fill="#2a2a2a">0.283</text>
<text x="114.20" y="425.90" font-size="8.5" fill="#2a2a2a" font-style="italic">P</text>
<text x="122.50" y="426.20" font-size="6.3" fill="#2a2a2a" font-style="italic" textLength="15.8" lengthAdjust="spacingAndGlyphs">timing</text>
<text x="141.00" y="425.90" font-size="8.6" fill="#2a2a2a">=</text>
<text x="148.60" y="425.90" font-size="8.7" fill="#2a2a2a">0.125</text>
<text x="114.20" y="435.50" font-size="8.5" fill="#2a2a2a" font-style="italic">P</text>
<text x="122.50" y="435.80" font-size="6.3" fill="#2a2a2a" font-style="italic" textLength="30.0" lengthAdjust="spacingAndGlyphs">type*timing</text>
<text x="154.00" y="435.50" font-size="8.6" fill="#2a2a2a">=</text>
<text x="159.30" y="435.50" font-size="8.7" fill="#2a2a2a">0.790</text>
<circle cx="93.30" cy="465.20" r="1.95" fill="#e0541f" fill-opacity="0.42" stroke="#e0541f" stroke-width="1.2"/>
<circle cx="102.00" cy="465.20" r="1.95" fill="#e0541f" fill-opacity="0.42" stroke="#e0541f" stroke-width="1.2"/>
<circle cx="93.30" cy="480.20" r="1.95" fill="#e0541f" fill-opacity="0.42" stroke="#e0541f" stroke-width="1.2"/>
<circle cx="102.00" cy="483.30" r="1.95" fill="#e0541f" fill-opacity="0.42" stroke="#e0541f" stroke-width="1.2"/>
<circle cx="93.30" cy="485.30" r="1.95" fill="#e0541f" fill-opacity="0.42" stroke="#e0541f" stroke-width="1.2"/>
<circle cx="93.30" cy="492.80" r="1.95" fill="#e0541f" fill-opacity="0.42" stroke="#e0541f" stroke-width="1.2"/>
<circle cx="102.00" cy="494.50" r="1.95" fill="#e0541f" fill-opacity="0.42" stroke="#e0541f" stroke-width="1.2"/>
<circle cx="93.30" cy="497.00" r="1.95" fill="#e0541f" fill-opacity="0.42" stroke="#e0541f" stroke-width="1.2"/>
<circle cx="93.30" cy="501.60" r="1.95" fill="#e0541f" fill-opacity="0.42" stroke="#e0541f" stroke-width="1.2"/>
<circle cx="102.00" cy="500.60" r="1.95" fill="#e0541f" fill-opacity="0.42" stroke="#e0541f" stroke-width="1.2"/>
<circle cx="93.30" cy="507.80" r="1.95" fill="#e0541f" fill-opacity="0.42" stroke="#e0541f" stroke-width="1.2"/>
<circle cx="102.00" cy="509.10" r="1.95" fill="#e0541f" fill-opacity="0.42" stroke="#e0541f" stroke-width="1.2"/>
<circle cx="110.50" cy="508.80" r="1.95" fill="#e0541f" fill-opacity="0.42" stroke="#e0541f" stroke-width="1.2"/>
<circle cx="85.40" cy="512.20" r="1.95" fill="#e0541f" fill-opacity="0.42" stroke="#e0541f" stroke-width="1.2"/>
<rect x="83.80" y="483.40" width="28.00" height="24.10" fill="none" stroke="#e0541f" stroke-width="1.5"/>
<line x1="83.80" y1="495.70" x2="111.80" y2="495.70" stroke="#e0541f" stroke-width="1.5" />
<line x1="97.80" y1="465.00" x2="97.80" y2="483.40" stroke="#e0541f" stroke-width="1.5" />
<line x1="97.80" y1="507.50" x2="97.80" y2="511.50" stroke="#e0541f" stroke-width="1.5" />
<line x1="91.00" y1="465.00" x2="104.60" y2="465.00" stroke="#e0541f" stroke-width="1.5" />
<line x1="91.00" y1="511.50" x2="104.60" y2="511.50" stroke="#e0541f" stroke-width="1.5" />
<rect x="127.65" y="451.15" width="3.9" height="3.9" fill="#f2c443" fill-opacity="0.42" stroke="#f2c443" stroke-width="1.2"/>
<rect x="127.65" y="466.45" width="3.9" height="3.9" fill="#f2c443" fill-opacity="0.42" stroke="#f2c443" stroke-width="1.2"/>
<rect x="133.75" y="477.75" width="3.9" height="3.9" fill="#f2c443" fill-opacity="0.42" stroke="#f2c443" stroke-width="1.2"/>
<rect x="127.65" y="481.85" width="3.9" height="3.9" fill="#f2c443" fill-opacity="0.42" stroke="#f2c443" stroke-width="1.2"/>
<rect x="115.35" y="484.35" width="3.9" height="3.9" fill="#f2c443" fill-opacity="0.42" stroke="#f2c443" stroke-width="1.2"/>
<rect x="121.55" y="484.05" width="3.9" height="3.9" fill="#f2c443" fill-opacity="0.42" stroke="#f2c443" stroke-width="1.2"/>
<rect x="139.95" y="484.35" width="3.9" height="3.9" fill="#f2c443" fill-opacity="0.42" stroke="#f2c443" stroke-width="1.2"/>
<rect x="127.65" y="487.95" width="3.9" height="3.9" fill="#f2c443" fill-opacity="0.42" stroke="#f2c443" stroke-width="1.2"/>
<rect x="133.75" y="487.95" width="3.9" height="3.9" fill="#f2c443" fill-opacity="0.42" stroke="#f2c443" stroke-width="1.2"/>
<rect x="121.55" y="491.55" width="3.9" height="3.9" fill="#f2c443" fill-opacity="0.42" stroke="#f2c443" stroke-width="1.2"/>
<rect x="127.65" y="495.65" width="3.9" height="3.9" fill="#f2c443" fill-opacity="0.42" stroke="#f2c443" stroke-width="1.2"/>
<rect x="133.75" y="496.15" width="3.9" height="3.9" fill="#f2c443" fill-opacity="0.42" stroke="#f2c443" stroke-width="1.2"/>
<rect x="121.55" y="498.65" width="3.9" height="3.9" fill="#f2c443" fill-opacity="0.42" stroke="#f2c443" stroke-width="1.2"/>
<rect x="115.30" y="482.60" width="28.00" height="12.60" fill="none" stroke="#f2c443" stroke-width="1.5"/>
<line x1="115.30" y1="487.30" x2="143.30" y2="487.30" stroke="#f2c443" stroke-width="1.5" />
<line x1="129.30" y1="453.10" x2="129.30" y2="482.60" stroke="#f2c443" stroke-width="1.5" />
<line x1="129.30" y1="495.20" x2="129.30" y2="500.00" stroke="#f2c443" stroke-width="1.5" />
<line x1="122.50" y1="453.10" x2="136.10" y2="453.10" stroke="#f2c443" stroke-width="1.5" />
<line x1="122.50" y1="500.00" x2="136.10" y2="500.00" stroke="#f2c443" stroke-width="1.5" />
<path d="M163.10,475.20 L167.90,475.20 L165.50,471.20 Z" fill="#27ad98" fill-opacity="0.42" stroke="#27ad98" stroke-width="1.2" stroke-linejoin="round"/>
<path d="M154.90,485.00 L159.70,485.00 L157.30,481.00 Z" fill="#27ad98" fill-opacity="0.42" stroke="#27ad98" stroke-width="1.2" stroke-linejoin="round"/>
<path d="M163.10,486.00 L167.90,486.00 L165.50,482.00 Z" fill="#27ad98" fill-opacity="0.42" stroke="#27ad98" stroke-width="1.2" stroke-linejoin="round"/>
<path d="M154.90,490.60 L159.70,490.60 L157.30,486.60 Z" fill="#27ad98" fill-opacity="0.42" stroke="#27ad98" stroke-width="1.2" stroke-linejoin="round"/>
<path d="M163.10,494.20 L167.90,494.20 L165.50,490.20 Z" fill="#27ad98" fill-opacity="0.42" stroke="#27ad98" stroke-width="1.2" stroke-linejoin="round"/>
<path d="M171.30,492.10 L176.10,492.10 L173.70,488.10 Z" fill="#27ad98" fill-opacity="0.42" stroke="#27ad98" stroke-width="1.2" stroke-linejoin="round"/>
<path d="M146.20,501.80 L151.00,501.80 L148.60,497.80 Z" fill="#27ad98" fill-opacity="0.42" stroke="#27ad98" stroke-width="1.2" stroke-linejoin="round"/>
<path d="M154.90,502.30 L159.70,502.30 L157.30,498.30 Z" fill="#27ad98" fill-opacity="0.42" stroke="#27ad98" stroke-width="1.2" stroke-linejoin="round"/>
<path d="M163.10,500.30 L167.90,500.30 L165.50,496.30 Z" fill="#27ad98" fill-opacity="0.42" stroke="#27ad98" stroke-width="1.2" stroke-linejoin="round"/>
<path d="M171.30,501.30 L176.10,501.30 L173.70,497.30 Z" fill="#27ad98" fill-opacity="0.42" stroke="#27ad98" stroke-width="1.2" stroke-linejoin="round"/>
<path d="M146.20,504.90 L151.00,504.90 L148.60,500.90 Z" fill="#27ad98" fill-opacity="0.42" stroke="#27ad98" stroke-width="1.2" stroke-linejoin="round"/>
<path d="M154.90,506.40 L159.70,506.40 L157.30,502.40 Z" fill="#27ad98" fill-opacity="0.42" stroke="#27ad98" stroke-width="1.2" stroke-linejoin="round"/>
<path d="M163.10,505.40 L167.90,505.40 L165.50,501.40 Z" fill="#27ad98" fill-opacity="0.42" stroke="#27ad98" stroke-width="1.2" stroke-linejoin="round"/>
<path d="M163.10,512.50 L167.90,512.50 L165.50,508.50 Z" fill="#27ad98" fill-opacity="0.42" stroke="#27ad98" stroke-width="1.2" stroke-linejoin="round"/>
<path d="M154.90,516.60 L159.70,516.60 L157.30,512.60 Z" fill="#27ad98" fill-opacity="0.42" stroke="#27ad98" stroke-width="1.2" stroke-linejoin="round"/>
<rect x="146.90" y="489.40" width="28.00" height="13.70" fill="none" stroke="#27ad98" stroke-width="1.5"/>
<line x1="146.90" y1="499.10" x2="174.90" y2="499.10" stroke="#27ad98" stroke-width="1.5" />
<line x1="160.90" y1="474.20" x2="160.90" y2="489.40" stroke="#27ad98" stroke-width="1.5" />
<line x1="160.90" y1="503.10" x2="160.90" y2="514.90" stroke="#27ad98" stroke-width="1.5" />
<line x1="154.10" y1="474.20" x2="167.70" y2="474.20" stroke="#27ad98" stroke-width="1.5" />
<line x1="154.10" y1="514.90" x2="167.70" y2="514.90" stroke="#27ad98" stroke-width="1.5" />
<path d="M190.70,452.90 L195.50,452.90 L193.10,456.90 Z" fill="#8763b5" fill-opacity="0.42" stroke="#8763b5" stroke-width="1.2" stroke-linejoin="round"/>
<path d="M198.40,465.20 L203.20,465.20 L200.80,469.20 Z" fill="#8763b5" fill-opacity="0.42" stroke="#8763b5" stroke-width="1.2" stroke-linejoin="round"/>
<path d="M190.70,467.80 L195.50,467.80 L193.10,471.80 Z" fill="#8763b5" fill-opacity="0.42" stroke="#8763b5" stroke-width="1.2" stroke-linejoin="round"/>
<path d="M190.70,477.50 L195.50,477.50 L193.10,481.50 Z" fill="#8763b5" fill-opacity="0.42" stroke="#8763b5" stroke-width="1.2" stroke-linejoin="round"/>
<path d="M182.50,483.10 L187.30,483.10 L184.90,487.10 Z" fill="#8763b5" fill-opacity="0.42" stroke="#8763b5" stroke-width="1.2" stroke-linejoin="round"/>
<path d="M190.70,482.60 L195.50,482.60 L193.10,486.60 Z" fill="#8763b5" fill-opacity="0.42" stroke="#8763b5" stroke-width="1.2" stroke-linejoin="round"/>
<path d="M198.40,485.10 L203.20,485.10 L200.80,489.10 Z" fill="#8763b5" fill-opacity="0.42" stroke="#8763b5" stroke-width="1.2" stroke-linejoin="round"/>
<path d="M190.70,490.20 L195.50,490.20 L193.10,494.20 Z" fill="#8763b5" fill-opacity="0.42" stroke="#8763b5" stroke-width="1.2" stroke-linejoin="round"/>
<path d="M182.50,493.30 L187.30,493.30 L184.90,497.30 Z" fill="#8763b5" fill-opacity="0.42" stroke="#8763b5" stroke-width="1.2" stroke-linejoin="round"/>
<path d="M190.70,494.80 L195.50,494.80 L193.10,498.80 Z" fill="#8763b5" fill-opacity="0.42" stroke="#8763b5" stroke-width="1.2" stroke-linejoin="round"/>
<path d="M182.50,500.50 L187.30,500.50 L184.90,504.50 Z" fill="#8763b5" fill-opacity="0.42" stroke="#8763b5" stroke-width="1.2" stroke-linejoin="round"/>
<path d="M190.70,501.50 L195.50,501.50 L193.10,505.50 Z" fill="#8763b5" fill-opacity="0.42" stroke="#8763b5" stroke-width="1.2" stroke-linejoin="round"/>
<path d="M190.70,507.10 L195.50,507.10 L193.10,511.10 Z" fill="#8763b5" fill-opacity="0.42" stroke="#8763b5" stroke-width="1.2" stroke-linejoin="round"/>
<path d="M182.50,513.70 L187.30,513.70 L184.90,517.70 Z" fill="#8763b5" fill-opacity="0.42" stroke="#8763b5" stroke-width="1.2" stroke-linejoin="round"/>
<path d="M198.40,513.20 L203.20,513.20 L200.80,517.20 Z" fill="#8763b5" fill-opacity="0.42" stroke="#8763b5" stroke-width="1.2" stroke-linejoin="round"/>
<rect x="178.70" y="480.70" width="28.00" height="22.40" fill="none" stroke="#8763b5" stroke-width="1.5"/>
<line x1="178.70" y1="492.50" x2="206.70" y2="492.50" stroke="#8763b5" stroke-width="1.5" />
<line x1="192.70" y1="455.20" x2="192.70" y2="480.70" stroke="#8763b5" stroke-width="1.5" />
<line x1="192.70" y1="503.10" x2="192.70" y2="516.20" stroke="#8763b5" stroke-width="1.5" />
<line x1="185.90" y1="455.20" x2="199.50" y2="455.20" stroke="#8763b5" stroke-width="1.5" />
<line x1="185.90" y1="516.20" x2="199.50" y2="516.20" stroke="#8763b5" stroke-width="1.5" />
<line x1="298.90" y1="445.00" x2="298.90" y2="530.40" stroke="#111" stroke-width="1.5" />
<line x1="294.30" y1="529.60" x2="452.10" y2="529.60" stroke="#111" stroke-width="1.5" />
<line x1="294.30" y1="529.60" x2="298.90" y2="529.60" stroke="#111" stroke-width="1.3" />
<text x="291.30" y="533.80" font-size="8.5" text-anchor="end" fill="#111" >0</text>
<line x1="294.30" y1="508.60" x2="298.90" y2="508.60" stroke="#111" stroke-width="1.3" />
<text x="289.30" y="511.90" font-size="8.5" text-anchor="end" fill="#111" >50</text>
<line x1="294.30" y1="487.60" x2="298.90" y2="487.60" stroke="#111" stroke-width="1.3" />
<text x="288.60" y="490.90" font-size="8.5" text-anchor="end" fill="#111" >100</text>
<line x1="294.30" y1="466.80" x2="298.90" y2="466.80" stroke="#111" stroke-width="1.3" />
<text x="288.60" y="470.10" font-size="8.5" text-anchor="end" fill="#111" >150</text>
<line x1="294.30" y1="446.00" x2="298.90" y2="446.00" stroke="#111" stroke-width="1.3" />
<text x="288.60" y="449.30" font-size="8.5" text-anchor="end" fill="#111" >200</text>
<line x1="327.30" y1="529.60" x2="327.30" y2="535.20" stroke="#111" stroke-width="1.3" />
<text x="329.40" y="549.30" font-size="8.3" text-anchor="middle" fill="#111" >HP-L</text>
<line x1="359.30" y1="529.60" x2="359.30" y2="535.20" stroke="#111" stroke-width="1.3" />
<text x="361.40" y="549.30" font-size="8.3" text-anchor="middle" fill="#111" >HP-D</text>
<line x1="391.10" y1="529.60" x2="391.10" y2="535.20" stroke="#111" stroke-width="1.3" />
<text x="393.20" y="549.30" font-size="8.3" text-anchor="middle" fill="#111" >HM-L</text>
<line x1="423.20" y1="529.60" x2="423.20" y2="535.20" stroke="#111" stroke-width="1.3" />
<text x="425.30" y="549.30" font-size="8.3" text-anchor="middle" fill="#111" >HM-D</text>
<text x="259.00" y="486.70" font-size="8.6" text-anchor="middle" fill="#111" transform="rotate(-90 259.00 486.70)">AUC</text>
<text x="268.40" y="486.00" font-size="8.6" text-anchor="middle" fill="#111" transform="rotate(-90 268.40 486.00)">(mg*h/dL)</text>
<text x="341.50" y="418.00" font-size="8.5" fill="#2a2a2a" font-style="italic">P</text>
<text x="349.80" y="418.30" font-size="6.3" fill="#2a2a2a" font-style="italic" textLength="11.4" lengthAdjust="spacingAndGlyphs">type</text>
<text x="363.20" y="418.00" font-size="8.6" fill="#2a2a2a">=</text>
<text x="370.70" y="418.00" font-size="8.7" fill="#2a2a2a">0.870</text>
<text x="341.50" y="427.60" font-size="8.5" fill="#2a2a2a" font-style="italic">P</text>
<text x="349.80" y="427.90" font-size="6.3" fill="#2a2a2a" font-style="italic" textLength="15.8" lengthAdjust="spacingAndGlyphs">timing</text>
<text x="368.30" y="427.60" font-size="8.6" fill="#2a2a2a">=</text>
<text x="375.90" y="427.60" font-size="8.7" fill="#2a2a2a">0.105</text>
<text x="341.50" y="437.20" font-size="8.5" fill="#2a2a2a" font-style="italic">P</text>
<text x="349.80" y="437.50" font-size="6.3" fill="#2a2a2a" font-style="italic" textLength="30.0" lengthAdjust="spacingAndGlyphs">type*timing</text>
<text x="381.30" y="437.20" font-size="8.6" fill="#2a2a2a">=</text>
<text x="386.60" y="437.20" font-size="8.7" fill="#2a2a2a">0.694</text>
<circle cx="324.60" cy="455.71" r="1.95" fill="#e0541f" fill-opacity="0.42" stroke="#e0541f" stroke-width="1.2"/>
<circle cx="329.90" cy="472.73" r="1.95" fill="#e0541f" fill-opacity="0.42" stroke="#e0541f" stroke-width="1.2"/>
<circle cx="324.80" cy="477.84" r="1.95" fill="#e0541f" fill-opacity="0.42" stroke="#e0541f" stroke-width="1.2"/>
<circle cx="329.90" cy="480.14" r="1.95" fill="#e0541f" fill-opacity="0.42" stroke="#e0541f" stroke-width="1.2"/>
<circle cx="334.80" cy="482.14" r="1.95" fill="#e0541f" fill-opacity="0.42" stroke="#e0541f" stroke-width="1.2"/>
<circle cx="314.80" cy="489.15" r="1.95" fill="#e0541f" fill-opacity="0.42" stroke="#e0541f" stroke-width="1.2"/>
<circle cx="319.70" cy="488.35" r="1.95" fill="#e0541f" fill-opacity="0.42" stroke="#e0541f" stroke-width="1.2"/>
<circle cx="324.80" cy="486.55" r="1.95" fill="#e0541f" fill-opacity="0.42" stroke="#e0541f" stroke-width="1.2"/>
<circle cx="329.90" cy="486.55" r="1.95" fill="#e0541f" fill-opacity="0.42" stroke="#e0541f" stroke-width="1.2"/>
<circle cx="324.80" cy="491.15" r="1.95" fill="#e0541f" fill-opacity="0.42" stroke="#e0541f" stroke-width="1.2"/>
<circle cx="329.90" cy="490.95" r="1.95" fill="#e0541f" fill-opacity="0.42" stroke="#e0541f" stroke-width="1.2"/>
<circle cx="334.80" cy="488.35" r="1.95" fill="#e0541f" fill-opacity="0.42" stroke="#e0541f" stroke-width="1.2"/>
<circle cx="339.90" cy="488.65" r="1.95" fill="#e0541f" fill-opacity="0.42" stroke="#e0541f" stroke-width="1.2"/>
<circle cx="324.60" cy="501.37" r="1.95" fill="#e0541f" fill-opacity="0.42" stroke="#e0541f" stroke-width="1.2"/>
<rect x="313.30" y="480.20" width="28.00" height="10.80" fill="none" stroke="#e0541f" stroke-width="1.5"/>
<line x1="313.30" y1="487.50" x2="341.30" y2="487.50" stroke="#e0541f" stroke-width="1.5" />
<line x1="327.30" y1="456.00" x2="327.30" y2="480.20" stroke="#e0541f" stroke-width="1.5" />
<line x1="327.30" y1="491.00" x2="327.30" y2="501.20" stroke="#e0541f" stroke-width="1.5" />
<line x1="320.50" y1="456.00" x2="334.10" y2="456.00" stroke="#e0541f" stroke-width="1.5" />
<line x1="320.50" y1="501.20" x2="334.10" y2="501.20" stroke="#e0541f" stroke-width="1.5" />
<rect x="365.25" y="469.28" width="3.9" height="3.9" fill="#f2c443" fill-opacity="0.42" stroke="#f2c443" stroke-width="1.2"/>
<rect x="365.25" y="471.28" width="3.9" height="3.9" fill="#f2c443" fill-opacity="0.42" stroke="#f2c443" stroke-width="1.2"/>
<rect x="350.75" y="474.89" width="3.9" height="3.9" fill="#f2c443" fill-opacity="0.42" stroke="#f2c443" stroke-width="1.2"/>
<rect x="354.95" y="474.89" width="3.9" height="3.9" fill="#f2c443" fill-opacity="0.42" stroke="#f2c443" stroke-width="1.2"/>
<rect x="365.25" y="475.09" width="3.9" height="3.9" fill="#f2c443" fill-opacity="0.42" stroke="#f2c443" stroke-width="1.2"/>
<rect x="345.85" y="478.49" width="3.9" height="3.9" fill="#f2c443" fill-opacity="0.42" stroke="#f2c443" stroke-width="1.2"/>
<rect x="365.25" y="478.49" width="3.9" height="3.9" fill="#f2c443" fill-opacity="0.42" stroke="#f2c443" stroke-width="1.2"/>
<rect x="369.35" y="478.99" width="3.9" height="3.9" fill="#f2c443" fill-opacity="0.42" stroke="#f2c443" stroke-width="1.2"/>
<rect x="345.85" y="484.10" width="3.9" height="3.9" fill="#f2c443" fill-opacity="0.42" stroke="#f2c443" stroke-width="1.2"/>
<rect x="350.95" y="484.10" width="3.9" height="3.9" fill="#f2c443" fill-opacity="0.42" stroke="#f2c443" stroke-width="1.2"/>
<rect x="360.15" y="484.10" width="3.9" height="3.9" fill="#f2c443" fill-opacity="0.42" stroke="#f2c443" stroke-width="1.2"/>
<rect x="365.25" y="485.10" width="3.9" height="3.9" fill="#f2c443" fill-opacity="0.42" stroke="#f2c443" stroke-width="1.2"/>
<rect x="370.35" y="484.10" width="3.9" height="3.9" fill="#f2c443" fill-opacity="0.42" stroke="#f2c443" stroke-width="1.2"/>
<rect x="365.25" y="486.70" width="3.9" height="3.9" fill="#f2c443" fill-opacity="0.42" stroke="#f2c443" stroke-width="1.2"/>
<rect x="345.30" y="477.00" width="28.00" height="10.00" fill="none" stroke="#f2c443" stroke-width="1.5"/>
<line x1="345.30" y1="482.30" x2="373.30" y2="482.30" stroke="#f2c443" stroke-width="1.5" />
<line x1="359.30" y1="471.80" x2="359.30" y2="477.00" stroke="#f2c443" stroke-width="1.5" />
<line x1="359.30" y1="487.00" x2="359.30" y2="487.50" stroke="#f2c443" stroke-width="1.5" />
<line x1="352.50" y1="471.80" x2="366.10" y2="471.80" stroke="#f2c443" stroke-width="1.5" />
<line x1="352.50" y1="487.50" x2="366.10" y2="487.50" stroke="#f2c443" stroke-width="1.5" />
<path d="M388.70,473.43 L393.50,473.43 L391.10,469.43 Z" fill="#27ad98" fill-opacity="0.42" stroke="#27ad98" stroke-width="1.2" stroke-linejoin="round"/>
<path d="M378.90,482.24 L383.70,482.24 L381.30,478.24 Z" fill="#27ad98" fill-opacity="0.42" stroke="#27ad98" stroke-width="1.2" stroke-linejoin="round"/>
<path d="M385.20,482.24 L390.00,482.24 L387.60,478.24 Z" fill="#27ad98" fill-opacity="0.42" stroke="#27ad98" stroke-width="1.2" stroke-linejoin="round"/>
<path d="M394.80,482.24 L399.60,482.24 L397.20,478.24 Z" fill="#27ad98" fill-opacity="0.42" stroke="#27ad98" stroke-width="1.2" stroke-linejoin="round"/>
<path d="M398.00,482.24 L402.80,482.24 L400.40,478.24 Z" fill="#27ad98" fill-opacity="0.42" stroke="#27ad98" stroke-width="1.2" stroke-linejoin="round"/>
<path d="M377.80,486.05 L382.60,486.05 L380.20,482.05 Z" fill="#27ad98" fill-opacity="0.42" stroke="#27ad98" stroke-width="1.2" stroke-linejoin="round"/>
<path d="M381.80,486.05 L386.60,486.05 L384.20,482.05 Z" fill="#27ad98" fill-opacity="0.42" stroke="#27ad98" stroke-width="1.2" stroke-linejoin="round"/>
<path d="M388.50,486.05 L393.30,486.05 L390.90,482.05 Z" fill="#27ad98" fill-opacity="0.42" stroke="#27ad98" stroke-width="1.2" stroke-linejoin="round"/>
<path d="M393.90,486.05 L398.70,486.05 L396.30,482.05 Z" fill="#27ad98" fill-opacity="0.42" stroke="#27ad98" stroke-width="1.2" stroke-linejoin="round"/>
<path d="M397.70,486.05 L402.50,486.05 L400.10,482.05 Z" fill="#27ad98" fill-opacity="0.42" stroke="#27ad98" stroke-width="1.2" stroke-linejoin="round"/>
<path d="M400.90,486.05 L405.70,486.05 L403.30,482.05 Z" fill="#27ad98" fill-opacity="0.42" stroke="#27ad98" stroke-width="1.2" stroke-linejoin="round"/>
<path d="M378.20,489.95 L383.00,489.95 L380.60,485.95 Z" fill="#27ad98" fill-opacity="0.42" stroke="#27ad98" stroke-width="1.2" stroke-linejoin="round"/>
<path d="M382.50,489.95 L387.30,489.95 L384.90,485.95 Z" fill="#27ad98" fill-opacity="0.42" stroke="#27ad98" stroke-width="1.2" stroke-linejoin="round"/>
<path d="M387.40,489.95 L392.20,489.95 L389.80,485.95 Z" fill="#27ad98" fill-opacity="0.42" stroke="#27ad98" stroke-width="1.2" stroke-linejoin="round"/>
<path d="M391.10,489.95 L395.90,489.95 L393.50,485.95 Z" fill="#27ad98" fill-opacity="0.42" stroke="#27ad98" stroke-width="1.2" stroke-linejoin="round"/>
<path d="M396.00,489.95 L400.80,489.95 L398.40,485.95 Z" fill="#27ad98" fill-opacity="0.42" stroke="#27ad98" stroke-width="1.2" stroke-linejoin="round"/>
<path d="M391.50,492.15 L396.30,492.15 L393.90,488.15 Z" fill="#27ad98" fill-opacity="0.42" stroke="#27ad98" stroke-width="1.2" stroke-linejoin="round"/>
<rect x="377.10" y="482.80" width="28.00" height="4.70" fill="none" stroke="#27ad98" stroke-width="1.5"/>
<line x1="377.10" y1="484.40" x2="405.10" y2="484.40" stroke="#27ad98" stroke-width="1.5" />
<line x1="391.10" y1="471.80" x2="391.10" y2="482.80" stroke="#27ad98" stroke-width="1.5" />
<line x1="391.10" y1="487.50" x2="391.10" y2="490.20" stroke="#27ad98" stroke-width="1.5" />
<line x1="384.30" y1="471.80" x2="397.90" y2="471.80" stroke="#27ad98" stroke-width="1.5" />
<line x1="384.30" y1="490.20" x2="397.90" y2="490.20" stroke="#27ad98" stroke-width="1.5" />
<path d="M420.20,452.60 L425.00,452.60 L422.60,456.60 Z" fill="#8763b5" fill-opacity="0.42" stroke="#8763b5" stroke-width="1.2" stroke-linejoin="round"/>
<path d="M426.30,470.60 L431.10,470.60 L428.70,474.60 Z" fill="#8763b5" fill-opacity="0.42" stroke="#8763b5" stroke-width="1.2" stroke-linejoin="round"/>
<path d="M414.10,472.60 L418.90,472.60 L416.50,476.60 Z" fill="#8763b5" fill-opacity="0.42" stroke="#8763b5" stroke-width="1.2" stroke-linejoin="round"/>
<path d="M432.40,473.30 L437.20,473.30 L434.80,477.30 Z" fill="#8763b5" fill-opacity="0.42" stroke="#8763b5" stroke-width="1.2" stroke-linejoin="round"/>
<path d="M420.20,475.40 L425.00,475.40 L422.60,479.40 Z" fill="#8763b5" fill-opacity="0.42" stroke="#8763b5" stroke-width="1.2" stroke-linejoin="round"/>
<path d="M414.10,477.90 L418.90,477.90 L416.50,481.90 Z" fill="#8763b5" fill-opacity="0.42" stroke="#8763b5" stroke-width="1.2" stroke-linejoin="round"/>
<path d="M426.30,477.90 L431.10,477.90 L428.70,481.90 Z" fill="#8763b5" fill-opacity="0.42" stroke="#8763b5" stroke-width="1.2" stroke-linejoin="round"/>
<path d="M420.20,480.80 L425.00,480.80 L422.60,484.80 Z" fill="#8763b5" fill-opacity="0.42" stroke="#8763b5" stroke-width="1.2" stroke-linejoin="round"/>
<path d="M426.30,480.80 L431.10,480.80 L428.70,484.80 Z" fill="#8763b5" fill-opacity="0.42" stroke="#8763b5" stroke-width="1.2" stroke-linejoin="round"/>
<path d="M414.10,483.60 L418.90,483.60 L416.50,487.60 Z" fill="#8763b5" fill-opacity="0.42" stroke="#8763b5" stroke-width="1.2" stroke-linejoin="round"/>
<path d="M432.40,483.00 L437.20,483.00 L434.80,487.00 Z" fill="#8763b5" fill-opacity="0.42" stroke="#8763b5" stroke-width="1.2" stroke-linejoin="round"/>
<path d="M420.20,486.60 L425.00,486.60 L422.60,490.60 Z" fill="#8763b5" fill-opacity="0.42" stroke="#8763b5" stroke-width="1.2" stroke-linejoin="round"/>
<path d="M426.30,486.10 L431.10,486.10 L428.70,490.10 Z" fill="#8763b5" fill-opacity="0.42" stroke="#8763b5" stroke-width="1.2" stroke-linejoin="round"/>
<path d="M407.90,488.70 L412.70,488.70 L410.30,492.70 Z" fill="#8763b5" fill-opacity="0.42" stroke="#8763b5" stroke-width="1.2" stroke-linejoin="round"/>
<path d="M432.40,489.70 L437.20,489.70 L434.80,493.70 Z" fill="#8763b5" fill-opacity="0.42" stroke="#8763b5" stroke-width="1.2" stroke-linejoin="round"/>
<rect x="409.20" y="475.70" width="28.00" height="11.30" fill="none" stroke="#8763b5" stroke-width="1.5"/>
<line x1="409.20" y1="482.30" x2="437.20" y2="482.30" stroke="#8763b5" stroke-width="1.5" />
<line x1="423.20" y1="454.70" x2="423.20" y2="475.70" stroke="#8763b5" stroke-width="1.5" />
<line x1="423.20" y1="487.00" x2="423.20" y2="492.00" stroke="#8763b5" stroke-width="1.5" />
<line x1="416.40" y1="454.70" x2="430.00" y2="454.70" stroke="#8763b5" stroke-width="1.5" />
<line x1="416.40" y1="492.00" x2="430.00" y2="492.00" stroke="#8763b5" stroke-width="1.5" />
<line x1="525.20" y1="445.00" x2="525.20" y2="529.60" stroke="#111" stroke-width="1.5" />
<line x1="520.60" y1="528.80" x2="678.40" y2="528.80" stroke="#111" stroke-width="1.5" />
<line x1="520.60" y1="528.80" x2="525.20" y2="528.80" stroke="#111" stroke-width="1.3" />
<text x="517.60" y="533.00" font-size="8.5" text-anchor="end" fill="#111" >0</text>
<line x1="520.60" y1="504.60" x2="525.20" y2="504.60" stroke="#111" stroke-width="1.3" />
<text x="515.60" y="507.90" font-size="8.5" text-anchor="end" fill="#111" >50</text>
<line x1="520.60" y1="479.70" x2="525.20" y2="479.70" stroke="#111" stroke-width="1.3" />
<text x="514.90" y="483.00" font-size="8.5" text-anchor="end" fill="#111" >100</text>
<line x1="520.60" y1="454.70" x2="525.20" y2="454.70" stroke="#111" stroke-width="1.3" />
<text x="514.90" y="458.00" font-size="8.5" text-anchor="end" fill="#111" >150</text>
<line x1="553.60" y1="528.80" x2="553.60" y2="534.40" stroke="#111" stroke-width="1.3" />
<text x="556.50" y="549.30" font-size="8.3" text-anchor="middle" fill="#111" >HP-L</text>
<line x1="585.70" y1="528.80" x2="585.70" y2="534.40" stroke="#111" stroke-width="1.3" />
<text x="588.60" y="549.30" font-size="8.3" text-anchor="middle" fill="#111" >HP-D</text>
<line x1="617.50" y1="528.80" x2="617.50" y2="534.40" stroke="#111" stroke-width="1.3" />
<text x="620.40" y="549.30" font-size="8.3" text-anchor="middle" fill="#111" >HM-L</text>
<line x1="649.00" y1="528.80" x2="649.00" y2="534.40" stroke="#111" stroke-width="1.3" />
<text x="651.90" y="549.30" font-size="8.3" text-anchor="middle" fill="#111" >HM-D</text>
<text x="486.50" y="484.50" font-size="8.6" text-anchor="middle" fill="#111" transform="rotate(-90 486.50 484.50)">AUC-sleep</text>
<text x="496.00" y="484.30" font-size="8.6" text-anchor="middle" fill="#111" transform="rotate(-90 496.00 484.30)">(mg*h/dL)</text>
<text x="555.30" y="416.50" font-size="8.5" fill="#2a2a2a" font-style="italic">P</text>
<text x="563.60" y="416.80" font-size="6.3" fill="#2a2a2a" font-style="italic" textLength="11.4" lengthAdjust="spacingAndGlyphs">type</text>
<text x="577.00" y="416.50" font-size="8.6" fill="#2a2a2a">=</text>
<text x="584.50" y="416.50" font-size="8.7" fill="#2a2a2a">0.216</text>
<text x="555.30" y="426.10" font-size="8.5" fill="#2a2a2a" font-style="italic">P</text>
<text x="563.60" y="426.40" font-size="6.3" fill="#2a2a2a" font-style="italic" textLength="15.8" lengthAdjust="spacingAndGlyphs">timing</text>
<text x="582.10" y="426.10" font-size="8.6" fill="#2a2a2a">=</text>
<text x="589.70" y="426.10" font-size="8.7" fill="#2a2a2a">0.072</text>
<text x="555.30" y="435.70" font-size="8.5" fill="#2a2a2a" font-style="italic">P</text>
<text x="563.60" y="436.00" font-size="6.3" fill="#2a2a2a" font-style="italic" textLength="30.0" lengthAdjust="spacingAndGlyphs">type*timing</text>
<text x="595.10" y="435.70" font-size="8.6" fill="#2a2a2a">=</text>
<text x="600.40" y="435.70" font-size="8.7" fill="#2a2a2a">0.974</text>
<circle cx="553.60" cy="453.70" r="1.95" fill="#e0541f" fill-opacity="0.42" stroke="#e0541f" stroke-width="1.2"/>
<circle cx="547.30" cy="477.50" r="1.95" fill="#e0541f" fill-opacity="0.42" stroke="#e0541f" stroke-width="1.2"/>
<circle cx="553.60" cy="477.50" r="1.95" fill="#e0541f" fill-opacity="0.42" stroke="#e0541f" stroke-width="1.2"/>
<circle cx="560.00" cy="480.80" r="1.95" fill="#e0541f" fill-opacity="0.42" stroke="#e0541f" stroke-width="1.2"/>
<circle cx="541.30" cy="485.90" r="1.95" fill="#e0541f" fill-opacity="0.42" stroke="#e0541f" stroke-width="1.2"/>
<circle cx="553.60" cy="486.70" r="1.95" fill="#e0541f" fill-opacity="0.42" stroke="#e0541f" stroke-width="1.2"/>
<circle cx="560.00" cy="485.10" r="1.95" fill="#e0541f" fill-opacity="0.42" stroke="#e0541f" stroke-width="1.2"/>
<circle cx="566.20" cy="487.90" r="1.95" fill="#e0541f" fill-opacity="0.42" stroke="#e0541f" stroke-width="1.2"/>
<circle cx="541.30" cy="491.00" r="1.95" fill="#e0541f" fill-opacity="0.42" stroke="#e0541f" stroke-width="1.2"/>
<circle cx="560.00" cy="490.50" r="1.95" fill="#e0541f" fill-opacity="0.42" stroke="#e0541f" stroke-width="1.2"/>
<circle cx="566.20" cy="492.20" r="1.95" fill="#e0541f" fill-opacity="0.42" stroke="#e0541f" stroke-width="1.2"/>
<circle cx="553.60" cy="493.80" r="1.95" fill="#e0541f" fill-opacity="0.42" stroke="#e0541f" stroke-width="1.2"/>
<circle cx="553.60" cy="501.00" r="1.95" fill="#e0541f" fill-opacity="0.42" stroke="#e0541f" stroke-width="1.2"/>
<rect x="539.60" y="481.00" width="28.00" height="10.50" fill="none" stroke="#e0541f" stroke-width="1.5"/>
<line x1="539.60" y1="487.50" x2="567.60" y2="487.50" stroke="#e0541f" stroke-width="1.5" />
<line x1="553.60" y1="453.90" x2="553.60" y2="481.00" stroke="#e0541f" stroke-width="1.5" />
<line x1="553.60" y1="491.50" x2="553.60" y2="501.20" stroke="#e0541f" stroke-width="1.5" />
<line x1="546.80" y1="453.90" x2="560.40" y2="453.90" stroke="#e0541f" stroke-width="1.5" />
<line x1="546.80" y1="501.20" x2="560.40" y2="501.20" stroke="#e0541f" stroke-width="1.5" />
<rect x="577.15" y="468.05" width="3.9" height="3.9" fill="#f2c443" fill-opacity="0.42" stroke="#f2c443" stroke-width="1.2"/>
<rect x="583.15" y="473.75" width="3.9" height="3.9" fill="#f2c443" fill-opacity="0.42" stroke="#f2c443" stroke-width="1.2"/>
<rect x="589.75" y="473.75" width="3.9" height="3.9" fill="#f2c443" fill-opacity="0.42" stroke="#f2c443" stroke-width="1.2"/>
<rect x="595.85" y="473.75" width="3.9" height="3.9" fill="#f2c443" fill-opacity="0.42" stroke="#f2c443" stroke-width="1.2"/>
<rect x="571.35" y="477.75" width="3.9" height="3.9" fill="#f2c443" fill-opacity="0.42" stroke="#f2c443" stroke-width="1.2"/>
<rect x="577.15" y="477.75" width="3.9" height="3.9" fill="#f2c443" fill-opacity="0.42" stroke="#f2c443" stroke-width="1.2"/>
<rect x="583.15" y="477.75" width="3.9" height="3.9" fill="#f2c443" fill-opacity="0.42" stroke="#f2c443" stroke-width="1.2"/>
<rect x="589.75" y="477.25" width="3.9" height="3.9" fill="#f2c443" fill-opacity="0.42" stroke="#f2c443" stroke-width="1.2"/>
<rect x="595.85" y="478.35" width="3.9" height="3.9" fill="#f2c443" fill-opacity="0.42" stroke="#f2c443" stroke-width="1.2"/>
<rect x="571.35" y="484.95" width="3.9" height="3.9" fill="#f2c443" fill-opacity="0.42" stroke="#f2c443" stroke-width="1.2"/>
<rect x="583.15" y="482.95" width="3.9" height="3.9" fill="#f2c443" fill-opacity="0.42" stroke="#f2c443" stroke-width="1.2"/>
<rect x="589.75" y="482.35" width="3.9" height="3.9" fill="#f2c443" fill-opacity="0.42" stroke="#f2c443" stroke-width="1.2"/>
<rect x="595.85" y="484.95" width="3.9" height="3.9" fill="#f2c443" fill-opacity="0.42" stroke="#f2c443" stroke-width="1.2"/>
<rect x="583.15" y="484.95" width="3.9" height="3.9" fill="#f2c443" fill-opacity="0.42" stroke="#f2c443" stroke-width="1.2"/>
<rect x="571.70" y="474.40" width="28.00" height="11.80" fill="none" stroke="#f2c443" stroke-width="1.5"/>
<line x1="571.70" y1="479.70" x2="599.70" y2="479.70" stroke="#f2c443" stroke-width="1.5" />
<line x1="585.70" y1="470.50" x2="585.70" y2="474.40" stroke="#f2c443" stroke-width="1.5" />
<line x1="585.70" y1="486.20" x2="585.70" y2="487.50" stroke="#f2c443" stroke-width="1.5" />
<line x1="578.90" y1="470.50" x2="592.50" y2="470.50" stroke="#f2c443" stroke-width="1.5" />
<line x1="578.90" y1="487.50" x2="592.50" y2="487.50" stroke="#f2c443" stroke-width="1.5" />
<path d="M612.90,460.60 L617.70,460.60 L615.30,456.60 Z" fill="#27ad98" fill-opacity="0.42" stroke="#27ad98" stroke-width="1.2" stroke-linejoin="round"/>
<path d="M609.90,480.50 L614.70,480.50 L612.30,476.50 Z" fill="#27ad98" fill-opacity="0.42" stroke="#27ad98" stroke-width="1.2" stroke-linejoin="round"/>
<path d="M620.10,478.00 L624.90,478.00 L622.50,474.00 Z" fill="#27ad98" fill-opacity="0.42" stroke="#27ad98" stroke-width="1.2" stroke-linejoin="round"/>
<path d="M627.20,480.50 L632.00,480.50 L629.60,476.50 Z" fill="#27ad98" fill-opacity="0.42" stroke="#27ad98" stroke-width="1.2" stroke-linejoin="round"/>
<path d="M602.60,483.70 L607.40,483.70 L605.00,479.70 Z" fill="#27ad98" fill-opacity="0.42" stroke="#27ad98" stroke-width="1.2" stroke-linejoin="round"/>
<path d="M608.60,483.70 L613.40,483.70 L611.00,479.70 Z" fill="#27ad98" fill-opacity="0.42" stroke="#27ad98" stroke-width="1.2" stroke-linejoin="round"/>
<path d="M614.60,483.70 L619.40,483.70 L617.00,479.70 Z" fill="#27ad98" fill-opacity="0.42" stroke="#27ad98" stroke-width="1.2" stroke-linejoin="round"/>
<path d="M620.60,483.70 L625.40,483.70 L623.00,479.70 Z" fill="#27ad98" fill-opacity="0.42" stroke="#27ad98" stroke-width="1.2" stroke-linejoin="round"/>
<path d="M626.60,483.70 L631.40,483.70 L629.00,479.70 Z" fill="#27ad98" fill-opacity="0.42" stroke="#27ad98" stroke-width="1.2" stroke-linejoin="round"/>
<path d="M605.60,486.70 L610.40,486.70 L608.00,482.70 Z" fill="#27ad98" fill-opacity="0.42" stroke="#27ad98" stroke-width="1.2" stroke-linejoin="round"/>
<path d="M611.60,486.70 L616.40,486.70 L614.00,482.70 Z" fill="#27ad98" fill-opacity="0.42" stroke="#27ad98" stroke-width="1.2" stroke-linejoin="round"/>
<path d="M617.60,486.70 L622.40,486.70 L620.00,482.70 Z" fill="#27ad98" fill-opacity="0.42" stroke="#27ad98" stroke-width="1.2" stroke-linejoin="round"/>
<path d="M623.60,486.70 L628.40,486.70 L626.00,482.70 Z" fill="#27ad98" fill-opacity="0.42" stroke="#27ad98" stroke-width="1.2" stroke-linejoin="round"/>
<path d="M614.60,490.70 L619.40,490.70 L617.00,486.70 Z" fill="#27ad98" fill-opacity="0.42" stroke="#27ad98" stroke-width="1.2" stroke-linejoin="round"/>
<rect x="603.50" y="480.20" width="28.00" height="6.00" fill="none" stroke="#27ad98" stroke-width="1.5"/>
<line x1="603.50" y1="483.60" x2="631.50" y2="483.60" stroke="#27ad98" stroke-width="1.5" />
<line x1="617.50" y1="460.00" x2="617.50" y2="480.20" stroke="#27ad98" stroke-width="1.5" />
<line x1="617.50" y1="486.20" x2="617.50" y2="491.50" stroke="#27ad98" stroke-width="1.5" />
<line x1="610.70" y1="460.00" x2="624.30" y2="460.00" stroke="#27ad98" stroke-width="1.5" />
<line x1="610.70" y1="491.50" x2="624.30" y2="491.50" stroke="#27ad98" stroke-width="1.5" />
<path d="M650.70,442.40 L655.50,442.40 L653.10,446.40 Z" fill="#8763b5" fill-opacity="0.42" stroke="#8763b5" stroke-width="1.2" stroke-linejoin="round"/>
<path d="M633.90,470.80 L638.70,470.80 L636.30,474.80 Z" fill="#8763b5" fill-opacity="0.42" stroke="#8763b5" stroke-width="1.2" stroke-linejoin="round"/>
<path d="M650.70,470.80 L655.50,470.80 L653.10,474.80 Z" fill="#8763b5" fill-opacity="0.42" stroke="#8763b5" stroke-width="1.2" stroke-linejoin="round"/>
<path d="M658.90,471.20 L663.70,471.20 L661.30,475.20 Z" fill="#8763b5" fill-opacity="0.42" stroke="#8763b5" stroke-width="1.2" stroke-linejoin="round"/>
<path d="M642.10,474.10 L646.90,474.10 L644.50,478.10 Z" fill="#8763b5" fill-opacity="0.42" stroke="#8763b5" stroke-width="1.2" stroke-linejoin="round"/>
<path d="M634.90,474.60 L639.70,474.60 L637.30,478.60 Z" fill="#8763b5" fill-opacity="0.42" stroke="#8763b5" stroke-width="1.2" stroke-linejoin="round"/>
<path d="M650.70,476.90 L655.50,476.90 L653.10,480.90 Z" fill="#8763b5" fill-opacity="0.42" stroke="#8763b5" stroke-width="1.2" stroke-linejoin="round"/>
<path d="M658.90,475.10 L663.70,475.10 L661.30,479.10 Z" fill="#8763b5" fill-opacity="0.42" stroke="#8763b5" stroke-width="1.2" stroke-linejoin="round"/>
<path d="M642.60,479.70 L647.40,479.70 L645.00,483.70 Z" fill="#8763b5" fill-opacity="0.42" stroke="#8763b5" stroke-width="1.2" stroke-linejoin="round"/>
<path d="M650.70,480.70 L655.50,480.70 L653.10,484.70 Z" fill="#8763b5" fill-opacity="0.42" stroke="#8763b5" stroke-width="1.2" stroke-linejoin="round"/>
<path d="M634.90,481.70 L639.70,481.70 L637.30,485.70 Z" fill="#8763b5" fill-opacity="0.42" stroke="#8763b5" stroke-width="1.2" stroke-linejoin="round"/>
<path d="M658.90,483.30 L663.70,483.30 L661.30,487.30 Z" fill="#8763b5" fill-opacity="0.42" stroke="#8763b5" stroke-width="1.2" stroke-linejoin="round"/>
<path d="M650.70,484.30 L655.50,484.30 L653.10,488.30 Z" fill="#8763b5" fill-opacity="0.42" stroke="#8763b5" stroke-width="1.2" stroke-linejoin="round"/>
<path d="M642.10,489.90 L646.90,489.90 L644.50,493.90 Z" fill="#8763b5" fill-opacity="0.42" stroke="#8763b5" stroke-width="1.2" stroke-linejoin="round"/>
<rect x="635.00" y="473.90" width="28.00" height="9.70" fill="none" stroke="#8763b5" stroke-width="1.5"/>
<line x1="635.00" y1="477.00" x2="663.00" y2="477.00" stroke="#8763b5" stroke-width="1.5" />
<line x1="649.00" y1="445.00" x2="649.00" y2="473.90" stroke="#8763b5" stroke-width="1.5" />
<line x1="649.00" y1="483.60" x2="649.00" y2="491.50" stroke="#8763b5" stroke-width="1.5" />
<line x1="642.20" y1="445.00" x2="655.80" y2="445.00" stroke="#8763b5" stroke-width="1.5" />
<line x1="642.20" y1="491.50" x2="655.80" y2="491.50" stroke="#8763b5" stroke-width="1.5" />
<rect x="59.3" y="603.1" width="77.6" height="193.9" fill="#f6eeee"/>
<rect x="141.5" y="603.1" width="77.6" height="193.9" fill="#f3f3f3"/>
<rect x="60.10" y="603.80" width="17.90" height="14.60" fill="#f0ebc0" />
<rect x="142.30" y="603.80" width="17.90" height="14.60" fill="#e3eddc" />
<rect x="79.50" y="603.80" width="17.90" height="14.60" fill="#9dc6d8" />
<rect x="161.70" y="603.80" width="17.90" height="14.60" fill="#ea9d5f" />
<rect x="98.90" y="603.80" width="17.90" height="14.60" fill="#dcebf0" />
<rect x="181.10" y="603.80" width="17.90" height="14.60" fill="#3f64a2" />
<rect x="118.30" y="603.80" width="17.90" height="14.60" fill="#cc4a2f" />
<rect x="200.50" y="603.80" width="17.90" height="14.60" fill="#ea9d5f" />
<text x="24.80" y="614.70" font-size="8.8" text-anchor="start" fill="#111" textLength="21.8" lengthAdjust="spacingAndGlyphs">C14:0</text>
<rect x="60.10" y="619.97" width="17.90" height="14.60" fill="#e8915a" />
<rect x="142.30" y="619.97" width="17.90" height="14.60" fill="#6a9bc0" />
<rect x="79.50" y="619.97" width="17.90" height="14.60" fill="#f0ebb8" />
<rect x="161.70" y="619.97" width="17.90" height="14.60" fill="#f0edbe" />
<rect x="98.90" y="619.97" width="17.90" height="14.60" fill="#ecb474" />
<rect x="181.10" y="619.97" width="17.90" height="14.60" fill="#5886b5" />
<rect x="118.30" y="619.97" width="17.90" height="14.60" fill="#c9402a" />
<rect x="200.50" y="619.97" width="17.90" height="14.60" fill="#ddebf0" />
<text x="24.80" y="630.87" font-size="8.8" text-anchor="start" fill="#111" textLength="21.8" lengthAdjust="spacingAndGlyphs">C16:0</text>
<rect x="60.10" y="636.14" width="17.90" height="14.60" fill="#e47a4b" />
<rect x="142.30" y="636.14" width="17.90" height="14.60" fill="#6497be" />
<rect x="79.50" y="636.14" width="17.90" height="14.60" fill="#f0d692" />
<rect x="161.70" y="636.14" width="17.90" height="14.60" fill="#dbeaf1" />
<rect x="98.90" y="636.14" width="17.90" height="14.60" fill="#ebb070" />
<rect x="181.10" y="636.14" width="17.90" height="14.60" fill="#5f91bc" />
<rect x="118.30" y="636.14" width="17.90" height="14.60" fill="#cc4c33" />
<rect x="200.50" y="636.14" width="17.90" height="14.60" fill="#deebf0" />
<text x="24.80" y="647.04" font-size="8.8" text-anchor="start" fill="#111" textLength="21.8" lengthAdjust="spacingAndGlyphs">C18:0</text>
<rect x="60.10" y="652.31" width="17.90" height="14.60" fill="#eaa665" />
<rect x="142.30" y="652.31" width="17.90" height="14.60" fill="#74a4c6" />
<rect x="79.50" y="652.31" width="17.90" height="14.60" fill="#e6864f" />
<rect x="161.70" y="652.31" width="17.90" height="14.60" fill="#eeefc6" />
<rect x="98.90" y="652.31" width="17.90" height="14.60" fill="#f0ebb8" />
<rect x="181.10" y="652.31" width="17.90" height="14.60" fill="#4f7eb2" />
<rect x="118.30" y="652.31" width="17.90" height="14.60" fill="#cb4a30" />
<rect x="200.50" y="652.31" width="17.90" height="14.60" fill="#d2e5ee" />
<text x="24.80" y="663.21" font-size="8.8" text-anchor="start" fill="#111" textLength="21.8" lengthAdjust="spacingAndGlyphs">C16:1</text>
<rect x="60.10" y="668.48" width="17.90" height="14.60" fill="#ebae6d" />
<rect x="142.30" y="668.48" width="17.90" height="14.60" fill="#a3cada" />
<rect x="79.50" y="668.48" width="17.90" height="14.60" fill="#e0703e" />
<rect x="161.70" y="668.48" width="17.90" height="14.60" fill="#f0edb9" />
<rect x="98.90" y="668.48" width="17.90" height="14.60" fill="#f1da98" />
<rect x="181.10" y="668.48" width="17.90" height="14.60" fill="#5f92bd" />
<rect x="118.30" y="668.48" width="17.90" height="14.60" fill="#dc6440" />
<rect x="200.50" y="668.48" width="17.90" height="14.60" fill="#6c9cc1" />
<text x="24.80" y="679.38" font-size="8.8" text-anchor="start" fill="#111" textLength="21.8" lengthAdjust="spacingAndGlyphs">C18:1</text>
<rect x="60.10" y="684.65" width="17.90" height="14.60" fill="#f0cf8a" />
<rect x="142.30" y="684.65" width="17.90" height="14.60" fill="#93bfd5" />
<rect x="79.50" y="684.65" width="17.90" height="14.60" fill="#e9a060" />
<rect x="161.70" y="684.65" width="17.90" height="14.60" fill="#f0d892" />
<rect x="98.90" y="684.65" width="17.90" height="14.60" fill="#f0ebb8" />
<rect x="181.10" y="684.65" width="17.90" height="14.60" fill="#88b5cf" />
<rect x="118.30" y="684.65" width="17.90" height="14.60" fill="#c2312a" />
<rect x="200.50" y="684.65" width="17.90" height="14.60" fill="#5f91bc" />
<text x="24.80" y="695.55" font-size="8.8" text-anchor="start" fill="#111" textLength="21.8" lengthAdjust="spacingAndGlyphs">C18:2</text>
<rect x="60.10" y="700.82" width="17.90" height="14.60" fill="#eaedd0" />
<rect x="142.30" y="700.82" width="17.90" height="14.60" fill="#e38a52" />
<rect x="79.50" y="700.82" width="17.90" height="14.60" fill="#edba7a" />
<rect x="161.70" y="700.82" width="17.90" height="14.60" fill="#b52528" />
<rect x="98.90" y="700.82" width="17.90" height="14.60" fill="#6fa5c6" />
<rect x="181.10" y="700.82" width="17.90" height="14.60" fill="#93bfd5" />
<rect x="118.30" y="700.82" width="17.90" height="14.60" fill="#93bfd5" />
<rect x="200.50" y="700.82" width="17.90" height="14.60" fill="#e0ece8" />
<text x="24.80" y="711.72" font-size="8.8" text-anchor="start" fill="#111" textLength="26.2" lengthAdjust="spacingAndGlyphs">C18:3γ</text>
<rect x="60.10" y="716.99" width="17.90" height="14.60" fill="#f0ebb6" />
<rect x="142.30" y="716.99" width="17.90" height="14.60" fill="#a9cfdd" />
<rect x="79.50" y="716.99" width="17.90" height="14.60" fill="#f0ebb6" />
<rect x="161.70" y="716.99" width="17.90" height="14.60" fill="#cd4530" />
<rect x="98.90" y="716.99" width="17.90" height="14.60" fill="#e5edd8" />
<rect x="181.10" y="716.99" width="17.90" height="14.60" fill="#6a9bc0" />
<rect x="118.30" y="716.99" width="17.90" height="14.60" fill="#ce4d30" />
<rect x="200.50" y="716.99" width="17.90" height="14.60" fill="#90bdd4" />
<text x="24.80" y="727.89" font-size="8.8" text-anchor="start" fill="#111" textLength="21.8" lengthAdjust="spacingAndGlyphs">C20:3</text>
<rect x="60.10" y="733.16" width="17.90" height="14.60" fill="#f0d692" />
<rect x="142.30" y="733.16" width="17.90" height="14.60" fill="#76a6c8" />
<rect x="79.50" y="733.16" width="17.90" height="14.60" fill="#e07648" />
<rect x="161.70" y="733.16" width="17.90" height="14.60" fill="#edbd7c" />
<rect x="98.90" y="733.16" width="17.90" height="14.60" fill="#f0d692" />
<rect x="181.10" y="733.16" width="17.90" height="14.60" fill="#6d9dc2" />
<rect x="118.30" y="733.16" width="17.90" height="14.60" fill="#d2553a" />
<rect x="200.50" y="733.16" width="17.90" height="14.60" fill="#6a9bc0" />
<text x="24.80" y="744.06" font-size="8.8" text-anchor="start" fill="#111" textLength="21.8" lengthAdjust="spacingAndGlyphs">C20:4</text>
<rect x="60.10" y="749.33" width="17.90" height="14.60" fill="#f0de9c" />
<rect x="142.30" y="749.33" width="17.90" height="14.60" fill="#75a5c7" />
<rect x="79.50" y="749.33" width="17.90" height="14.60" fill="#e06e42" />
<rect x="161.70" y="749.33" width="17.90" height="14.60" fill="#f0edbe" />
<rect x="98.90" y="749.33" width="17.90" height="14.60" fill="#eec47e" />
<rect x="181.10" y="749.33" width="17.90" height="14.60" fill="#4a79b0" />
<rect x="118.30" y="749.33" width="17.90" height="14.60" fill="#ce4f33" />
<rect x="200.50" y="749.33" width="17.90" height="14.60" fill="#b9d9e5" />
<text x="24.80" y="760.23" font-size="8.8" text-anchor="start" fill="#111" textLength="21.8" lengthAdjust="spacingAndGlyphs">C22:4</text>
<rect x="60.10" y="765.50" width="17.90" height="14.60" fill="#eca663" />
<rect x="142.30" y="765.50" width="17.90" height="14.60" fill="#8dbad2" />
<rect x="79.50" y="765.50" width="17.90" height="14.60" fill="#eba363" />
<rect x="161.70" y="765.50" width="17.90" height="14.60" fill="#dcebf0" />
<rect x="98.90" y="765.50" width="17.90" height="14.60" fill="#e99a5d" />
<rect x="181.10" y="765.50" width="17.90" height="14.60" fill="#76a6c8" />
<rect x="118.30" y="765.50" width="17.90" height="14.60" fill="#db6440" />
<rect x="200.50" y="765.50" width="17.90" height="14.60" fill="#5f91bc" />
<text x="24.80" y="776.40" font-size="8.8" text-anchor="start" fill="#111" textLength="21.8" lengthAdjust="spacingAndGlyphs">C22:5</text>
<rect x="60.10" y="781.67" width="17.90" height="14.60" fill="#f1d790" />
<rect x="142.30" y="781.67" width="17.90" height="14.60" fill="#6d9dc2" />
<rect x="79.50" y="781.67" width="17.90" height="14.60" fill="#eebb7a" />
<rect x="161.70" y="781.67" width="17.90" height="14.60" fill="#f0ebb8" />
<rect x="98.90" y="781.67" width="17.90" height="14.60" fill="#f1d790" />
<rect x="181.10" y="781.67" width="17.90" height="14.60" fill="#84b2ce" />
<rect x="118.30" y="781.67" width="17.90" height="14.60" fill="#b42127" />
<rect x="200.50" y="781.67" width="17.90" height="14.60" fill="#8dbad2" />
<text x="24.80" y="792.57" font-size="8.8" text-anchor="start" fill="#111" textLength="21.8" lengthAdjust="spacingAndGlyphs">C22:6</text>
<rect x="58.7" y="586.9" width="78.2" height="14.6" fill="#e2e6ea" stroke="#222" stroke-width="1.3"/>
<rect x="139.9" y="586.9" width="78.6" height="14.6" fill="#e2e6ea" stroke="#222" stroke-width="1.3"/>
<text x="99.30" y="597.20" font-size="8.4" text-anchor="middle" fill="#111" >Baseline</text>
<text x="175.50" y="597.20" font-size="8.4" text-anchor="middle" fill="#111" >12 week</text>
<text x="222.00" y="620.80" font-size="11" text-anchor="middle" fill="#333" >*</text>
<text x="222.00" y="636.97" font-size="11" text-anchor="middle" fill="#333" >*</text>
<text x="222.00" y="653.14" font-size="11" text-anchor="middle" fill="#333" >*</text>
<text x="222.00" y="669.31" font-size="11" text-anchor="middle" fill="#333" >*</text>
<text x="222.00" y="766.33" font-size="11" text-anchor="middle" fill="#333" >*</text>
<text x="64.00" y="804.90" font-size="7.4" text-anchor="middle" fill="#111" textLength="17.5" lengthAdjust="spacingAndGlyphs">HP-L</text>
<text x="84.90" y="804.90" font-size="7.4" text-anchor="middle" fill="#111" textLength="17.5" lengthAdjust="spacingAndGlyphs">HP-D</text>
<text x="105.60" y="804.90" font-size="7.4" text-anchor="middle" fill="#111" textLength="17.5" lengthAdjust="spacingAndGlyphs">HM-L</text>
<text x="127.00" y="804.90" font-size="7.4" text-anchor="middle" fill="#111" textLength="17.5" lengthAdjust="spacingAndGlyphs">HM-D</text>
<text x="149.20" y="804.90" font-size="7.4" text-anchor="middle" fill="#111" textLength="17.5" lengthAdjust="spacingAndGlyphs">HP-L</text>
<text x="169.20" y="804.90" font-size="7.4" text-anchor="middle" fill="#111" textLength="17.5" lengthAdjust="spacingAndGlyphs">HP-D</text>
<text x="189.90" y="804.90" font-size="7.4" text-anchor="middle" fill="#111" textLength="17.5" lengthAdjust="spacingAndGlyphs">HM-L</text>
<text x="211.10" y="804.90" font-size="7.4" text-anchor="middle" fill="#111" textLength="17.5" lengthAdjust="spacingAndGlyphs">HM-D</text>
<defs><linearGradient id="cb" x1="0" y1="0" x2="0" y2="1"><stop offset="0" stop-color="#b2182b"/><stop offset="0.25" stop-color="#ef8a62"/><stop offset="0.5" stop-color="#f7f3c0"/><stop offset="0.75" stop-color="#67a9cf"/><stop offset="1" stop-color="#2140a0"/></linearGradient></defs>
<rect x="229.10" y="730.90" width="3.80" height="62.30" fill="url(#cb)" />
<text x="236.80" y="733.20" font-size="7.4" text-anchor="start" fill="#111" >2</text>
<text x="236.80" y="748.60" font-size="7.4" text-anchor="start" fill="#111" >1</text>
<text x="236.80" y="764.20" font-size="7.4" text-anchor="start" fill="#111" >0</text>
<text x="236.80" y="779.60" font-size="7.4" text-anchor="start" fill="#111" >−1</text>
<text x="236.80" y="794.90" font-size="7.4" text-anchor="start" fill="#111" >−2</text>
<rect x="292.00" y="625.00" width="66.89" height="16.80" fill="#e87878" />
<rect x="358.89" y="625.00" width="22.36" height="16.80" fill="#a8d69c" />
<rect x="381.25" y="625.00" width="72.05" height="16.80" fill="#7f9fcb" />
<text x="323.60" y="636.10" font-size="7.4" text-anchor="middle" fill="#1a1a1a" >41.47%</text>
<text x="370.07" y="636.10" font-size="7.4" text-anchor="middle" fill="#1a1a1a" >13.86%</text>
<text x="413.80" y="636.10" font-size="7.4" text-anchor="middle" fill="#1a1a1a" >44.67%</text>
<line x1="286.50" y1="633.40" x2="291.10" y2="633.40" stroke="#111" stroke-width="1.3" />
<text x="262.40" y="637.00" font-size="8.4" text-anchor="start" fill="#111" >HP-L</text>
<rect x="292.00" y="650.60" width="57.05" height="16.80" fill="#e87878" />
<rect x="349.05" y="650.60" width="23.94" height="16.80" fill="#a8d69c" />
<rect x="372.99" y="650.60" width="80.31" height="16.80" fill="#7f9fcb" />
<text x="323.60" y="661.70" font-size="7.4" text-anchor="middle" fill="#1a1a1a" >35.37%</text>
<text x="361.02" y="661.70" font-size="7.4" text-anchor="middle" fill="#1a1a1a" >14.84%</text>
<text x="413.80" y="661.70" font-size="7.4" text-anchor="middle" fill="#1a1a1a" >49.79%</text>
<line x1="286.50" y1="659.00" x2="291.10" y2="659.00" stroke="#111" stroke-width="1.3" />
<text x="262.40" y="662.60" font-size="8.4" text-anchor="start" fill="#111" >HP-D</text>
<rect x="292.00" y="675.60" width="60.63" height="16.80" fill="#e87878" />
<rect x="352.63" y="675.60" width="23.36" height="16.80" fill="#a8d69c" />
<rect x="375.99" y="675.60" width="77.31" height="16.80" fill="#7f9fcb" />
<text x="323.60" y="686.70" font-size="7.4" text-anchor="middle" fill="#1a1a1a" >37.59%</text>
<text x="364.31" y="686.70" font-size="7.4" text-anchor="middle" fill="#1a1a1a" >14.48%</text>
<text x="413.80" y="686.70" font-size="7.4" text-anchor="middle" fill="#1a1a1a" >47.93%</text>
<line x1="286.50" y1="684.00" x2="291.10" y2="684.00" stroke="#111" stroke-width="1.3" />
<text x="262.40" y="687.60" font-size="8.4" text-anchor="start" fill="#111" >HM-L</text>
<rect x="292.00" y="701.10" width="66.34" height="16.80" fill="#e87878" />
<rect x="358.34" y="701.10" width="22.13" height="16.80" fill="#a8d69c" />
<rect x="380.47" y="701.10" width="72.83" height="16.80" fill="#7f9fcb" />
<text x="323.60" y="712.20" font-size="7.4" text-anchor="middle" fill="#1a1a1a" >41.13%</text>
<text x="369.41" y="712.20" font-size="7.4" text-anchor="middle" fill="#1a1a1a" >13.72%</text>
<text x="413.80" y="712.20" font-size="7.4" text-anchor="middle" fill="#1a1a1a" >45.15%</text>
<line x1="286.50" y1="709.50" x2="291.10" y2="709.50" stroke="#111" stroke-width="1.3" />
<text x="262.40" y="713.10" font-size="8.4" text-anchor="start" fill="#111" >HM-D</text>
<line x1="291.10" y1="616.50" x2="291.10" y2="726.50" stroke="#111" stroke-width="1.7" />
<line x1="290.40" y1="725.80" x2="455.40" y2="725.80" stroke="#111" stroke-width="1.8" />
<line x1="291.10" y1="725.80" x2="291.10" y2="730.80" stroke="#111" stroke-width="1.3" />
<text x="291.10" y="740.00" font-size="8.3" text-anchor="middle" fill="#111" >0</text>
<line x1="323.82" y1="725.80" x2="323.82" y2="730.80" stroke="#111" stroke-width="1.3" />
<text x="323.82" y="740.00" font-size="8.3" text-anchor="middle" fill="#111" >20</text>
<line x1="356.54" y1="725.80" x2="356.54" y2="730.80" stroke="#111" stroke-width="1.3" />
<text x="356.54" y="740.00" font-size="8.3" text-anchor="middle" fill="#111" >40</text>
<line x1="389.26" y1="725.80" x2="389.26" y2="730.80" stroke="#111" stroke-width="1.3" />
<text x="389.26" y="740.00" font-size="8.3" text-anchor="middle" fill="#111" >60</text>
<line x1="421.98" y1="725.80" x2="421.98" y2="730.80" stroke="#111" stroke-width="1.3" />
<text x="421.98" y="740.00" font-size="8.3" text-anchor="middle" fill="#111" >80</text>
<line x1="454.70" y1="725.80" x2="454.70" y2="730.80" stroke="#111" stroke-width="1.3" />
<text x="454.70" y="740.00" font-size="8.3" text-anchor="middle" fill="#111" >100</text>
<text x="371.40" y="616.00" font-size="8.3" text-anchor="middle" fill="#111" >Baseline</text>
<rect x="470.00" y="625.00" width="47.56" height="16.80" fill="#e87878" />
<rect x="517.56" y="625.00" width="26.71" height="16.80" fill="#a8d69c" />
<rect x="544.27" y="625.00" width="87.33" height="16.80" fill="#7f9fcb" />
<text x="495.00" y="636.10" font-size="7.4" text-anchor="middle" fill="#1a1a1a" >29.43%</text>
<text x="530.92" y="636.10" font-size="7.4" text-anchor="middle" fill="#1a1a1a" >16.53%</text>
<text x="588.80" y="636.10" font-size="7.4" text-anchor="middle" fill="#1a1a1a" >54.04%</text>
<line x1="464.60" y1="633.40" x2="469.20" y2="633.40" stroke="#111" stroke-width="1.3" />
<rect x="470.00" y="650.60" width="57.90" height="16.80" fill="#e87878" />
<rect x="527.90" y="650.60" width="23.59" height="16.80" fill="#a8d69c" />
<rect x="551.49" y="650.60" width="80.11" height="16.80" fill="#7f9fcb" />
<text x="495.00" y="661.70" font-size="7.4" text-anchor="middle" fill="#1a1a1a" >35.83%</text>
<text x="539.70" y="661.70" font-size="7.4" text-anchor="middle" fill="#1a1a1a" >14.60%</text>
<text x="588.80" y="661.70" font-size="7.4" text-anchor="middle" fill="#1a1a1a" >49.57%</text>
<line x1="464.60" y1="659.00" x2="469.20" y2="659.00" stroke="#111" stroke-width="1.3" />
<rect x="470.00" y="675.60" width="46.35" height="16.80" fill="#e87878" />
<rect x="516.35" y="675.60" width="25.86" height="16.80" fill="#a8d69c" />
<rect x="542.20" y="675.60" width="89.40" height="16.80" fill="#7f9fcb" />
<text x="495.00" y="686.70" font-size="7.4" text-anchor="middle" fill="#1a1a1a" >28.68%</text>
<text x="529.27" y="686.70" font-size="7.4" text-anchor="middle" fill="#1a1a1a" >16.00%</text>
<text x="588.80" y="686.70" font-size="7.4" text-anchor="middle" fill="#1a1a1a" >55.32%</text>
<line x1="464.60" y1="684.00" x2="469.20" y2="684.00" stroke="#111" stroke-width="1.3" />
<rect x="470.00" y="701.10" width="62.05" height="16.80" fill="#e87878" />
<rect x="532.05" y="701.10" width="23.28" height="16.80" fill="#a8d69c" />
<rect x="555.33" y="701.10" width="76.27" height="16.80" fill="#7f9fcb" />
<text x="495.00" y="712.20" font-size="7.4" text-anchor="middle" fill="#1a1a1a" >38.40%</text>
<text x="543.69" y="712.20" font-size="7.4" text-anchor="middle" fill="#1a1a1a" >14.41%</text>
<text x="588.80" y="712.20" font-size="7.4" text-anchor="middle" fill="#1a1a1a" >47.20%</text>
<line x1="464.60" y1="709.50" x2="469.20" y2="709.50" stroke="#111" stroke-width="1.3" />
<line x1="469.20" y1="616.00" x2="469.20" y2="725.90" stroke="#111" stroke-width="1.7" />
<line x1="468.50" y1="725.20" x2="634.20" y2="725.20" stroke="#111" stroke-width="1.8" />
<line x1="469.20" y1="725.20" x2="469.20" y2="730.20" stroke="#111" stroke-width="1.3" />
<text x="469.20" y="739.40" font-size="8.3" text-anchor="middle" fill="#111" >0</text>
<line x1="502.06" y1="725.20" x2="502.06" y2="730.20" stroke="#111" stroke-width="1.3" />
<text x="502.06" y="739.40" font-size="8.3" text-anchor="middle" fill="#111" >20</text>
<line x1="534.92" y1="725.20" x2="534.92" y2="730.20" stroke="#111" stroke-width="1.3" />
<text x="534.92" y="739.40" font-size="8.3" text-anchor="middle" fill="#111" >40</text>
<line x1="567.78" y1="725.20" x2="567.78" y2="730.20" stroke="#111" stroke-width="1.3" />
<text x="567.78" y="739.40" font-size="8.3" text-anchor="middle" fill="#111" >60</text>
<line x1="600.64" y1="725.20" x2="600.64" y2="730.20" stroke="#111" stroke-width="1.3" />
<text x="600.64" y="739.40" font-size="8.3" text-anchor="middle" fill="#111" >80</text>
<line x1="633.50" y1="725.20" x2="633.50" y2="730.20" stroke="#111" stroke-width="1.3" />
<text x="633.50" y="739.40" font-size="8.3" text-anchor="middle" fill="#111" >100</text>
<text x="552.00" y="616.00" font-size="8.3" text-anchor="middle" fill="#111" >12 Week</text>
<rect x="642.30" y="625.80" width="14.20" height="7.40" fill="#e87878" rx="0.8"/>
<text x="661.00" y="633.10" font-size="8.2" text-anchor="start" fill="#111" >SFA</text>
<rect x="642.30" y="642.30" width="14.20" height="7.40" fill="#a8d69c" rx="0.8"/>
<text x="661.00" y="649.60" font-size="8.2" text-anchor="start" fill="#111" >MUFA</text>
<rect x="642.30" y="658.80" width="14.20" height="7.40" fill="#7f9fcb" rx="0.8"/>
<text x="661.00" y="666.10" font-size="8.2" text-anchor="start" fill="#111" >PUFA</text>
</svg>
</body></html>
